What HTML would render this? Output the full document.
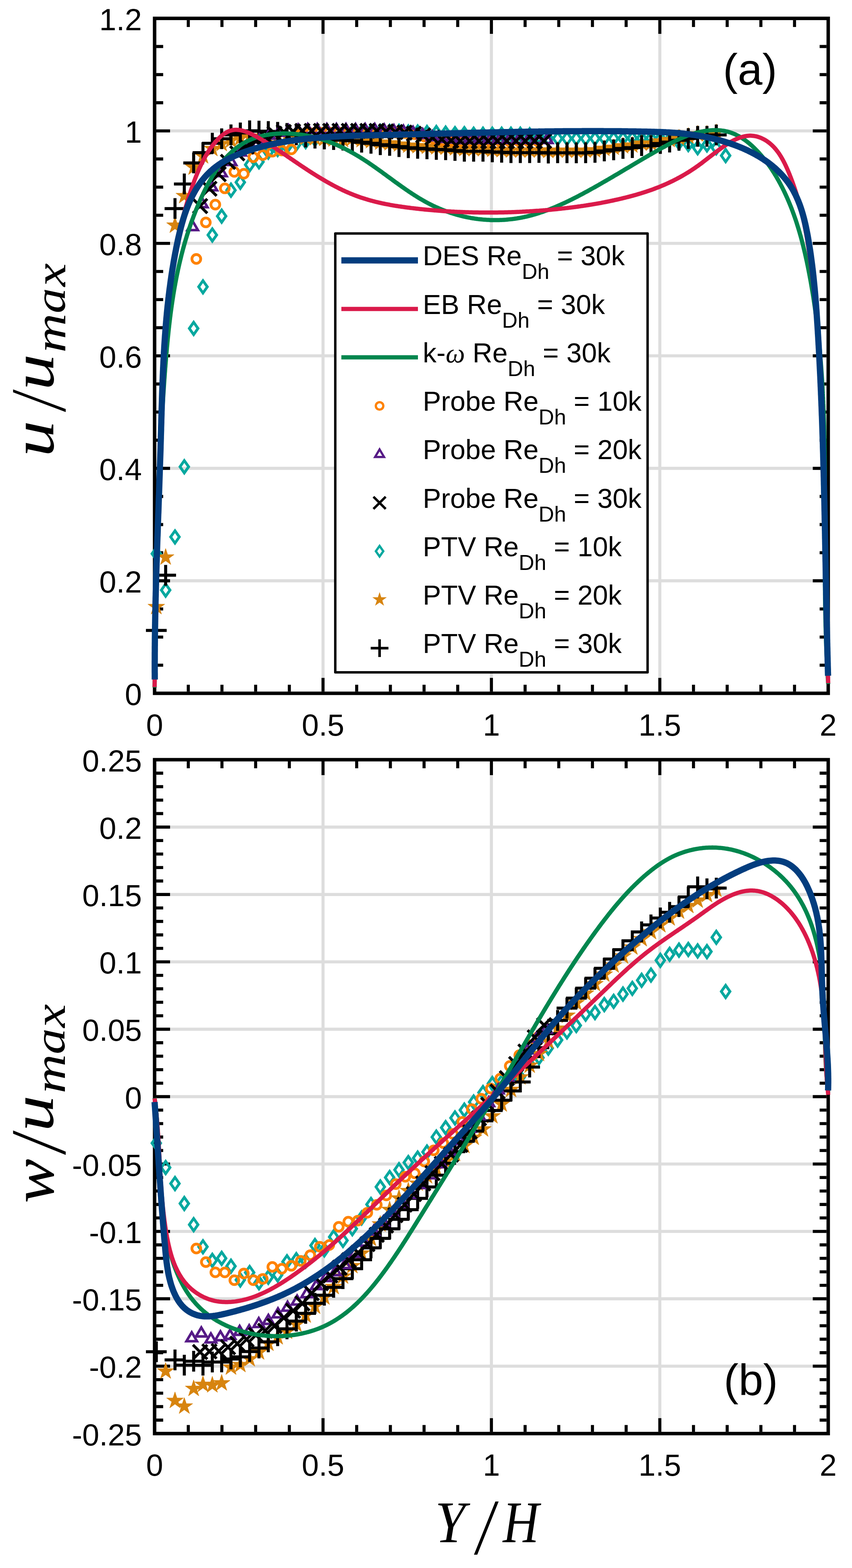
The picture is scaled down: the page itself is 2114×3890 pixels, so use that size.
<!DOCTYPE html>
<html><head><meta charset="utf-8"><title>Velocity profiles</title>
<style>html,body{margin:0;padding:0;background:#fff;}svg{display:block;}</style>
</head><body>
<svg xmlns="http://www.w3.org/2000/svg" width="2114" height="3890" viewBox="0 0 2114 3890">
<defs><clipPath id="ca"><rect x="363.6" y="45.6" width="1711.4" height="1694.4"/></clipPath><clipPath id="cb"><rect x="363.6" y="1864.7" width="1711.4" height="1691.8"/></clipPath></defs>
<rect width="2114" height="3890" fill="#fff"/>
<path d="M801.5 45.6V1720M1219.3 45.6V1720M1637.2 45.6V1720M383.6 1440.9H2055M383.6 1161.9H2055M383.6 882.8H2055M383.6 603.7H2055M383.6 324.7H2055" stroke="#000" stroke-opacity="0.135" stroke-width="7.6" fill="none"/>
<path d="M467.2 49.9v17M467.2 1715.7v-17M550.7 49.9v17M550.7 1715.7v-17M634.3 49.9v17M634.3 1715.7v-17M717.9 49.9v17M717.9 1715.7v-17M801.5 49.9v34M801.5 1715.7v-34M885 49.9v17M885 1715.7v-17M968.6 49.9v17M968.6 1715.7v-17M1052.2 49.9v17M1052.2 1715.7v-17M1135.7 49.9v17M1135.7 1715.7v-17M1219.3 49.9v34M1219.3 1715.7v-34M1302.9 49.9v17M1302.9 1715.7v-17M1386.4 49.9v17M1386.4 1715.7v-17M1470 49.9v17M1470 1715.7v-17M1553.6 49.9v17M1553.6 1715.7v-17M1637.2 49.9v34M1637.2 1715.7v-34M1720.7 49.9v17M1720.7 1715.7v-17M1804.3 49.9v17M1804.3 1715.7v-17M1887.9 49.9v17M1887.9 1715.7v-17M1971.4 49.9v17M1971.4 1715.7v-17M387.9 1650.2h17M2050.7 1650.2h-17M387.9 1580.5h17M2050.7 1580.5h-17M387.9 1510.7h17M2050.7 1510.7h-17M387.9 1440.9h34M2050.7 1440.9h-34M387.9 1371.2h17M2050.7 1371.2h-17M387.9 1301.4h17M2050.7 1301.4h-17M387.9 1231.6h17M2050.7 1231.6h-17M387.9 1161.9h34M2050.7 1161.9h-34M387.9 1092.1h17M2050.7 1092.1h-17M387.9 1022.3h17M2050.7 1022.3h-17M387.9 952.6h17M2050.7 952.6h-17M387.9 882.8h34M2050.7 882.8h-34M387.9 813h17M2050.7 813h-17M387.9 743.3h17M2050.7 743.3h-17M387.9 673.5h17M2050.7 673.5h-17M387.9 603.7h34M2050.7 603.7h-34M387.9 534h17M2050.7 534h-17M387.9 464.2h17M2050.7 464.2h-17M387.9 394.4h17M2050.7 394.4h-17M387.9 324.7h34M2050.7 324.7h-34M387.9 254.9h17M2050.7 254.9h-17M387.9 185.1h17M2050.7 185.1h-17M387.9 115.4h17M2050.7 115.4h-17" stroke="#000" stroke-width="7.6" fill="none"/>
<rect x="383.6" y="45.6" width="1671.4" height="1674.4" fill="none" stroke="#000" stroke-width="8.6"/>
<text x="352" y="1749" text-anchor="end" style="font-family:'Liberation Sans',Arial,Helvetica,sans-serif;font-size:76px">0</text>
<text x="352" y="1469.9" text-anchor="end" style="font-family:'Liberation Sans',Arial,Helvetica,sans-serif;font-size:76px">0.2</text>
<text x="352" y="1190.9" text-anchor="end" style="font-family:'Liberation Sans',Arial,Helvetica,sans-serif;font-size:76px">0.4</text>
<text x="352" y="911.8" text-anchor="end" style="font-family:'Liberation Sans',Arial,Helvetica,sans-serif;font-size:76px">0.6</text>
<text x="352" y="632.7" text-anchor="end" style="font-family:'Liberation Sans',Arial,Helvetica,sans-serif;font-size:76px">0.8</text>
<text x="352" y="353.7" text-anchor="end" style="font-family:'Liberation Sans',Arial,Helvetica,sans-serif;font-size:76px">1</text>
<text x="352" y="74.6" text-anchor="end" style="font-family:'Liberation Sans',Arial,Helvetica,sans-serif;font-size:76px">1.2</text>
<text x="383.6" y="1824.5" text-anchor="middle" style="font-family:'Liberation Sans',Arial,Helvetica,sans-serif;font-size:76px">0</text>
<text x="801.5" y="1824.5" text-anchor="middle" style="font-family:'Liberation Sans',Arial,Helvetica,sans-serif;font-size:76px">0.5</text>
<text x="1219.3" y="1824.5" text-anchor="middle" style="font-family:'Liberation Sans',Arial,Helvetica,sans-serif;font-size:76px">1</text>
<text x="1637.2" y="1824.5" text-anchor="middle" style="font-family:'Liberation Sans',Arial,Helvetica,sans-serif;font-size:76px">1.5</text>
<text x="2055" y="1824.5" text-anchor="middle" style="font-family:'Liberation Sans',Arial,Helvetica,sans-serif;font-size:76px">2</text>
<g fill="none" stroke="#06a89f" stroke-width="6.8" stroke-linejoin="miter"><path d="M387.9 1358.4L398.6 1373.7L387.9 1389L377.1 1373.7Z"/><path d="M411 1448.6L421.8 1464L411 1479.3L400.3 1464Z"/><path d="M434.2 1316.8L444.9 1332.1L434.2 1347.4L423.4 1332.1Z"/><path d="M457.3 1142.6L468.1 1158L457.3 1173.3L446.6 1158Z"/><path d="M480.5 799.5L491.3 814.8L480.5 830.2L469.7 814.8Z"/><path d="M503.6 696.3L514.4 711.6L503.6 726.9L492.9 711.6Z"/><path d="M526.8 567.6L537.6 582.9L526.8 598.3L516 582.9Z"/><path d="M550 520.9L560.7 536.2L550 551.5L539.2 536.2Z"/><path d="M573.1 456.5L583.9 471.9L573.1 487.2L562.4 471.9Z"/><path d="M596.3 436.9L607 452.2L596.3 467.5L585.5 452.2Z"/><path d="M619.4 393.5L630.2 408.8L619.4 424.1L608.7 408.8Z"/><path d="M642.6 386.1L653.4 401.4L642.6 416.7L631.8 401.4Z"/><path d="M665.7 361.8L676.5 377.1L665.7 392.5L655 377.1Z"/><path d="M688.9 355.4L699.7 370.7L688.9 386L678.1 370.7Z"/><path d="M712.1 348.4L722.8 363.7L712.1 379.1L701.3 363.7Z"/><path d="M735.2 341.4L746 356.8L735.2 372.1L724.5 356.8Z"/><path d="M758.4 335.9L769.1 351.2L758.4 366.5L747.6 351.2Z"/><path d="M781.5 330.3L792.3 345.6L781.5 360.9L770.8 345.6Z"/><path d="M804.7 326.1L815.5 341.4L804.7 356.7L793.9 341.4Z"/><path d="M827.8 321.9L838.6 337.2L827.8 352.6L817.1 337.2Z"/><path d="M851 317.7L861.8 333L851 348.4L840.2 333Z"/><path d="M874.2 313.5L884.9 328.9L874.2 344.2L863.4 328.9Z"/><path d="M897.3 312.1L908.1 327.5L897.3 342.8L886.6 327.5Z"/><path d="M920.5 310.7L931.2 326.1L920.5 341.4L909.7 326.1Z"/><path d="M943.6 310.7L954.4 326.1L943.6 341.4L932.9 326.1Z"/><path d="M966.8 310.7L977.6 326.1L966.8 341.4L956 326.1Z"/><path d="M990 310.7L1000.7 326.1L990 341.4L979.2 326.1Z"/><path d="M1013.1 312.1L1023.9 327.5L1013.1 342.8L1002.3 327.5Z"/><path d="M1036.3 312.1L1047 327.5L1036.3 342.8L1025.5 327.5Z"/><path d="M1059.4 313.5L1070.2 328.9L1059.4 344.2L1048.7 328.9Z"/><path d="M1082.6 313.5L1093.3 328.9L1082.6 344.2L1071.8 328.9Z"/><path d="M1105.7 314.9L1116.5 330.2L1105.7 345.6L1095 330.2Z"/><path d="M1128.9 316.3L1139.7 331.6L1128.9 347L1118.1 331.6Z"/><path d="M1152.1 316.3L1162.8 331.6L1152.1 347L1141.3 331.6Z"/><path d="M1175.2 317.7L1186 333L1175.2 348.4L1164.4 333Z"/><path d="M1198.4 317.7L1209.1 333L1198.4 348.4L1187.6 333Z"/><path d="M1221.5 317.7L1232.3 333L1221.5 348.4L1210.8 333Z"/><path d="M1244.7 317.7L1255.4 333L1244.7 348.4L1233.9 333Z"/><path d="M1267.8 317.7L1278.6 333L1267.8 348.4L1257.1 333Z"/><path d="M1291 317.7L1301.8 333L1291 348.4L1280.2 333Z"/><path d="M1314.2 319.1L1324.9 334.4L1314.2 349.8L1303.4 334.4Z"/><path d="M1337.3 323.3L1348.1 338.6L1337.3 353.9L1326.5 338.6Z"/><path d="M1360.5 328.3L1371.2 343.6L1360.5 359L1349.7 343.6Z"/><path d="M1383.6 328.3L1394.4 343.6L1383.6 359L1372.9 343.6Z"/><path d="M1406.8 328.3L1417.5 343.6L1406.8 359L1396 343.6Z"/><path d="M1429.9 328.3L1440.7 343.6L1429.9 359L1419.2 343.6Z"/><path d="M1453.1 328.3L1463.9 343.6L1453.1 359L1442.3 343.6Z"/><path d="M1476.3 328.3L1487 343.6L1476.3 359L1465.5 343.6Z"/><path d="M1499.4 328.3L1510.2 343.6L1499.4 359L1488.6 343.6Z"/><path d="M1522.6 328.3L1533.3 343.6L1522.6 359L1511.8 343.6Z"/><path d="M1545.7 328.3L1556.5 343.6L1545.7 359L1535 343.6Z"/><path d="M1568.9 327.5L1579.6 342.8L1568.9 358.1L1558.1 342.8Z"/><path d="M1592 327.5L1602.8 342.8L1592 358.1L1581.3 342.8Z"/><path d="M1615.2 327.5L1626 342.8L1615.2 358.1L1604.4 342.8Z"/><path d="M1638.4 327.5L1649.1 342.8L1638.4 358.1L1627.6 342.8Z"/><path d="M1661.5 330.3L1672.3 345.6L1661.5 360.9L1650.7 345.6Z"/><path d="M1684.7 338.6L1695.4 354L1684.7 369.3L1673.9 354Z"/><path d="M1707.8 343.1L1718.6 358.4L1707.8 373.8L1697.1 358.4Z"/><path d="M1731 351.2L1741.7 366.5L1731 381.9L1720.2 366.5Z"/><path d="M1754.1 344.2L1764.9 359.5L1754.1 374.9L1743.4 359.5Z"/><path d="M1777.3 351.2L1788.1 366.5L1777.3 381.9L1766.5 366.5Z"/><path d="M1800.5 370.7L1811.2 386.1L1800.5 401.4L1789.7 386.1Z"/></g>
<g fill="#d7840f" stroke="#d7840f" stroke-width="1"><polygon points="387.9,1483.7 392.8,1498.9 408.8,1498.9 395.9,1508.3 400.8,1523.5 387.9,1514.1 374.9,1523.5 379.9,1508.3 366.9,1498.9 382.9,1498.9"/><polygon points="411,1360.8 416,1376 431.9,1376 419,1385.3 423.9,1400.5 411,1391.2 398.1,1400.5 403,1385.3 390.1,1376 406.1,1376"/><polygon points="434.2,537.4 439.1,552.6 455.1,552.6 442.2,562 447.1,577.2 434.2,567.8 421.2,577.2 426.2,562 413.3,552.6 429.2,552.6"/><polygon points="457.3,464.1 462.3,479.3 478.3,479.3 465.3,488.7 470.3,503.9 457.3,494.5 444.4,503.9 449.3,488.7 436.4,479.3 452.4,479.3"/><polygon points="480.5,393.4 485.4,408.6 501.4,408.6 488.5,418 493.4,433.2 480.5,423.8 467.6,433.2 472.5,418 459.6,408.6 475.6,408.6"/><polygon points="503.6,365.5 508.6,380.7 524.6,380.7 511.6,390.1 516.6,405.3 503.6,395.9 490.7,405.3 495.7,390.1 482.7,380.7 498.7,380.7"/><polygon points="526.8,347.3 531.7,362.5 547.7,362.5 534.8,371.9 539.7,387.1 526.8,377.7 513.9,387.1 518.8,371.9 505.9,362.5 521.9,362.5"/><polygon points="550,334.8 554.9,350 570.9,350 558,359.4 562.9,374.6 550,365.2 537,374.6 542,359.4 529,350 545,350"/><polygon points="573.1,326.4 578.1,341.6 594,341.6 581.1,351 586,366.2 573.1,356.8 560.2,366.2 565.1,351 552.2,341.6 568.2,341.6"/><polygon points="596.3,320.8 601.2,336 617.2,336 604.3,345.4 609.2,360.6 596.3,351.2 583.3,360.6 588.3,345.4 575.4,336 591.3,336"/><polygon points="619.4,318 624.4,333.2 640.4,333.2 627.4,342.6 632.4,357.8 619.4,348.4 606.5,357.8 611.4,342.6 598.5,333.2 614.5,333.2"/><polygon points="642.6,316.6 647.5,331.8 663.5,331.8 650.6,341.2 655.5,356.4 642.6,347 629.7,356.4 634.6,341.2 621.7,331.8 637.7,331.8"/><polygon points="665.7,316.6 670.7,331.8 686.7,331.8 673.7,341.2 678.7,356.4 665.7,347 652.8,356.4 657.8,341.2 644.8,331.8 660.8,331.8"/><polygon points="688.9,316.6 693.8,331.8 709.8,331.8 696.9,341.2 701.8,356.4 688.9,347 676,356.4 680.9,341.2 668,331.8 684,331.8"/><polygon points="712.1,316.6 717,331.8 733,331.8 720.1,341.2 725,356.4 712.1,347 699.1,356.4 704.1,341.2 691.1,331.8 707.1,331.8"/><polygon points="735.2,318 740.2,333.2 756.1,333.2 743.2,342.6 748.1,357.8 735.2,348.4 722.3,357.8 727.2,342.6 714.3,333.2 730.3,333.2"/><polygon points="758.4,319.4 763.3,334.6 779.3,334.6 766.4,344 771.3,359.2 758.4,349.8 745.4,359.2 750.4,344 737.5,334.6 753.4,334.6"/><polygon points="781.5,320.8 786.5,336 802.5,336 789.5,345.4 794.5,360.6 781.5,351.2 768.6,360.6 773.5,345.4 760.6,336 776.6,336"/><polygon points="804.7,322.2 809.6,337.4 825.6,337.4 812.7,346.8 817.6,362 804.7,352.6 791.8,362 796.7,346.8 783.8,337.4 799.8,337.4"/><polygon points="827.8,323.6 832.8,338.8 848.8,338.8 835.8,348.2 840.8,363.4 827.8,354 814.9,363.4 819.9,348.2 806.9,338.8 822.9,338.8"/><polygon points="851,325 855.9,340.2 871.9,340.2 859,349.6 863.9,364.8 851,355.4 838.1,364.8 843,349.6 830.1,340.2 846.1,340.2"/><polygon points="874.2,321.6 879.1,336.8 895.1,336.8 882.2,346.2 887.1,361.4 874.2,352 861.2,361.4 866.2,346.2 853.2,336.8 869.2,336.8"/><polygon points="897.3,325.3 902.3,340.5 918.2,340.5 905.3,349.9 910.3,365.1 897.3,355.7 884.4,365.1 889.3,349.9 876.4,340.5 892.4,340.5"/><polygon points="920.5,327.9 925.4,343.1 941.4,343.1 928.5,352.5 933.4,367.7 920.5,358.3 907.5,367.7 912.5,352.5 899.6,343.1 915.5,343.1"/><polygon points="943.6,331.4 948.6,346.6 964.6,346.6 951.6,356 956.6,371.2 943.6,361.8 930.7,371.2 935.6,356 922.7,346.6 938.7,346.6"/><polygon points="966.8,333.2 971.7,348.4 987.7,348.4 974.8,357.8 979.7,373 966.8,363.6 953.9,373 958.8,357.8 945.9,348.4 961.9,348.4"/><polygon points="990,336.2 994.9,351.4 1010.9,351.4 997.9,360.8 1002.9,375.9 990,366.6 977,375.9 982,360.8 969,351.4 985,351.4"/><polygon points="1013.1,338.9 1018,354.1 1034,354.1 1021.1,363.5 1026,378.7 1013.1,369.3 1000.2,378.7 1005.1,363.5 992.2,354.1 1008.2,354.1"/><polygon points="1036.3,340.3 1041.2,355.5 1057.2,355.5 1044.3,364.9 1049.2,380.1 1036.3,370.7 1023.3,380.1 1028.3,364.9 1015.3,355.5 1031.3,355.5"/><polygon points="1059.4,341.7 1064.4,356.9 1080.3,356.9 1067.4,366.3 1072.4,381.5 1059.4,372.1 1046.5,381.5 1051.4,366.3 1038.5,356.9 1054.5,356.9"/><polygon points="1082.6,343.1 1087.5,358.3 1103.5,358.3 1090.6,367.7 1095.5,382.9 1082.6,373.5 1069.7,382.9 1074.6,367.7 1061.7,358.3 1077.6,358.3"/><polygon points="1105.7,344 1110.7,359.2 1126.7,359.2 1113.7,368.6 1118.7,383.8 1105.7,374.4 1092.8,383.8 1097.7,368.6 1084.8,359.2 1100.8,359.2"/><polygon points="1128.9,345.8 1133.8,361 1149.8,361 1136.9,370.4 1141.8,385.6 1128.9,376.2 1116,385.6 1120.9,370.4 1108,361 1124,361"/><polygon points="1152.1,347.6 1157,362.8 1173,362.8 1160,372.2 1165,387.4 1152.1,378 1139.1,387.4 1144.1,372.2 1131.1,362.8 1147.1,362.8"/><polygon points="1175.2,347.6 1180.1,362.8 1196.1,362.8 1183.2,372.2 1188.1,387.4 1175.2,378 1162.3,387.4 1167.2,372.2 1154.3,362.8 1170.3,362.8"/><polygon points="1198.4,347.6 1203.3,362.8 1219.3,362.8 1206.4,372.2 1211.3,387.4 1198.4,378 1185.4,387.4 1190.4,372.2 1177.4,362.8 1193.4,362.8"/><polygon points="1221.5,349.3 1226.5,364.5 1242.4,364.5 1229.5,373.9 1234.5,389.1 1221.5,379.7 1208.6,389.1 1213.5,373.9 1200.6,364.5 1216.6,364.5"/><polygon points="1244.7,350.3 1249.6,365.4 1265.6,365.5 1252.7,374.8 1257.6,390 1244.7,380.7 1231.8,390 1236.7,374.8 1223.8,365.5 1239.7,365.4"/><polygon points="1267.8,351.1 1272.8,366.3 1288.8,366.3 1275.8,375.7 1280.8,390.9 1267.8,381.5 1254.9,390.9 1259.8,375.7 1246.9,366.3 1262.9,366.3"/><polygon points="1291,351.1 1295.9,366.3 1311.9,366.3 1299,375.7 1303.9,390.9 1291,381.5 1278.1,390.9 1283,375.7 1270.1,366.3 1286.1,366.3"/><polygon points="1314.2,351.1 1319.1,366.3 1335.1,366.3 1322.1,375.7 1327.1,390.9 1314.2,381.5 1301.2,390.9 1306.2,375.7 1293.2,366.3 1309.2,366.3"/><polygon points="1337.3,350.8 1342.2,366 1358.2,366 1345.3,375.4 1350.2,390.6 1337.3,381.2 1324.4,390.6 1329.3,375.4 1316.4,366 1332.4,366"/><polygon points="1360.5,352.1 1365.4,367.3 1381.4,367.3 1368.5,376.7 1373.4,391.9 1360.5,382.5 1347.5,391.9 1352.5,376.7 1339.5,367.3 1355.5,367.3"/><polygon points="1383.6,351.4 1388.6,366.6 1404.5,366.6 1391.6,376 1396.6,391.2 1383.6,381.8 1370.7,391.2 1375.6,376 1362.7,366.6 1378.7,366.6"/><polygon points="1406.8,351.4 1411.7,366.6 1427.7,366.6 1414.8,376 1419.7,391.2 1406.8,381.8 1393.9,391.2 1398.8,376 1385.9,366.6 1401.8,366.6"/><polygon points="1429.9,351.8 1434.9,367 1450.9,367 1437.9,376.4 1442.9,391.6 1429.9,382.2 1417,391.6 1421.9,376.4 1409,367 1425,367"/><polygon points="1453.1,351.4 1458,366.6 1474,366.6 1461.1,376 1466,391.2 1453.1,381.8 1440.2,391.2 1445.1,376 1432.2,366.6 1448.2,366.6"/><polygon points="1476.3,350.5 1481.2,365.7 1497.2,365.7 1484.2,375.1 1489.2,390.3 1476.3,380.9 1463.3,390.3 1468.3,375.1 1455.3,365.7 1471.3,365.7"/><polygon points="1499.4,346.9 1504.3,362.1 1520.3,362.1 1507.4,371.5 1512.3,386.7 1499.4,377.3 1486.5,386.7 1491.4,371.5 1478.5,362.1 1494.5,362.1"/><polygon points="1522.6,344.3 1527.5,359.4 1543.5,359.5 1530.6,368.8 1535.5,384 1522.6,374.7 1509.6,384 1514.6,368.8 1501.6,359.5 1517.6,359.4"/><polygon points="1545.7,340.6 1550.7,355.8 1566.6,355.8 1553.7,365.2 1558.7,380.4 1545.7,371 1532.8,380.4 1537.7,365.2 1524.8,355.8 1540.8,355.8"/><polygon points="1568.9,338.7 1573.8,353.9 1589.8,353.9 1576.9,363.3 1581.8,378.5 1568.9,369.1 1556,378.5 1560.9,363.3 1548,353.9 1563.9,353.9"/><polygon points="1592,333.8 1597,349 1613,349 1600,358.4 1605,373.6 1592,364.2 1579.1,373.6 1584,358.4 1571.1,349 1587.1,349"/><polygon points="1615.2,333.8 1620.1,349 1636.1,349 1623.2,358.4 1628.1,373.6 1615.2,364.2 1602.3,373.6 1607.2,358.4 1594.3,349 1610.3,349"/><polygon points="1638.4,328.5 1643.3,343.7 1659.3,343.7 1646.3,353.1 1651.3,368.3 1638.4,358.9 1625.4,368.3 1630.4,353.1 1617.4,343.7 1633.4,343.7"/><polygon points="1661.5,325 1666.4,340.2 1682.4,340.2 1669.5,349.6 1674.4,364.8 1661.5,355.4 1648.6,364.8 1653.5,349.6 1640.6,340.2 1656.6,340.2"/><polygon points="1684.7,320.5 1689.6,335.7 1705.6,335.7 1692.7,345.1 1697.6,360.3 1684.7,350.9 1671.7,360.3 1676.7,345.1 1663.7,335.7 1679.7,335.7"/><polygon points="1707.8,316.1 1712.8,331.3 1728.7,331.3 1715.8,340.7 1720.8,355.9 1707.8,346.5 1694.9,355.9 1699.8,340.7 1686.9,331.3 1702.9,331.3"/><polygon points="1731,310.8 1735.9,326 1751.9,326 1739,335.4 1743.9,350.6 1731,341.2 1718.1,350.6 1723,335.4 1710.1,326 1726,326"/><polygon points="1754.1,310.8 1759.1,326 1775.1,326 1762.1,335.4 1767.1,350.6 1754.1,341.2 1741.2,350.6 1746.1,335.4 1733.2,326 1749.2,326"/><polygon points="1777.3,307.1 1782.2,322.3 1798.2,322.3 1785.3,331.7 1790.2,346.9 1777.3,337.5 1764.4,346.9 1769.3,331.7 1756.4,322.3 1772.4,322.3"/></g>
<path d="M362.1 1564H413.6M387.9 1538.3V1589.7M385.3 1427.1H436.8M411 1401.4V1452.9M408.4 517.4H459.9M434.2 491.6V543.1M431.6 456.4H483.1M457.3 430.6V482.1M454.8 404.2H506.2M480.5 378.5V429.9M477.9 378.7H529.4M503.6 352.9V404.4M501.1 355.4H552.5M526.8 329.6V381.1M524.2 344.2H575.7M550 318.5V369.9M547.4 334.4H598.9M573.1 308.7V360.2M570.5 329.7H622M596.3 303.9V355.4M593.7 324.5H645.2M619.4 298.8V350.3M616.9 325.4H668.3M642.6 299.6V351.1M640 326.3H691.5M665.7 300.6V352.1M663.2 328.2H714.6M688.9 302.4V353.9M686.3 330.9H737.8M712.1 305.2V356.7M709.5 334.4H761M735.2 308.7V360.2M732.6 340H784.1M758.4 314.3V365.8M755.8 342.8H807.3M781.5 317.1V368.5M779 344.9H830.4M804.7 319.2V370.6M802.1 346.3H853.6M827.8 320.6V372M825.3 347.7H876.7M851 321.9V373.4M848.4 349.2H899.9M874.2 323.5V375M871.6 352.9H923.1M897.3 327.1V378.6M894.7 355.5H946.2M920.5 329.8V381.2M917.9 359H969.4M943.6 333.3V384.7M941.1 360.8H992.5M966.8 335.1V386.5M964.2 363.7H1015.7M990 338V389.5M987.4 366.5H1038.8M1013.1 340.8V392.3M1010.5 367.9H1062M1036.3 342.2V393.7M1033.7 369.3H1085.2M1059.4 343.6V395.1M1056.8 370.7H1108.3M1082.6 345V396.5M1080 371.5H1131.5M1105.7 345.8V397.3M1103.2 373.4H1154.6M1128.9 347.6V399.1M1126.3 375.2H1177.8M1152.1 349.4V400.9M1149.5 375.2H1200.9M1175.2 349.4V400.9M1172.6 375.2H1224.1M1198.4 349.4V400.9M1195.8 376.9H1247.3M1221.5 351.1V402.6M1218.9 377.8H1270.4M1244.7 352.1V403.6M1242.1 378.7H1293.6M1267.8 352.9V404.4M1265.3 378.7H1316.7M1291 352.9V404.4M1288.4 378.7H1339.9M1314.2 352.9V404.4M1311.6 378.4H1363M1337.3 352.6V404.1M1334.7 379.6H1386.2M1360.5 353.9V405.4M1357.9 378.9H1409.4M1383.6 353.2V404.7M1381 378.9H1432.5M1406.8 353.2V404.7M1404.2 379.4H1455.7M1429.9 353.6V405.1M1427.4 378.9H1478.8M1453.1 353.2V404.7M1450.5 378.1H1502M1476.3 352.4V403.8M1473.7 374.5H1525.1M1499.4 348.7V400.2M1496.8 371.8H1548.3M1522.6 346.1V397.6M1520 368.2H1571.5M1545.7 342.5V393.9M1543.1 366.2H1594.6M1568.9 340.5V392M1566.3 361.4H1617.8M1592 335.6V387.1M1589.5 361.4H1640.9M1615.2 335.6V387.1M1612.6 356.1H1664.1M1638.4 330.3V381.8M1635.8 352.6H1687.3M1661.5 326.8V378.3M1658.9 348.1H1710.4M1684.7 322.4V373.8M1682.1 343.6H1733.6M1707.8 317.9V369.4M1705.2 338.3H1756.7M1731 312.6V364.1M1728.4 338.3H1779.9M1754.1 312.6V364.1M1751.6 334.7H1803M1777.3 309V360.5" fill="none" stroke="#000" stroke-width="7.5"/>
<g fill="none" stroke="#ff8200" stroke-width="6.8"><circle cx="487.1" cy="642.4" r="10.9"/><circle cx="510.7" cy="551.8" r="10.9"/><circle cx="534.3" cy="507.6" r="10.9"/><circle cx="557.8" cy="467.3" r="10.9"/><circle cx="581.4" cy="426.5" r="10.9"/><circle cx="605" cy="431" r="10.9"/><circle cx="628.5" cy="390.1" r="10.9"/><circle cx="652.1" cy="384.7" r="10.9"/><circle cx="675.7" cy="376.3" r="10.9"/><circle cx="699.2" cy="373.5" r="10.9"/><circle cx="722.8" cy="370.7" r="10.9"/><circle cx="746.4" cy="333" r="10.9"/><circle cx="769.9" cy="330.2" r="10.9"/><circle cx="793.5" cy="328.9" r="10.9"/><circle cx="817.1" cy="328.9" r="10.9"/><circle cx="840.6" cy="328.9" r="10.9"/><circle cx="864.2" cy="328.9" r="10.9"/><circle cx="887.8" cy="328.9" r="10.9"/><circle cx="911.3" cy="328.9" r="10.9"/><circle cx="934.9" cy="328.9" r="10.9"/><circle cx="958.5" cy="328.9" r="10.9"/><circle cx="982" cy="328.9" r="10.9"/><circle cx="1005.6" cy="330.2" r="10.9"/><circle cx="1029.2" cy="333" r="10.9"/><circle cx="1052.7" cy="338.6" r="10.9"/><circle cx="1076.3" cy="344.2" r="10.9"/><circle cx="1099.9" cy="348.4" r="10.9"/><circle cx="1123.4" cy="349.8" r="10.9"/><circle cx="1147" cy="351.2" r="10.9"/><circle cx="1170.6" cy="351.2" r="10.9"/><circle cx="1194.1" cy="351.2" r="10.9"/><circle cx="1217.7" cy="351.2" r="10.9"/><circle cx="1241.3" cy="351.2" r="10.9"/><circle cx="1264.8" cy="351.2" r="10.9"/><circle cx="1288.4" cy="351.2" r="10.9"/><circle cx="1312" cy="351.2" r="10.9"/><circle cx="1335.5" cy="351.2" r="10.9"/></g>
<g fill="none" stroke="#561a86" stroke-width="6.3" stroke-linejoin="miter"><path d="M478 548.6L491.1 570.8L464.9 570.8Z"/><path d="M501.8 491.8L514.9 514L488.7 514Z"/><path d="M525.6 449.9L538.7 472.1L512.5 472.1Z"/><path d="M549.4 415L562.5 437.2L536.3 437.2Z"/><path d="M573.1 387.1L586.2 409.3L560 409.3Z"/><path d="M596.9 363.4L610 385.6L583.8 385.6Z"/><path d="M620.7 345.3L633.8 367.5L607.6 367.5Z"/><path d="M644.5 331.3L657.6 353.5L631.4 353.5Z"/><path d="M668.2 321.6L681.3 343.8L655.1 343.8Z"/><path d="M692 314.6L705.1 336.8L678.9 336.8Z"/><path d="M715.8 310.4L728.9 332.6L702.7 332.6Z"/><path d="M739.6 309L752.7 331.2L726.5 331.2Z"/><path d="M763.3 307.6L776.4 329.8L750.2 329.8Z"/><path d="M787.1 307.6L800.2 329.8L774 329.8Z"/><path d="M810.9 307.6L824 329.8L797.8 329.8Z"/><path d="M834.7 307.6L847.8 329.8L821.6 329.8Z"/><path d="M858.4 307.6L871.5 329.8L845.3 329.8Z"/><path d="M882.2 307.6L895.3 329.8L869.1 329.8Z"/><path d="M906 307.6L919.1 329.8L892.9 329.8Z"/><path d="M929.8 307.6L942.9 329.8L916.7 329.8Z"/><path d="M953.5 309L966.7 331.2L940.4 331.2Z"/><path d="M977.3 310.4L990.4 332.6L964.2 332.6Z"/><path d="M1001.1 311.8L1014.2 334L988 334Z"/><path d="M1024.9 314.6L1038 336.8L1011.8 336.8Z"/><path d="M1048.7 320.2L1061.8 342.4L1035.5 342.4Z"/><path d="M1072.4 325.7L1085.5 347.9L1059.3 347.9Z"/><path d="M1096.2 329.9L1109.3 352.1L1083.1 352.1Z"/><path d="M1120 331.3L1133.1 353.5L1106.9 353.5Z"/><path d="M1143.8 332.7L1156.9 354.9L1130.6 354.9Z"/><path d="M1167.5 332.7L1180.6 354.9L1154.4 354.9Z"/><path d="M1191.3 332.7L1204.4 354.9L1178.2 354.9Z"/><path d="M1215.1 332.7L1228.2 354.9L1202 354.9Z"/><path d="M1238.9 332.7L1252 354.9L1225.8 354.9Z"/><path d="M1262.6 332.7L1275.7 354.9L1249.5 354.9Z"/><path d="M1286.4 332.7L1299.5 354.9L1273.3 354.9Z"/><path d="M1310.2 332.7L1323.3 354.9L1297.1 354.9Z"/><path d="M1334 332.7L1347.1 354.9L1320.9 354.9Z"/><path d="M1357.7 332.7L1370.8 354.9L1344.6 354.9Z"/></g>
<path d="M478.7 493.4L514.3 529M478.7 529L514.3 493.4M501.8 450.5L537.4 486M501.8 486L537.4 450.5M524.8 414.3L560.4 449.9M524.8 449.9L560.4 414.3M547.9 383.6L583.5 419.2M547.9 419.2L583.5 383.6M571 362.7L606.5 398.3M571 398.3L606.5 362.7M594 346L629.6 381.5M594 381.5L629.6 346M617.1 332L652.7 367.6M617.1 367.6L652.7 332M640.2 320.8L675.7 356.4M640.2 356.4L675.7 320.8M663.2 313.9L698.8 349.4M663.2 349.4L698.8 313.9M686.3 309.7L721.9 345.2M686.3 345.2L721.9 309.7M709.4 308.3L744.9 343.8M709.4 343.8L744.9 308.3M732.4 306.9L768 342.5M732.4 342.5L768 306.9M755.5 306.9L791.1 342.5M755.5 342.5L791.1 306.9M778.6 306.9L814.1 342.5M778.6 342.5L814.1 306.9M801.6 306.9L837.2 342.5M801.6 342.5L837.2 306.9M824.7 306.9L860.3 342.5M824.7 342.5L860.3 306.9M847.8 306.9L883.3 342.5M847.8 342.5L883.3 306.9M870.8 306.9L906.4 342.5M870.8 342.5L906.4 306.9M893.9 306.9L929.5 342.5M893.9 342.5L929.5 306.9M917 306.9L952.5 342.5M917 342.5L952.5 306.9M940 308.3L975.6 343.8M940 343.8L975.6 308.3M963.1 309.7L998.7 345.2M963.1 345.2L998.7 309.7M986.2 311.1L1021.7 346.6M986.2 346.6L1021.7 311.1M1009.2 313.9L1044.8 349.4M1009.2 349.4L1044.8 313.9M1032.3 318L1067.9 353.6M1032.3 353.6L1067.9 318M1055.4 323.6L1090.9 359.2M1055.4 359.2L1090.9 323.6M1078.4 327.8L1114 363.4M1078.4 363.4L1114 327.8M1101.5 330.6L1137.1 366.2M1101.5 366.2L1137.1 330.6M1124.5 332L1160.1 367.6M1124.5 367.6L1160.1 332M1147.6 332L1183.2 367.6M1147.6 367.6L1183.2 332M1170.7 332L1206.2 367.6M1170.7 367.6L1206.2 332M1193.7 332L1229.3 367.6M1193.7 367.6L1229.3 332M1216.8 332L1252.4 367.6M1216.8 367.6L1252.4 332M1239.9 332L1275.4 367.6M1239.9 367.6L1275.4 332M1262.9 332L1298.5 367.6M1262.9 367.6L1298.5 332M1286 332L1321.6 367.6M1286 367.6L1321.6 332M1309.1 332L1344.6 367.6M1309.1 367.6L1344.6 332M1332.1 332L1367.7 367.6M1332.1 367.6L1367.7 332" fill="none" stroke="#000" stroke-width="7"/>
<path d="M383.6,1706.0 383.7,1703.1 383.7,1700.1 383.8,1697.2 383.8,1694.2 383.9,1691.3 383.9,1688.3 384.0,1685.4 384.1,1682.4 384.1,1679.5 384.2,1676.5 384.2,1673.6 384.3,1670.6 384.3,1667.6 384.4,1664.7 384.4,1661.7 384.5,1658.7 384.6,1655.8 384.6,1652.8 384.7,1649.9 384.7,1646.9 384.8,1643.9 384.8,1641.0 384.9,1638.0 384.9,1635.0 385.0,1632.0 385.0,1629.1 385.1,1626.1 385.1,1623.1 385.2,1620.2 385.2,1617.2 385.3,1614.2 385.3,1611.2 385.4,1608.3 385.4,1605.3 385.5,1602.3 385.5,1599.3 385.6,1596.3 385.6,1593.4 385.7,1590.4 385.7,1587.4 385.8,1584.4 385.8,1581.4 385.9,1578.5 385.9,1575.5 386.0,1572.5 386.0,1569.5 386.1,1566.5 386.1,1563.5 386.2,1560.5 386.2,1557.5 386.3,1554.6 386.3,1551.6 386.4,1548.6 386.4,1545.6 386.5,1542.6 386.5,1539.6 386.6,1536.6 386.6,1533.6 386.7,1530.6 386.7,1527.6 386.8,1524.6 386.8,1521.6 386.9,1518.6 386.9,1515.6 387.0,1512.6 387.1,1509.6 387.1,1506.6 387.2,1503.6 387.2,1500.6 387.3,1497.6 387.3,1494.6 387.4,1491.6 387.4,1488.6 387.5,1485.6 387.5,1482.6 387.6,1479.6 387.6,1476.6 387.7,1473.6 387.7,1470.6 387.8,1467.6 387.8,1464.6 387.9,1461.6 388.0,1458.6 388.0,1455.6 388.1,1452.6 388.1,1449.6 388.2,1446.6 388.2,1443.6 388.3,1440.5 388.3,1437.5 388.4,1434.5 388.5,1431.5 388.5,1428.5 388.6,1425.5 388.6,1422.5 388.7,1419.5 388.8,1416.5 388.8,1413.5 388.9,1410.4 388.9,1407.4 389.0,1404.4 389.1,1401.4 389.1,1398.4 389.2,1395.4 389.2,1392.4 389.3,1389.3 389.4,1386.3 389.4,1383.3 389.5,1380.3 389.6,1377.3 389.6,1374.3 389.7,1371.2 389.8,1368.2 389.8,1365.2 389.9,1362.2 390.0,1359.2 390.0,1356.2 390.1,1353.1 390.2,1350.1 390.2,1347.1 390.3,1344.1 390.4,1341.1 390.4,1338.0 390.5,1335.0 390.6,1332.0 390.7,1329.0 390.7,1326.0 390.8,1322.9 390.9,1319.9 391.0,1316.9 391.0,1313.9 391.1,1310.9 391.2,1307.8 391.3,1304.8 391.4,1301.8 391.4,1298.8 391.5,1295.8 391.6,1292.7 391.7,1289.7 391.8,1286.7 391.8,1283.7 391.9,1280.7 392.0,1277.6 392.1,1274.6 392.2,1271.6 392.3,1268.6 392.4,1265.5 392.5,1262.5 392.5,1259.5 392.6,1256.5 392.7,1253.5 392.8,1250.4 392.9,1247.4 393.0,1244.4 393.1,1241.4 393.2,1238.4 393.3,1235.3 393.4,1232.3 393.5,1229.3 393.6,1226.3 393.7,1223.2 393.8,1220.2 393.9,1217.2 394.0,1214.2 394.1,1211.2 394.2,1208.1 394.3,1205.1 394.4,1202.1 394.5,1199.1 394.6,1196.1 394.7,1193.0 394.8,1190.0 394.9,1187.0 395.0,1184.0 395.2,1181.0 395.3,1177.9 395.4,1174.9 395.5,1171.9 395.6,1168.9 395.7,1165.9 395.8,1162.8 396.0,1159.8 396.1,1156.8 396.2,1153.8 396.3,1150.8 396.5,1147.7 396.6,1144.7 396.7,1141.7 396.8,1138.7 397.0,1135.7 397.1,1132.7 397.2,1129.6 397.3,1126.6 397.5,1123.6 397.6,1120.6 397.7,1117.6 397.9,1114.6 398.0,1111.6 398.2,1108.5 398.3,1105.5 398.4,1102.5 398.6,1099.5 398.7,1096.5 398.9,1093.5 399.0,1090.5 399.2,1087.4 399.3,1084.4 399.4,1081.4 399.6,1078.4 399.7,1075.4 399.9,1072.4 400.1,1069.4 400.2,1066.4 400.4,1063.4 400.5,1060.4 400.7,1057.3 400.8,1054.3 401.0,1051.3 401.2,1048.3 401.3,1045.3 401.5,1042.3 401.7,1039.3 401.8,1036.3 402.0,1033.3 402.2,1030.3 402.3,1027.3 402.5,1024.3 402.7,1021.3 402.9,1018.3 403.0,1015.3 403.2,1012.3 403.4,1009.3 403.6,1006.3 403.8,1003.3 403.9,1000.3 404.1,997.3 404.3,994.3 404.5,991.3 404.7,988.3 404.9,985.3 405.1,982.3 405.3,979.3 405.5,976.3 405.7,973.3 405.9,970.3 406.1,967.3 406.3,964.3 406.5,961.3 406.7,958.3 406.9,955.4 407.1,952.4 407.3,949.4 407.5,946.4 407.7,943.4 407.9,940.4 408.2,937.4 408.4,934.4 408.6,931.5 408.8,928.5 409.0,925.5 409.3,922.5 409.5,919.5 409.7,916.5 409.9,913.6 410.2,910.6 410.4,907.6 410.6,904.6 410.9,901.6 411.1,898.7 411.4,895.7 411.6,892.7 411.8,889.7 412.1,886.8 412.3,883.8 412.6,880.8 412.8,877.8 413.1,874.9 413.4,871.9 413.6,868.9 413.9,866.0 414.1,863.0 414.4,860.0 414.7,857.1 415.0,854.1 415.2,851.1 415.5,848.2 415.8,845.2 416.1,842.2 416.4,839.3 416.7,836.3 417.0,833.4 417.3,830.4 417.6,827.5 417.9,824.5 418.2,821.5 418.5,818.6 418.8,815.6 419.2,812.7 419.5,809.7 419.8,806.8 420.2,803.8 420.5,800.9 420.9,797.9 421.2,795.0 421.6,792.0 421.9,789.1 422.3,786.1 422.7,783.2 423.0,780.3 423.4,777.3 423.8,774.4 424.2,771.4 424.6,768.5 425.0,765.6 425.4,762.6 425.8,759.7 426.2,756.8 426.7,753.8 427.1,750.9 427.5,748.0 428.0,745.0 428.4,742.1 428.9,739.2 429.3,736.3 429.8,733.3 430.2,730.4 430.7,727.5 431.2,724.6 431.7,721.7 432.2,718.7 432.7,715.8 433.2,712.9 433.7,710.0 434.3,707.1 434.8,704.2 435.3,701.2 435.9,698.3 436.4,695.4 437.0,692.5 437.5,689.6 438.1,686.7 438.7,683.8 439.3,680.9 439.9,678.0 440.5,675.1 441.1,672.2 441.7,669.3 442.3,666.4 443.0,663.5 443.6,660.6 444.3,657.7 444.9,654.8 445.6,651.9 446.3,649.0 447.0,646.1 447.7,643.3 448.4,640.4 449.1,637.5 449.8,634.6 450.5,631.7 451.3,628.8 452.0,626.0 452.8,623.1 453.5,620.2 454.3,617.3 455.1,614.5 455.9,611.6 456.7,608.7 457.5,605.8 458.3,603.0 459.1,600.1 460.0,597.2 460.8,594.4 461.7,591.5 462.6,588.7 463.4,585.8 464.3,582.9 465.2,580.1 466.1,577.2 467.1,574.4 468.0,571.5 468.9,568.7 469.9,565.8 470.9,563.0 471.8,560.1 472.8,557.3 473.8,554.4 474.8,551.6 475.8,548.8 476.9,545.9 477.9,543.1 479.0,540.3 480.0,537.4 481.1,534.6 482.2,531.8 483.3,528.9 484.4,526.1 485.5,523.3 486.6,520.4 487.8,517.6 488.9,514.8 490.1,512.0 491.3,509.2 492.5,506.4 493.7,503.5 494.9,500.7 496.1,497.9 497.4,495.1 498.6,492.3 499.9,489.5 501.2,486.7 502.5,483.9 503.8,481.1 505.1,478.3 506.5,475.5 507.8,472.7 509.2,470.0 510.6,467.2 512.0,464.5 513.4,461.7 514.8,459.0 516.2,456.3 517.7,453.6 519.2,450.9 520.7,448.2 522.2,445.5 523.7,442.9 525.2,440.2 526.8,437.6 528.4,435.0 530.0,432.4 531.6,429.8 533.2,427.3 534.9,424.7 536.6,422.2 538.3,419.7 540.0,417.3 541.7,414.8 543.5,412.4 545.3,410.0 547.1,407.6 548.9,405.2 550.7,402.9 552.6,400.6 554.5,398.3 556.4,396.1 558.3,393.9 560.3,391.7 562.2,389.5 564.2,387.4 566.2,385.3 568.3,383.2 570.4,381.2 572.5,379.2 574.6,377.2 576.7,375.3 578.9,373.4 581.1,371.5 583.3,369.7 585.6,367.9 587.8,366.2 590.1,364.5 592.5,362.8 594.8,361.2 597.2,359.6 599.6,358.0 602.0,356.5 604.5,355.0 607.0,353.6 609.5,352.3 612.0,350.9 614.6,349.6 617.2,348.4 619.9,347.2 622.5,346.1 625.2,345.0 627.9,343.9 630.7,342.9 633.5,341.9 636.2,341.0 639.1,340.1 641.9,339.3 644.7,338.5 647.6,337.8 650.5,337.1 653.4,336.4 656.4,335.8 659.3,335.2 662.3,334.7 665.3,334.2 668.3,333.7 671.3,333.3 674.3,332.9 677.3,332.5 680.4,332.2 683.4,332.0 686.5,331.7 689.5,331.5 692.6,331.4 695.7,331.3 698.8,331.2 701.9,331.1 705.0,331.1 708.1,331.1 711.2,331.2 714.3,331.3 717.4,331.4 720.5,331.5 723.6,331.7 726.7,331.9 729.8,332.2 732.9,332.5 736.0,332.8 739.0,333.1 742.1,333.5 745.2,333.9 748.2,334.3 751.3,334.8 754.3,335.2 757.4,335.8 760.4,336.3 763.4,336.9 766.4,337.5 769.4,338.1 772.3,338.7 775.3,339.4 778.2,340.1 781.1,340.8 784.0,341.6 786.9,342.4 789.8,343.2 792.7,344.0 795.5,344.8 798.4,345.7 801.2,346.6 804.1,347.5 806.9,348.5 809.7,349.4 812.4,350.4 815.2,351.4 818.0,352.5 820.7,353.5 823.5,354.6 826.2,355.7 828.9,356.8 831.7,357.9 834.4,359.1 837.1,360.3 839.7,361.5 842.4,362.7 845.1,363.9 847.7,365.2 850.4,366.5 853.0,367.8 855.7,369.1 858.3,370.4 860.9,371.8 863.5,373.2 866.1,374.5 868.7,375.9 871.3,377.4 873.9,378.8 876.5,380.3 879.0,381.7 881.6,383.2 884.2,384.7 886.7,386.2 889.3,387.8 891.8,389.3 894.3,390.9 896.9,392.5 899.4,394.1 901.9,395.7 904.4,397.3 907.0,398.9 909.5,400.6 912.0,402.2 914.5,403.9 917.0,405.6 919.5,407.3 922.0,409.0 924.4,410.7 926.9,412.4 929.4,414.2 931.9,415.9 934.4,417.7 936.9,419.5 939.3,421.2 941.8,423.0 944.3,424.8 946.8,426.6 949.2,428.4 951.7,430.2 954.2,432.0 956.7,433.8 959.1,435.6 961.6,437.4 964.1,439.2 966.5,441.0 969.0,442.8 971.5,444.6 974.0,446.4 976.4,448.2 978.9,450.1 981.4,451.9 983.9,453.7 986.4,455.4 988.9,457.2 991.3,459.0 993.8,460.8 996.3,462.6 998.8,464.3 1001.3,466.1 1003.8,467.8 1006.3,469.6 1008.9,471.3 1011.4,473.0 1013.9,474.8 1016.4,476.5 1019.0,478.1 1021.5,479.8 1024.0,481.5 1026.6,483.1 1029.1,484.8 1031.7,486.4 1034.3,488.0 1036.8,489.6 1039.4,491.2 1042.0,492.7 1044.6,494.3 1047.2,495.8 1049.8,497.3 1052.4,498.8 1055.0,500.2 1057.6,501.7 1060.3,503.1 1062.9,504.5 1065.6,505.9 1068.2,507.2 1070.9,508.6 1073.6,509.9 1076.2,511.2 1078.9,512.4 1081.6,513.7 1084.3,514.9 1087.1,516.1 1089.8,517.3 1092.5,518.4 1095.2,519.6 1098.0,520.7 1100.7,521.7 1103.5,522.8 1106.3,523.8 1109.0,524.9 1111.8,525.8 1114.6,526.8 1117.4,527.8 1120.2,528.7 1123.0,529.6 1125.8,530.5 1128.6,531.3 1131.4,532.1 1134.2,532.9 1137.0,533.7 1139.9,534.5 1142.7,535.2 1145.6,535.9 1148.4,536.6 1151.3,537.3 1154.1,537.9 1157.0,538.5 1159.8,539.1 1162.7,539.7 1165.6,540.2 1168.5,540.8 1171.3,541.3 1174.2,541.7 1177.1,542.2 1180.0,542.6 1182.9,543.0 1185.8,543.4 1188.7,543.7 1191.6,544.0 1194.5,544.3 1197.4,544.6 1200.3,544.9 1203.3,545.1 1206.2,545.3 1209.1,545.5 1212.0,545.6 1214.9,545.8 1217.9,545.9 1220.8,546.0 1223.7,546.0 1226.7,546.0 1229.6,546.0 1232.5,546.0 1235.5,546.0 1238.4,545.9 1241.3,545.8 1244.3,545.7 1247.2,545.6 1250.2,545.4 1253.1,545.2 1256.0,545.0 1259.0,544.7 1261.9,544.4 1264.9,544.1 1267.8,543.8 1270.8,543.5 1273.7,543.1 1276.6,542.7 1279.6,542.3 1282.5,541.8 1285.5,541.3 1288.4,540.8 1291.3,540.3 1294.3,539.8 1297.2,539.2 1300.1,538.6 1303.1,537.9 1306.0,537.3 1308.9,536.6 1311.8,535.9 1314.8,535.1 1317.7,534.4 1320.6,533.6 1323.5,532.8 1326.4,531.9 1329.4,531.1 1332.3,530.2 1335.2,529.3 1338.1,528.4 1341.0,527.4 1343.9,526.4 1346.8,525.5 1349.7,524.4 1352.5,523.4 1355.4,522.4 1358.3,521.3 1361.2,520.2 1364.1,519.1 1366.9,518.0 1369.8,516.8 1372.7,515.7 1375.5,514.5 1378.4,513.3 1381.2,512.1 1384.0,510.9 1386.9,509.6 1389.7,508.4 1392.5,507.1 1395.4,505.8 1398.2,504.5 1401.0,503.2 1403.8,501.9 1406.6,500.6 1409.4,499.3 1412.2,497.9 1414.9,496.5 1417.7,495.2 1420.5,493.8 1423.2,492.4 1426.0,491.0 1428.7,489.6 1431.5,488.2 1434.2,486.8 1436.9,485.4 1439.6,483.9 1442.4,482.5 1445.1,481.1 1447.8,479.6 1450.4,478.2 1453.1,476.7 1455.8,475.3 1458.5,473.8 1461.1,472.4 1463.8,470.9 1466.4,469.4 1469.0,468.0 1471.7,466.5 1474.3,465.1 1476.9,463.6 1479.5,462.1 1482.1,460.7 1484.7,459.2 1487.2,457.7 1489.8,456.3 1492.4,454.8 1494.9,453.3 1497.5,451.8 1500.0,450.4 1502.6,448.9 1505.1,447.4 1507.6,446.0 1510.2,444.5 1512.7,443.0 1515.2,441.5 1517.7,440.1 1520.3,438.6 1522.8,437.1 1525.3,435.6 1527.8,434.1 1530.3,432.7 1532.8,431.2 1535.3,429.7 1537.8,428.2 1540.3,426.7 1542.8,425.3 1545.3,423.8 1547.8,422.3 1550.2,420.8 1552.7,419.3 1555.2,417.8 1557.7,416.4 1560.2,414.9 1562.7,413.4 1565.2,411.9 1567.7,410.4 1570.2,408.9 1572.7,407.5 1575.2,406.0 1577.7,404.5 1580.3,403.0 1582.8,401.5 1585.3,400.0 1587.8,398.5 1590.3,397.0 1592.9,395.6 1595.4,394.1 1597.9,392.6 1600.5,391.1 1603.0,389.6 1605.6,388.1 1608.2,386.6 1610.7,385.1 1613.3,383.6 1615.9,382.1 1618.5,380.7 1621.1,379.2 1623.7,377.7 1626.3,376.2 1628.9,374.7 1631.5,373.2 1634.2,371.7 1636.8,370.2 1639.5,368.7 1642.1,367.2 1644.8,365.8 1647.5,364.3 1650.2,362.8 1652.9,361.3 1655.6,359.9 1658.3,358.4 1661.0,357.0 1663.7,355.6 1666.5,354.2 1669.2,352.8 1672.0,351.4 1674.8,350.0 1677.6,348.7 1680.3,347.4 1683.1,346.1 1686.0,344.8 1688.8,343.5 1691.6,342.3 1694.5,341.1 1697.3,339.9 1700.2,338.8 1703.0,337.6 1705.9,336.6 1708.8,335.5 1711.7,334.5 1714.6,333.5 1717.6,332.5 1720.5,331.6 1723.4,330.8 1726.4,329.9 1729.4,329.1 1732.3,328.4 1735.3,327.7 1738.3,327.0 1741.3,326.4 1744.4,325.8 1747.4,325.3 1750.4,324.8 1753.4,324.4 1756.4,324.0 1759.5,323.7 1762.5,323.4 1765.5,323.2 1768.5,323.1 1771.5,323.0 1774.5,323.0 1777.5,323.0 1780.4,323.1 1783.4,323.3 1786.3,323.5 1789.2,323.8 1792.1,324.1 1795.0,324.5 1797.9,325.0 1800.7,325.6 1803.5,326.2 1806.3,326.9 1809.1,327.7 1811.8,328.6 1814.5,329.5 1817.2,330.5 1819.9,331.5 1822.5,332.6 1825.1,333.8 1827.7,335.1 1830.3,336.4 1832.8,337.7 1835.3,339.1 1837.8,340.6 1840.2,342.1 1842.7,343.7 1845.1,345.3 1847.5,346.9 1849.8,348.6 1852.2,350.4 1854.5,352.2 1856.8,354.0 1859.1,355.9 1861.3,357.8 1863.5,359.7 1865.7,361.7 1867.9,363.7 1870.1,365.8 1872.2,367.9 1874.3,370.0 1876.4,372.1 1878.5,374.2 1880.5,376.4 1882.6,378.6 1884.6,380.8 1886.6,383.1 1888.5,385.3 1890.5,387.6 1892.4,389.9 1894.3,392.2 1896.2,394.6 1898.0,396.9 1899.9,399.3 1901.7,401.7 1903.5,404.1 1905.3,406.5 1907.0,408.9 1908.8,411.4 1910.5,413.9 1912.2,416.4 1913.9,418.9 1915.6,421.4 1917.2,423.9 1918.8,426.4 1920.5,429.0 1922.0,431.6 1923.6,434.1 1925.2,436.7 1926.7,439.3 1928.2,441.9 1929.7,444.6 1931.2,447.2 1932.7,449.8 1934.1,452.5 1935.6,455.1 1937.0,457.8 1938.4,460.5 1939.8,463.2 1941.2,465.8 1942.5,468.5 1943.8,471.2 1945.2,473.9 1946.5,476.7 1947.8,479.4 1949.0,482.1 1950.3,484.8 1951.5,487.6 1952.8,490.3 1954.0,493.1 1955.2,495.8 1956.4,498.6 1957.5,501.3 1958.7,504.1 1959.8,506.9 1961.0,509.7 1962.1,512.5 1963.2,515.2 1964.3,518.0 1965.3,520.8 1966.4,523.6 1967.4,526.4 1968.5,529.3 1969.5,532.1 1970.5,534.9 1971.5,537.7 1972.5,540.6 1973.5,543.4 1974.4,546.2 1975.4,549.1 1976.3,551.9 1977.2,554.8 1978.1,557.6 1979.0,560.5 1979.9,563.3 1980.8,566.2 1981.7,569.1 1982.5,572.0 1983.4,574.8 1984.2,577.7 1985.0,580.6 1985.9,583.5 1986.7,586.4 1987.5,589.3 1988.3,592.2 1989.0,595.0 1989.8,597.9 1990.6,600.8 1991.3,603.8 1992.0,606.7 1992.8,609.6 1993.5,612.5 1994.2,615.4 1994.9,618.3 1995.6,621.2 1996.3,624.2 1997.0,627.1 1997.7,630.0 1998.3,632.9 1999.0,635.9 1999.6,638.8 2000.3,641.7 2000.9,644.6 2001.6,647.6 2002.2,650.5 2002.8,653.5 2003.4,656.4 2004.0,659.3 2004.6,662.3 2005.2,665.2 2005.8,668.2 2006.4,671.1 2006.9,674.0 2007.5,677.0 2008.1,679.9 2008.6,682.9 2009.2,685.8 2009.7,688.8 2010.3,691.7 2010.8,694.7 2011.4,697.6 2011.9,700.6 2012.4,703.5 2012.9,706.5 2013.4,709.4 2013.9,712.4 2014.4,715.3 2014.9,718.3 2015.4,721.2 2015.9,724.2 2016.4,727.1 2016.9,730.1 2017.3,733.0 2017.8,736.0 2018.3,738.9 2018.7,741.9 2019.2,744.9 2019.6,747.8 2020.1,750.8 2020.5,753.7 2020.9,756.7 2021.4,759.7 2021.8,762.6 2022.2,765.6 2022.6,768.5 2023.0,771.5 2023.4,774.5 2023.8,777.4 2024.2,780.4 2024.6,783.4 2025.0,786.3 2025.4,789.3 2025.8,792.3 2026.1,795.2 2026.5,798.2 2026.9,801.2 2027.2,804.1 2027.6,807.1 2027.9,810.1 2028.3,813.0 2028.6,816.0 2029.0,819.0 2029.3,822.0 2029.6,824.9 2030.0,827.9 2030.3,830.9 2030.6,833.8 2030.9,836.8 2031.2,839.8 2031.5,842.8 2031.8,845.7 2032.1,848.7 2032.4,851.7 2032.7,854.7 2033.0,857.6 2033.3,860.6 2033.6,863.6 2033.9,866.6 2034.1,869.6 2034.4,872.5 2034.7,875.5 2034.9,878.5 2035.2,881.5 2035.4,884.5 2035.7,887.4 2035.9,890.4 2036.2,893.4 2036.4,896.4 2036.6,899.4 2036.9,902.3 2037.1,905.3 2037.3,908.3 2037.6,911.3 2037.8,914.3 2038.0,917.3 2038.2,920.3 2038.4,923.2 2038.6,926.2 2038.8,929.2 2039.0,932.2 2039.2,935.2 2039.4,938.2 2039.6,941.2 2039.8,944.2 2040.0,947.1 2040.1,950.1 2040.3,953.1 2040.5,956.1 2040.7,959.1 2040.8,962.1 2041.0,965.1 2041.1,968.1 2041.3,971.1 2041.5,974.1 2041.6,977.0 2041.8,980.0 2041.9,983.0 2042.1,986.0 2042.2,989.0 2042.3,992.0 2042.5,995.0 2042.6,998.0 2042.7,1001.0 2042.9,1004.0 2043.0,1007.0 2043.1,1010.0 2043.2,1013.0 2043.4,1016.0 2043.5,1019.0 2043.6,1022.0 2043.7,1025.0 2043.8,1028.0 2043.9,1031.0 2044.0,1033.9 2044.1,1036.9 2044.2,1039.9 2044.3,1042.9 2044.4,1045.9 2044.5,1048.9 2044.6,1051.9 2044.7,1054.9 2044.8,1057.9 2044.8,1060.9 2044.9,1063.9 2045.0,1066.9 2045.1,1069.9 2045.2,1072.9 2045.2,1075.9 2045.3,1078.9 2045.4,1081.9 2045.4,1084.9 2045.5,1087.9 2045.6,1090.9 2045.6,1093.9 2045.7,1096.9 2045.7,1100.0 2045.8,1103.0 2045.9,1106.0 2045.9,1109.0 2046.0,1112.0 2046.0,1115.0 2046.1,1118.0 2046.1,1121.0 2046.1,1124.0 2046.2,1127.0 2046.2,1130.0 2046.3,1133.0 2046.3,1136.0 2046.3,1139.0 2046.4,1142.0 2046.4,1145.0 2046.4,1148.0 2046.5,1151.0 2046.5,1154.0 2046.5,1157.0 2046.6,1160.0 2046.6,1163.0 2046.6,1166.0 2046.6,1169.0 2046.6,1172.1 2046.7,1175.1 2046.7,1178.1 2046.7,1181.1 2046.7,1184.1 2046.7,1187.1 2046.8,1190.1 2046.8,1193.1 2046.8,1196.1 2046.8,1199.1 2046.8,1202.1 2046.8,1205.1 2046.8,1208.1 2046.8,1211.1 2046.8,1214.1 2046.8,1217.2 2046.9,1220.2 2046.9,1223.2 2046.9,1226.2 2046.9,1229.2 2046.9,1232.2 2046.9,1235.2 2046.9,1238.2 2046.9,1241.2 2046.9,1244.2 2046.9,1247.2 2046.9,1250.2 2046.9,1253.2 2046.9,1256.3 2046.9,1259.3 2046.9,1262.3 2046.9,1265.3 2046.9,1268.3 2046.9,1271.3 2046.9,1274.3 2046.9,1277.3 2046.8,1280.3 2046.8,1283.3 2046.8,1286.3 2046.8,1289.3 2046.8,1292.3 2046.8,1295.4 2046.8,1298.4 2046.8,1301.4 2046.8,1304.4 2046.8,1307.4 2046.8,1310.4 2046.8,1313.4 2046.8,1316.4 2046.8,1319.4 2046.8,1322.4 2046.8,1325.4 2046.8,1328.4 2046.7,1331.4 2046.7,1334.5 2046.7,1337.5 2046.7,1340.5 2046.7,1343.5 2046.7,1346.5 2046.7,1349.5 2046.7,1352.5 2046.7,1355.5 2046.7,1358.5 2046.7,1361.5 2046.7,1364.5 2046.7,1367.5 2046.7,1370.5 2046.7,1373.5 2046.7,1376.5 2046.7,1379.6 2046.7,1382.6 2046.7,1385.6 2046.7,1388.6 2046.7,1391.6 2046.7,1394.6 2046.7,1397.6 2046.7,1400.6 2046.7,1403.6 2046.7,1406.6 2046.7,1409.6 2046.7,1412.6 2046.8,1415.6 2046.8,1418.6 2046.8,1421.6 2046.8,1424.6 2046.8,1427.6 2046.8,1430.6 2046.8,1433.6 2046.8,1436.6 2046.9,1439.7 2046.9,1442.7 2046.9,1445.7 2046.9,1448.7 2046.9,1451.7 2047.0,1454.7 2047.0,1457.7 2047.0,1460.7 2047.0,1463.7 2047.1,1466.7 2047.1,1469.7 2047.1,1472.7 2047.1,1475.7 2047.2,1478.7 2047.2,1481.7 2047.2,1484.7 2047.3,1487.7 2047.3,1490.7 2047.4,1493.7 2047.4,1496.7 2047.4,1499.7 2047.5,1502.7 2047.5,1505.7 2047.6,1508.7 2047.6,1511.7 2047.7,1514.7 2047.7,1517.7 2047.8,1520.7 2047.8,1523.7 2047.9,1526.7 2048.0,1529.7 2048.0,1532.7 2048.1,1535.7 2048.2,1538.7 2048.2,1541.6 2048.3,1544.6 2048.4,1547.6 2048.4,1550.6 2048.5,1553.6 2048.6,1556.6 2048.7,1559.6 2048.8,1562.6 2048.8,1565.6 2048.9,1568.6 2049.0,1571.6 2049.1,1574.6 2049.2,1577.6 2049.3,1580.6 2049.4,1583.6 2049.5,1586.5 2049.6,1589.5 2049.7,1592.5 2049.8,1595.5 2049.9,1598.5 2050.0,1601.5 2050.1,1604.5 2050.2,1607.5 2050.4,1610.5 2050.5,1613.5 2050.6,1616.4 2050.7,1619.4 2050.9,1622.4 2051.0,1625.4 2051.1,1628.4 2051.3,1631.4 2051.4,1634.4 2051.5,1637.4 2051.7,1640.3 2051.8,1643.3 2052.0,1646.3 2052.1,1649.3 2052.3,1652.3 2052.5,1655.3 2052.6,1658.2 2052.8,1661.2 2053.0,1664.2 2053.1,1667.2 2053.3,1670.2 2053.5,1673.1 2053.7,1676.1 2053.8,1679.1 2054.0,1682.1 2054.2,1685.1 2054.4,1688.0 2054.6,1691.0 2054.8,1694.0 2055.0,1697.0" fill="none" stroke="#00864e" stroke-width="10.5" stroke-linejoin="round"/>
<path d="M383.6,1704.4 383.6,1701.4 383.7,1698.4 383.7,1695.4 383.8,1692.4 383.8,1689.4 383.8,1686.5 383.9,1683.5 383.9,1680.5 384.0,1677.5 384.0,1674.5 384.1,1671.5 384.1,1668.5 384.1,1665.5 384.2,1662.5 384.2,1659.6 384.3,1656.6 384.3,1653.6 384.3,1650.6 384.4,1647.6 384.4,1644.6 384.5,1641.6 384.5,1638.6 384.6,1635.6 384.6,1632.6 384.6,1629.7 384.7,1626.7 384.7,1623.7 384.8,1620.7 384.8,1617.7 384.8,1614.7 384.9,1611.7 384.9,1608.7 385.0,1605.7 385.0,1602.7 385.1,1599.7 385.1,1596.7 385.2,1593.7 385.2,1590.7 385.2,1587.7 385.3,1584.8 385.3,1581.8 385.4,1578.8 385.4,1575.8 385.5,1572.8 385.5,1569.8 385.6,1566.8 385.6,1563.8 385.6,1560.8 385.7,1557.8 385.7,1554.8 385.8,1551.8 385.8,1548.8 385.9,1545.8 385.9,1542.8 386.0,1539.8 386.0,1536.8 386.1,1533.8 386.1,1530.8 386.2,1527.8 386.2,1524.8 386.2,1521.8 386.3,1518.8 386.3,1515.8 386.4,1512.8 386.4,1509.8 386.5,1506.8 386.5,1503.8 386.6,1500.8 386.6,1497.8 386.7,1494.8 386.7,1491.8 386.8,1488.8 386.8,1485.8 386.9,1482.8 386.9,1479.8 387.0,1476.8 387.1,1473.8 387.1,1470.8 387.2,1467.8 387.2,1464.8 387.3,1461.8 387.3,1458.8 387.4,1455.8 387.4,1452.8 387.5,1449.8 387.5,1446.8 387.6,1443.8 387.6,1440.8 387.7,1437.8 387.8,1434.8 387.8,1431.8 387.9,1428.8 387.9,1425.8 388.0,1422.8 388.0,1419.8 388.1,1416.8 388.2,1413.8 388.2,1410.8 388.3,1407.8 388.3,1404.8 388.4,1401.8 388.5,1398.8 388.5,1395.8 388.6,1392.8 388.6,1389.8 388.7,1386.8 388.8,1383.8 388.8,1380.8 388.9,1377.8 389.0,1374.8 389.0,1371.8 389.1,1368.8 389.2,1365.8 389.2,1362.8 389.3,1359.8 389.4,1356.8 389.4,1353.8 389.5,1350.8 389.6,1347.8 389.6,1344.7 389.7,1341.7 389.8,1338.7 389.8,1335.7 389.9,1332.7 390.0,1329.7 390.0,1326.7 390.1,1323.7 390.2,1320.7 390.3,1317.7 390.3,1314.7 390.4,1311.7 390.5,1308.7 390.6,1305.7 390.6,1302.7 390.7,1299.7 390.8,1296.7 390.9,1293.7 390.9,1290.7 391.0,1287.7 391.1,1284.7 391.2,1281.7 391.2,1278.7 391.3,1275.7 391.4,1272.7 391.5,1269.7 391.6,1266.7 391.7,1263.7 391.7,1260.7 391.8,1257.6 391.9,1254.6 392.0,1251.6 392.1,1248.6 392.2,1245.6 392.2,1242.6 392.3,1239.6 392.4,1236.6 392.5,1233.6 392.6,1230.6 392.7,1227.6 392.8,1224.6 392.9,1221.6 392.9,1218.6 393.0,1215.6 393.1,1212.6 393.2,1209.6 393.3,1206.6 393.4,1203.6 393.5,1200.6 393.6,1197.6 393.7,1194.6 393.8,1191.6 393.9,1188.6 394.0,1185.6 394.1,1182.6 394.2,1179.6 394.3,1176.6 394.4,1173.6 394.5,1170.6 394.6,1167.6 394.7,1164.6 394.8,1161.6 394.9,1158.6 395.0,1155.6 395.1,1152.6 395.2,1149.6 395.3,1146.6 395.4,1143.6 395.5,1140.6 395.6,1137.6 395.8,1134.6 395.9,1131.6 396.0,1128.6 396.1,1125.6 396.2,1122.6 396.3,1119.6 396.4,1116.6 396.5,1113.6 396.7,1110.6 396.8,1107.6 396.9,1104.6 397.0,1101.6 397.1,1098.6 397.2,1095.6 397.4,1092.6 397.5,1089.6 397.6,1086.6 397.7,1083.6 397.9,1080.6 398.0,1077.6 398.1,1074.6 398.2,1071.6 398.4,1068.6 398.5,1065.6 398.6,1062.6 398.7,1059.6 398.9,1056.6 399.0,1053.6 399.1,1050.6 399.3,1047.6 399.4,1044.6 399.5,1041.6 399.7,1038.6 399.8,1035.6 399.9,1032.6 400.1,1029.6 400.2,1026.6 400.3,1023.6 400.5,1020.6 400.6,1017.6 400.8,1014.6 400.9,1011.6 401.1,1008.7 401.2,1005.7 401.3,1002.7 401.5,999.7 401.6,996.7 401.8,993.7 401.9,990.7 402.1,987.7 402.2,984.7 402.4,981.7 402.5,978.7 402.7,975.7 402.8,972.7 403.0,969.7 403.1,966.8 403.3,963.8 403.5,960.8 403.6,957.8 403.8,954.8 403.9,951.8 404.1,948.8 404.3,945.8 404.4,942.8 404.6,939.8 404.8,936.8 404.9,933.9 405.1,930.9 405.3,927.9 405.4,924.9 405.6,921.9 405.8,918.9 405.9,915.9 406.1,912.9 406.3,910.0 406.5,907.0 406.6,904.0 406.8,901.0 407.0,898.0 407.2,895.0 407.4,892.0 407.5,889.1 407.7,886.1 407.9,883.1 408.1,880.1 408.3,877.1 408.5,874.1 408.7,871.1 408.8,868.2 409.0,865.2 409.2,862.2 409.4,859.2 409.6,856.2 409.8,853.2 410.0,850.3 410.2,847.3 410.4,844.3 410.6,841.3 410.8,838.3 411.0,835.4 411.2,832.4 411.5,829.4 411.7,826.4 411.9,823.4 412.1,820.5 412.3,817.5 412.5,814.5 412.8,811.5 413.0,808.6 413.2,805.6 413.5,802.6 413.7,799.6 413.9,796.7 414.2,793.7 414.4,790.7 414.7,787.7 414.9,784.8 415.2,781.8 415.5,778.8 415.7,775.8 416.0,772.9 416.3,769.9 416.5,766.9 416.8,763.9 417.1,761.0 417.4,758.0 417.7,755.0 418.0,752.1 418.2,749.1 418.5,746.1 418.9,743.2 419.2,740.2 419.5,737.2 419.8,734.3 420.1,731.3 420.4,728.3 420.8,725.4 421.1,722.4 421.4,719.4 421.8,716.5 422.1,713.5 422.5,710.5 422.9,707.6 423.2,704.6 423.6,701.7 424.0,698.7 424.3,695.7 424.7,692.8 425.1,689.8 425.5,686.9 425.9,683.9 426.3,680.9 426.7,678.0 427.2,675.0 427.6,672.1 428.0,669.1 428.5,666.2 428.9,663.2 429.3,660.3 429.8,657.3 430.3,654.4 430.7,651.4 431.2,648.4 431.7,645.5 432.2,642.5 432.7,639.6 433.2,636.6 433.7,633.7 434.2,630.7 434.7,627.8 435.2,624.9 435.7,621.9 436.3,619.0 436.8,616.0 437.4,613.1 438.0,610.1 438.5,607.2 439.1,604.2 439.7,601.3 440.3,598.4 440.9,595.4 441.5,592.5 442.1,589.5 442.7,586.6 443.3,583.7 444.0,580.7 444.6,577.8 445.3,574.9 445.9,571.9 446.6,569.0 447.3,566.0 448.0,563.1 448.7,560.2 449.4,557.2 450.1,554.3 450.8,551.4 451.5,548.5 452.3,545.5 453.0,542.6 453.8,539.7 454.5,536.7 455.3,533.8 456.1,530.9 456.9,528.0 457.7,525.0 458.5,522.1 459.3,519.2 460.1,516.3 461.0,513.4 461.8,510.4 462.7,507.5 463.5,504.6 464.4,501.7 465.3,498.8 466.2,495.8 467.1,492.9 468.0,490.0 468.9,487.1 469.9,484.2 470.8,481.3 471.8,478.4 472.7,475.4 473.7,472.5 474.7,469.6 475.7,466.7 476.7,463.8 477.7,460.9 478.8,458.0 479.8,455.1 480.9,452.2 481.9,449.3 483.0,446.4 484.1,443.5 485.2,440.6 486.3,437.8 487.5,434.9 488.6,432.1 489.8,429.2 491.0,426.4 492.2,423.6 493.4,420.7 494.6,417.9 495.9,415.2 497.2,412.4 498.5,409.6 499.8,406.9 501.1,404.2 502.4,401.5 503.8,398.8 505.2,396.1 506.6,393.5 508.1,390.8 509.5,388.2 511.0,385.6 512.5,383.1 514.1,380.5 515.6,378.0 517.2,375.5 518.8,373.1 520.5,370.7 522.1,368.2 523.8,365.9 525.5,363.5 527.3,361.2 529.1,358.9 530.9,356.7 532.7,354.4 534.6,352.2 536.5,350.1 538.4,348.0 540.4,345.9 542.3,343.8 544.4,341.8 546.4,339.9 548.5,338.0 550.6,336.2 552.8,334.5 555.0,332.9 557.2,331.3 559.5,329.9 561.8,328.5 564.1,327.3 566.5,326.2 568.9,325.2 571.3,324.3 573.8,323.6 576.3,323.0 578.9,322.5 581.5,322.2 584.1,322.1 586.8,322.1 589.5,322.2 592.3,322.5 595.0,322.9 597.8,323.4 600.6,324.0 603.4,324.8 606.3,325.6 609.1,326.6 612.0,327.6 614.9,328.7 617.8,329.9 620.7,331.1 623.6,332.4 626.5,333.8 629.4,335.3 632.2,336.7 635.1,338.3 638.0,339.8 640.8,341.4 643.7,343.1 646.5,344.7 649.3,346.4 652.1,348.0 654.8,349.7 657.6,351.4 660.3,353.0 662.9,354.7 665.6,356.4 668.2,358.0 670.8,359.7 673.4,361.4 676.0,363.0 678.5,364.7 681.1,366.3 683.6,368.0 686.1,369.6 688.6,371.3 691.1,373.0 693.6,374.6 696.0,376.3 698.5,377.9 700.9,379.6 703.4,381.2 705.8,382.9 708.2,384.6 710.7,386.2 713.1,387.9 715.5,389.6 717.9,391.2 720.4,392.9 722.8,394.6 725.3,396.2 727.7,397.9 730.2,399.6 732.6,401.3 735.1,402.9 737.6,404.6 740.0,406.3 742.5,408.0 745.0,409.7 747.5,411.3 750.0,413.0 752.5,414.7 755.1,416.4 757.6,418.0 760.1,419.7 762.6,421.4 765.2,423.0 767.7,424.7 770.3,426.3 772.9,428.0 775.4,429.6 778.0,431.2 780.6,432.9 783.2,434.5 785.8,436.1 788.4,437.7 791.0,439.3 793.6,440.9 796.2,442.4 798.8,444.0 801.5,445.6 804.1,447.1 806.7,448.6 809.4,450.2 812.0,451.7 814.7,453.2 817.3,454.7 820.0,456.1 822.7,457.6 825.4,459.1 828.0,460.5 830.7,461.9 833.4,463.3 836.1,464.7 838.8,466.1 841.5,467.4 844.3,468.8 847.0,470.1 849.7,471.4 852.4,472.7 855.2,473.9 857.9,475.2 860.6,476.4 863.4,477.6 866.1,478.8 868.9,480.0 871.7,481.1 874.4,482.2 877.2,483.3 880.0,484.4 882.8,485.5 885.5,486.5 888.3,487.5 891.1,488.5 893.9,489.5 896.7,490.4 899.5,491.3 902.3,492.2 905.2,493.1 908.0,494.0 910.8,494.8 913.6,495.7 916.5,496.5 919.3,497.3 922.1,498.0 925.0,498.8 927.8,499.5 930.7,500.3 933.5,501.0 936.4,501.7 939.3,502.3 942.1,503.0 945.0,503.6 947.9,504.3 950.7,504.9 953.6,505.5 956.5,506.1 959.4,506.6 962.3,507.2 965.2,507.7 968.1,508.3 971.0,508.8 973.9,509.3 976.8,509.8 979.7,510.3 982.6,510.8 985.5,511.2 988.4,511.7 991.4,512.1 994.3,512.5 997.2,513.0 1000.2,513.4 1003.1,513.8 1006.0,514.2 1009.0,514.6 1011.9,515.0 1014.8,515.3 1017.8,515.7 1020.7,516.1 1023.7,516.4 1026.6,516.8 1029.6,517.1 1032.6,517.5 1035.5,517.8 1038.5,518.1 1041.5,518.5 1044.4,518.8 1047.4,519.1 1050.4,519.4 1053.3,519.7 1056.3,520.0 1059.3,520.3 1062.3,520.5 1065.3,520.8 1068.3,521.1 1071.2,521.3 1074.2,521.6 1077.2,521.9 1080.2,522.1 1083.2,522.3 1086.2,522.6 1089.2,522.8 1092.2,523.0 1095.2,523.2 1098.2,523.5 1101.2,523.7 1104.2,523.9 1107.2,524.1 1110.2,524.2 1113.2,524.4 1116.3,524.6 1119.3,524.8 1122.3,524.9 1125.3,525.1 1128.3,525.3 1131.3,525.4 1134.4,525.6 1137.4,525.7 1140.4,525.8 1143.4,526.0 1146.4,526.1 1149.5,526.2 1152.5,526.3 1155.5,526.4 1158.6,526.5 1161.6,526.6 1164.6,526.7 1167.6,526.8 1170.7,526.8 1173.7,526.9 1176.7,527.0 1179.8,527.0 1182.8,527.1 1185.8,527.1 1188.9,527.2 1191.9,527.2 1194.9,527.3 1198.0,527.3 1201.0,527.3 1204.0,527.3 1207.1,527.3 1210.1,527.3 1213.2,527.3 1216.2,527.3 1219.2,527.3 1222.3,527.3 1225.3,527.3 1228.3,527.2 1231.4,527.2 1234.4,527.2 1237.5,527.1 1240.5,527.1 1243.5,527.0 1246.6,527.0 1249.6,526.9 1252.6,526.8 1255.7,526.8 1258.7,526.7 1261.8,526.6 1264.8,526.5 1267.8,526.4 1270.9,526.3 1273.9,526.2 1276.9,526.1 1280.0,525.9 1283.0,525.8 1286.0,525.7 1289.1,525.6 1292.1,525.4 1295.1,525.3 1298.1,525.1 1301.2,525.0 1304.2,524.8 1307.2,524.6 1310.3,524.4 1313.3,524.3 1316.3,524.1 1319.3,523.9 1322.3,523.7 1325.4,523.5 1328.4,523.3 1331.4,523.1 1334.4,522.9 1337.4,522.7 1340.4,522.4 1343.5,522.2 1346.5,522.0 1349.5,521.7 1352.5,521.5 1355.5,521.2 1358.5,521.0 1361.5,520.7 1364.5,520.4 1367.5,520.2 1370.5,519.9 1373.5,519.6 1376.5,519.3 1379.5,519.0 1382.5,518.7 1385.5,518.4 1388.5,518.1 1391.5,517.8 1394.4,517.4 1397.4,517.1 1400.4,516.8 1403.4,516.4 1406.4,516.1 1409.3,515.7 1412.3,515.4 1415.3,515.0 1418.2,514.6 1421.2,514.3 1424.2,513.9 1427.1,513.5 1430.1,513.1 1433.0,512.7 1436.0,512.3 1438.9,511.9 1441.9,511.4 1444.8,511.0 1447.8,510.6 1450.7,510.1 1453.7,509.7 1456.6,509.2 1459.5,508.8 1462.5,508.3 1465.4,507.8 1468.3,507.4 1471.2,506.9 1474.1,506.4 1477.1,505.9 1480.0,505.4 1482.9,504.8 1485.8,504.3 1488.7,503.8 1491.6,503.3 1494.5,502.7 1497.4,502.2 1500.3,501.6 1503.1,501.0 1506.0,500.5 1508.9,499.9 1511.8,499.3 1514.7,498.7 1517.5,498.1 1520.4,497.5 1523.3,496.9 1526.1,496.2 1529.0,495.6 1531.8,495.0 1534.7,494.3 1537.5,493.7 1540.4,493.0 1543.2,492.3 1546.0,491.6 1548.9,490.9 1551.7,490.3 1554.5,489.5 1557.3,488.8 1560.1,488.1 1562.9,487.4 1565.7,486.6 1568.6,485.9 1571.4,485.1 1574.1,484.3 1576.9,483.6 1579.7,482.8 1582.5,481.9 1585.3,481.1 1588.1,480.3 1590.8,479.5 1593.6,478.6 1596.4,477.7 1599.1,476.8 1601.9,475.9 1604.7,475.0 1607.4,474.1 1610.2,473.2 1612.9,472.2 1615.7,471.3 1618.4,470.3 1621.1,469.3 1623.9,468.3 1626.6,467.2 1629.3,466.2 1632.1,465.1 1634.8,464.1 1637.5,463.0 1640.2,461.8 1642.9,460.7 1645.6,459.6 1648.4,458.4 1651.1,457.2 1653.8,456.0 1656.5,454.8 1659.2,453.6 1661.9,452.3 1664.5,451.0 1667.2,449.7 1669.9,448.4 1672.6,447.1 1675.3,445.7 1678.0,444.3 1680.6,442.9 1683.3,441.5 1686.0,440.1 1688.6,438.6 1691.3,437.1 1694.0,435.6 1696.6,434.0 1699.3,432.5 1701.9,430.9 1704.6,429.3 1707.2,427.7 1709.9,426.0 1712.5,424.3 1715.2,422.6 1717.8,420.9 1720.4,419.2 1723.1,417.4 1725.7,415.6 1728.3,413.7 1731.0,411.9 1733.6,410.0 1736.2,408.1 1738.8,406.2 1741.5,404.2 1744.1,402.2 1746.7,400.2 1749.3,398.2 1751.9,396.2 1754.5,394.2 1757.1,392.2 1759.7,390.2 1762.3,388.2 1764.9,386.1 1767.5,384.1 1770.1,382.1 1772.7,380.1 1775.3,378.1 1777.9,376.2 1780.5,374.2 1783.1,372.3 1785.7,370.4 1788.3,368.5 1790.9,366.6 1793.5,364.8 1796.0,363.0 1798.6,361.3 1801.2,359.6 1803.8,357.9 1806.4,356.2 1808.9,354.7 1811.5,353.1 1814.1,351.6 1816.6,350.2 1819.2,348.8 1821.8,347.5 1824.3,346.3 1826.9,345.1 1829.5,344.0 1832.0,342.9 1834.6,341.9 1837.2,341.0 1839.7,340.2 1842.3,339.4 1844.8,338.8 1847.4,338.2 1849.9,337.7 1852.5,337.3 1855.0,337.0 1857.6,336.7 1860.1,336.6 1862.7,336.6 1865.2,336.7 1867.8,336.9 1870.3,337.2 1872.9,337.6 1875.4,338.1 1878.0,338.7 1880.5,339.4 1883.0,340.2 1885.5,341.1 1888.0,342.1 1890.4,343.2 1892.9,344.4 1895.3,345.6 1897.7,347.0 1900.1,348.4 1902.4,349.9 1904.7,351.5 1907.0,353.2 1909.3,355.0 1911.5,356.8 1913.6,358.7 1915.7,360.6 1917.8,362.6 1919.9,364.7 1921.8,366.9 1923.8,369.1 1925.7,371.4 1927.5,373.7 1929.3,376.0 1931.1,378.5 1932.8,380.9 1934.5,383.4 1936.1,386.0 1937.7,388.6 1939.3,391.2 1940.8,393.9 1942.3,396.6 1943.8,399.3 1945.2,402.1 1946.7,404.9 1948.0,407.7 1949.4,410.5 1950.7,413.4 1952.0,416.2 1953.3,419.1 1954.5,422.0 1955.8,424.9 1957.0,427.8 1958.2,430.7 1959.4,433.6 1960.5,436.5 1961.7,439.5 1962.8,442.4 1963.9,445.3 1965.0,448.2 1966.1,451.1 1967.1,454.0 1968.2,457.0 1969.2,459.9 1970.2,462.8 1971.2,465.7 1972.2,468.6 1973.2,471.6 1974.1,474.5 1975.1,477.4 1976.0,480.3 1976.9,483.2 1977.8,486.2 1978.7,489.1 1979.6,492.0 1980.4,494.9 1981.3,497.9 1982.1,500.8 1982.9,503.7 1983.7,506.6 1984.5,509.6 1985.3,512.5 1986.0,515.4 1986.8,518.4 1987.5,521.3 1988.3,524.2 1989.0,527.1 1989.7,530.1 1990.4,533.0 1991.1,535.9 1991.8,538.9 1992.4,541.8 1993.1,544.7 1993.7,547.7 1994.4,550.6 1995.0,553.5 1995.6,556.5 1996.2,559.4 1996.8,562.3 1997.4,565.3 1998.0,568.2 1998.5,571.2 1999.1,574.1 1999.6,577.0 2000.2,580.0 2000.7,582.9 2001.2,585.8 2001.8,588.8 2002.3,591.7 2002.8,594.7 2003.3,597.6 2003.7,600.6 2004.2,603.5 2004.7,606.4 2005.2,609.4 2005.6,612.3 2006.1,615.3 2006.5,618.2 2007.0,621.2 2007.4,624.1 2007.8,627.1 2008.3,630.0 2008.7,633.0 2009.1,635.9 2009.5,638.9 2009.9,641.8 2010.3,644.8 2010.7,647.7 2011.1,650.7 2011.5,653.6 2011.8,656.6 2012.2,659.5 2012.6,662.5 2013.0,665.4 2013.3,668.4 2013.7,671.3 2014.1,674.3 2014.4,677.3 2014.8,680.2 2015.1,683.2 2015.5,686.1 2015.8,689.1 2016.2,692.0 2016.5,695.0 2016.9,698.0 2017.2,700.9 2017.5,703.9 2017.9,706.8 2018.2,709.8 2018.5,712.8 2018.9,715.7 2019.2,718.7 2019.5,721.7 2019.8,724.6 2020.1,727.6 2020.4,730.6 2020.8,733.5 2021.1,736.5 2021.4,739.5 2021.7,742.4 2022.0,745.4 2022.3,748.4 2022.6,751.3 2022.8,754.3 2023.1,757.3 2023.4,760.2 2023.7,763.2 2024.0,766.2 2024.3,769.1 2024.6,772.1 2024.8,775.1 2025.1,778.1 2025.4,781.0 2025.6,784.0 2025.9,787.0 2026.2,790.0 2026.4,792.9 2026.7,795.9 2026.9,798.9 2027.2,801.9 2027.5,804.8 2027.7,807.8 2028.0,810.8 2028.2,813.8 2028.4,816.8 2028.7,819.7 2028.9,822.7 2029.2,825.7 2029.4,828.7 2029.6,831.7 2029.9,834.6 2030.1,837.6 2030.3,840.6 2030.5,843.6 2030.8,846.6 2031.0,849.5 2031.2,852.5 2031.4,855.5 2031.6,858.5 2031.8,861.5 2032.1,864.5 2032.3,867.4 2032.5,870.4 2032.7,873.4 2032.9,876.4 2033.1,879.4 2033.3,882.4 2033.5,885.4 2033.7,888.3 2033.9,891.3 2034.0,894.3 2034.2,897.3 2034.4,900.3 2034.6,903.3 2034.8,906.3 2035.0,909.3 2035.2,912.3 2035.3,915.2 2035.5,918.2 2035.7,921.2 2035.9,924.2 2036.0,927.2 2036.2,930.2 2036.4,933.2 2036.5,936.2 2036.7,939.2 2036.9,942.2 2037.0,945.2 2037.2,948.2 2037.3,951.2 2037.5,954.1 2037.6,957.1 2037.8,960.1 2037.9,963.1 2038.1,966.1 2038.2,969.1 2038.4,972.1 2038.5,975.1 2038.7,978.1 2038.8,981.1 2039.0,984.1 2039.1,987.1 2039.2,990.1 2039.4,993.1 2039.5,996.1 2039.6,999.1 2039.8,1002.1 2039.9,1005.1 2040.0,1008.1 2040.1,1011.1 2040.3,1014.1 2040.4,1017.1 2040.5,1020.1 2040.6,1023.1 2040.8,1026.1 2040.9,1029.1 2041.0,1032.1 2041.1,1035.1 2041.2,1038.1 2041.3,1041.1 2041.4,1044.1 2041.6,1047.1 2041.7,1050.1 2041.8,1053.1 2041.9,1056.1 2042.0,1059.1 2042.1,1062.1 2042.2,1065.1 2042.3,1068.1 2042.4,1071.1 2042.5,1074.1 2042.6,1077.1 2042.7,1080.1 2042.8,1083.1 2042.9,1086.1 2043.0,1089.1 2043.1,1092.1 2043.2,1095.1 2043.2,1098.1 2043.3,1101.1 2043.4,1104.1 2043.5,1107.1 2043.6,1110.1 2043.7,1113.1 2043.8,1116.1 2043.8,1119.2 2043.9,1122.2 2044.0,1125.2 2044.1,1128.2 2044.2,1131.2 2044.2,1134.2 2044.3,1137.2 2044.4,1140.2 2044.5,1143.2 2044.5,1146.2 2044.6,1149.2 2044.7,1152.2 2044.8,1155.2 2044.8,1158.2 2044.9,1161.2 2045.0,1164.2 2045.0,1167.2 2045.1,1170.2 2045.2,1173.3 2045.2,1176.3 2045.3,1179.3 2045.4,1182.3 2045.4,1185.3 2045.5,1188.3 2045.6,1191.3 2045.6,1194.3 2045.7,1197.3 2045.7,1200.3 2045.8,1203.3 2045.9,1206.3 2045.9,1209.3 2046.0,1212.3 2046.0,1215.3 2046.1,1218.4 2046.1,1221.4 2046.2,1224.4 2046.2,1227.4 2046.3,1230.4 2046.3,1233.4 2046.4,1236.4 2046.5,1239.4 2046.5,1242.4 2046.6,1245.4 2046.6,1248.4 2046.7,1251.4 2046.7,1254.4 2046.8,1257.4 2046.8,1260.5 2046.9,1263.5 2046.9,1266.5 2046.9,1269.5 2047.0,1272.5 2047.0,1275.5 2047.1,1278.5 2047.1,1281.5 2047.2,1284.5 2047.2,1287.5 2047.3,1290.5 2047.3,1293.5 2047.4,1296.5 2047.4,1299.5 2047.4,1302.6 2047.5,1305.6 2047.5,1308.6 2047.6,1311.6 2047.6,1314.6 2047.6,1317.6 2047.7,1320.6 2047.7,1323.6 2047.8,1326.6 2047.8,1329.6 2047.9,1332.6 2047.9,1335.6 2047.9,1338.6 2048.0,1341.6 2048.0,1344.6 2048.1,1347.6 2048.1,1350.6 2048.1,1353.7 2048.2,1356.7 2048.2,1359.7 2048.3,1362.7 2048.3,1365.7 2048.3,1368.7 2048.4,1371.7 2048.4,1374.7 2048.5,1377.7 2048.5,1380.7 2048.5,1383.7 2048.6,1386.7 2048.6,1389.7 2048.7,1392.7 2048.7,1395.7 2048.7,1398.7 2048.8,1401.7 2048.8,1404.7 2048.9,1407.7 2048.9,1410.7 2048.9,1413.7 2049.0,1416.7 2049.0,1419.7 2049.1,1422.7 2049.1,1425.7 2049.1,1428.7 2049.2,1431.7 2049.2,1434.7 2049.3,1437.7 2049.3,1440.7 2049.3,1443.8 2049.4,1446.8 2049.4,1449.8 2049.5,1452.8 2049.5,1455.8 2049.6,1458.8 2049.6,1461.8 2049.6,1464.8 2049.7,1467.8 2049.7,1470.8 2049.8,1473.7 2049.8,1476.7 2049.9,1479.7 2049.9,1482.7 2050.0,1485.7 2050.0,1488.7 2050.1,1491.7 2050.1,1494.7 2050.2,1497.7 2050.2,1500.7 2050.3,1503.7 2050.3,1506.7 2050.4,1509.7 2050.4,1512.7 2050.5,1515.7 2050.5,1518.7 2050.6,1521.7 2050.6,1524.7 2050.7,1527.7 2050.7,1530.7 2050.8,1533.7 2050.8,1536.7 2050.9,1539.7 2051.0,1542.7 2051.0,1545.7 2051.1,1548.6 2051.1,1551.6 2051.2,1554.6 2051.3,1557.6 2051.3,1560.6 2051.4,1563.6 2051.4,1566.6 2051.5,1569.6 2051.6,1572.6 2051.6,1575.6 2051.7,1578.6 2051.8,1581.5 2051.8,1584.5 2051.9,1587.5 2052.0,1590.5 2052.0,1593.5 2052.1,1596.5 2052.2,1599.5 2052.3,1602.5 2052.3,1605.4 2052.4,1608.4 2052.5,1611.4 2052.6,1614.4 2052.6,1617.4 2052.7,1620.4 2052.8,1623.4 2052.9,1626.3 2053.0,1629.3 2053.0,1632.3 2053.1,1635.3 2053.2,1638.3 2053.3,1641.3 2053.4,1644.2 2053.5,1647.2 2053.5,1650.2 2053.6,1653.2 2053.7,1656.2 2053.8,1659.2 2053.9,1662.1 2054.0,1665.1 2054.1,1668.1 2054.2,1671.1 2054.3,1674.0 2054.4,1677.0 2054.5,1680.0 2054.6,1683.0 2054.7,1686.0 2054.8,1688.9 2054.9,1691.9 2055.0,1694.9" fill="none" stroke="#da1a4a" stroke-width="10.5" stroke-linejoin="round"/>
<path d="M384.0,1685.7 384.0,1682.7 384.0,1679.7 384.0,1676.6 384.0,1673.6 384.0,1670.6 383.9,1667.6 383.9,1664.6 383.9,1661.6 383.9,1658.6 383.9,1655.6 383.9,1652.6 383.9,1649.5 383.9,1646.5 383.9,1643.5 383.9,1640.5 384.0,1637.5 384.0,1634.5 384.0,1631.5 384.0,1628.5 384.0,1625.5 384.0,1622.5 384.0,1619.5 384.1,1616.5 384.1,1613.5 384.1,1610.5 384.1,1607.5 384.1,1604.5 384.2,1601.5 384.2,1598.4 384.2,1595.4 384.3,1592.4 384.3,1589.4 384.3,1586.4 384.3,1583.4 384.4,1580.4 384.4,1577.4 384.5,1574.4 384.5,1571.4 384.5,1568.4 384.6,1565.4 384.6,1562.4 384.7,1559.4 384.7,1556.4 384.8,1553.4 384.8,1550.4 384.9,1547.4 384.9,1544.4 385.0,1541.4 385.0,1538.4 385.1,1535.4 385.1,1532.4 385.2,1529.5 385.2,1526.5 385.3,1523.5 385.4,1520.5 385.4,1517.5 385.5,1514.5 385.5,1511.5 385.6,1508.5 385.7,1505.5 385.7,1502.5 385.8,1499.5 385.9,1496.5 385.9,1493.5 386.0,1490.5 386.1,1487.5 386.1,1484.5 386.2,1481.5 386.3,1478.5 386.4,1475.5 386.4,1472.5 386.5,1469.6 386.6,1466.6 386.7,1463.6 386.8,1460.6 386.8,1457.6 386.9,1454.6 387.0,1451.6 387.1,1448.6 387.2,1445.6 387.2,1442.6 387.3,1439.6 387.4,1436.6 387.5,1433.6 387.6,1430.7 387.7,1427.7 387.8,1424.7 387.8,1421.7 387.9,1418.7 388.0,1415.7 388.1,1412.7 388.2,1409.7 388.3,1406.7 388.4,1403.7 388.5,1400.7 388.6,1397.8 388.7,1394.8 388.8,1391.8 388.9,1388.8 389.0,1385.8 389.0,1382.8 389.1,1379.8 389.2,1376.8 389.3,1373.8 389.4,1370.8 389.5,1367.9 389.6,1364.9 389.7,1361.9 389.8,1358.9 389.9,1355.9 390.0,1352.9 390.1,1349.9 390.2,1346.9 390.3,1343.9 390.4,1341.0 390.5,1338.0 390.6,1335.0 390.7,1332.0 390.9,1329.0 391.0,1326.0 391.1,1323.0 391.2,1320.0 391.3,1317.0 391.4,1314.1 391.5,1311.1 391.6,1308.1 391.7,1305.1 391.8,1302.1 391.9,1299.1 392.0,1296.1 392.1,1293.1 392.2,1290.1 392.3,1287.2 392.4,1284.2 392.5,1281.2 392.6,1278.2 392.7,1275.2 392.9,1272.2 393.0,1269.2 393.1,1266.2 393.2,1263.2 393.3,1260.2 393.4,1257.3 393.5,1254.3 393.6,1251.3 393.7,1248.3 393.8,1245.3 393.9,1242.3 394.0,1239.3 394.1,1236.3 394.2,1233.3 394.3,1230.3 394.5,1227.4 394.6,1224.4 394.7,1221.4 394.8,1218.4 394.9,1215.4 395.0,1212.4 395.1,1209.4 395.2,1206.4 395.3,1203.4 395.4,1200.4 395.5,1197.4 395.6,1194.5 395.7,1191.5 395.8,1188.5 395.9,1185.5 396.0,1182.5 396.1,1179.5 396.2,1176.5 396.3,1173.5 396.4,1170.5 396.5,1167.5 396.6,1164.5 396.7,1161.5 396.8,1158.5 396.9,1155.6 397.0,1152.6 397.1,1149.6 397.2,1146.6 397.3,1143.6 397.4,1140.6 397.5,1137.6 397.6,1134.6 397.7,1131.6 397.8,1128.6 397.9,1125.6 398.0,1122.6 398.1,1119.6 398.2,1116.6 398.3,1113.6 398.4,1110.6 398.4,1107.6 398.5,1104.6 398.6,1101.6 398.7,1098.6 398.8,1095.6 398.9,1092.6 399.0,1089.6 399.1,1086.6 399.1,1083.6 399.2,1080.6 399.3,1077.6 399.4,1074.6 399.5,1071.6 399.6,1068.6 399.7,1065.6 399.7,1062.6 399.8,1059.6 399.9,1056.6 400.0,1053.6 400.1,1050.6 400.2,1047.6 400.2,1044.6 400.3,1041.6 400.4,1038.6 400.5,1035.6 400.6,1032.6 400.7,1029.6 400.8,1026.6 400.8,1023.6 400.9,1020.6 401.0,1017.6 401.1,1014.6 401.2,1011.6 401.3,1008.6 401.4,1005.6 401.5,1002.6 401.6,999.6 401.7,996.6 401.8,993.6 401.8,990.6 401.9,987.6 402.0,984.6 402.1,981.6 402.2,978.6 402.3,975.6 402.4,972.6 402.5,969.6 402.7,966.6 402.8,963.6 402.9,960.6 403.0,957.6 403.1,954.6 403.2,951.6 403.3,948.6 403.4,945.6 403.5,942.6 403.7,939.6 403.8,936.6 403.9,933.6 404.0,930.6 404.2,927.6 404.3,924.6 404.4,921.6 404.6,918.6 404.7,915.5 404.8,912.5 405.0,909.5 405.1,906.5 405.3,903.5 405.4,900.5 405.5,897.5 405.7,894.5 405.9,891.5 406.0,888.5 406.2,885.5 406.3,882.5 406.5,879.5 406.7,876.5 406.8,873.5 407.0,870.5 407.2,867.5 407.4,864.5 407.5,861.5 407.7,858.5 407.9,855.5 408.1,852.5 408.3,849.5 408.5,846.5 408.7,843.5 408.9,840.5 409.1,837.5 409.3,834.5 409.5,831.5 409.8,828.5 410.0,825.5 410.2,822.5 410.4,819.6 410.7,816.6 410.9,813.6 411.1,810.6 411.4,807.6 411.6,804.6 411.9,801.6 412.1,798.6 412.4,795.6 412.7,792.6 412.9,789.6 413.2,786.6 413.5,783.6 413.8,780.6 414.0,777.6 414.3,774.6 414.6,771.6 414.9,768.6 415.2,765.7 415.5,762.7 415.8,759.7 416.1,756.7 416.5,753.7 416.8,750.7 417.1,747.7 417.5,744.7 417.8,741.7 418.1,738.7 418.5,735.8 418.8,732.8 419.2,729.8 419.6,726.8 419.9,723.8 420.3,720.8 420.7,717.8 421.1,714.9 421.5,711.9 421.9,708.9 422.3,705.9 422.7,702.9 423.1,699.9 423.5,696.9 423.9,694.0 424.4,691.0 424.8,688.0 425.2,685.0 425.7,682.0 426.1,679.1 426.6,676.1 427.1,673.1 427.5,670.1 428.0,667.1 428.5,664.2 429.0,661.2 429.5,658.2 430.0,655.2 430.5,652.3 431.0,649.3 431.5,646.3 432.0,643.3 432.6,640.4 433.1,637.4 433.6,634.4 434.2,631.5 434.7,628.5 435.3,625.5 435.9,622.5 436.5,619.6 437.0,616.6 437.6,613.6 438.2,610.7 438.8,607.7 439.5,604.7 440.1,601.8 440.7,598.8 441.3,595.8 442.0,592.9 442.6,589.9 443.3,587.0 444.0,584.0 444.7,581.1 445.4,578.1 446.1,575.2 446.8,572.3 447.5,569.4 448.3,566.4 449.0,563.5 449.8,560.6 450.6,557.7 451.4,554.8 452.2,551.9 453.0,549.1 453.9,546.2 454.7,543.3 455.6,540.5 456.5,537.7 457.4,534.8 458.3,532.0 459.3,529.2 460.3,526.4 461.2,523.6 462.2,520.9 463.3,518.1 464.3,515.4 465.4,512.6 466.5,509.9 467.6,507.2 468.7,504.5 469.8,501.8 471.0,499.2 472.2,496.5 473.4,493.9 474.7,491.3 475.9,488.7 477.2,486.1 478.5,483.6 479.9,481.0 481.3,478.5 482.7,476.0 484.1,473.5 485.5,471.0 487.0,468.6 488.5,466.2 490.0,463.7 491.6,461.4 493.2,459.0 494.8,456.7 496.5,454.3 498.1,452.0 499.8,449.8 501.6,447.5 503.4,445.3 505.2,443.1 507.0,440.9 508.9,438.8 510.8,436.6 512.7,434.5 514.7,432.5 516.7,430.4 518.7,428.4 520.8,426.4 522.9,424.4 525.1,422.5 527.3,420.6 529.5,418.7 531.8,416.8 534.1,415.0 536.4,413.2 538.8,411.5 541.2,409.7 543.6,408.0 546.1,406.3 548.7,404.7 551.2,403.1 553.8,401.5 556.4,400.0 559.1,398.4 561.8,396.9 564.5,395.5 567.3,394.0 570.0,392.6 572.8,391.2 575.6,389.9 578.5,388.5 581.4,387.2 584.2,386.0 587.1,384.7 590.1,383.5 593.0,382.3 595.9,381.1 598.9,379.9 601.9,378.8 604.9,377.7 607.9,376.6 610.9,375.6 613.9,374.5 616.9,373.5 619.9,372.5 623.0,371.5 626.0,370.6 629.0,369.7 632.0,368.7 635.1,367.9 638.1,367.0 641.1,366.1 644.1,365.3 647.2,364.5 650.2,363.7 653.2,362.9 656.1,362.2 659.1,361.4 662.1,360.7 665.0,360.0 668.0,359.3 670.9,358.6 673.8,358.0 676.8,357.3 679.7,356.7 682.6,356.1 685.5,355.5 688.4,354.9 691.3,354.4 694.1,353.8 697.0,353.3 699.9,352.7 702.8,352.2 705.7,351.7 708.5,351.2 711.4,350.8 714.3,350.3 717.2,349.8 720.1,349.4 723.0,349.0 725.8,348.5 728.7,348.1 731.6,347.7 734.5,347.3 737.4,346.9 740.4,346.6 743.3,346.2 746.2,345.8 749.1,345.5 752.0,345.2 755.0,344.8 757.9,344.5 760.8,344.2 763.8,343.9 766.7,343.6 769.7,343.3 772.6,343.0 775.6,342.7 778.5,342.4 781.5,342.2 784.5,341.9 787.4,341.7 790.4,341.4 793.4,341.2 796.4,341.0 799.3,340.7 802.3,340.5 805.3,340.3 808.3,340.1 811.3,339.9 814.3,339.7 817.3,339.5 820.3,339.4 823.3,339.2 826.3,339.0 829.3,338.8 832.3,338.7 835.3,338.5 838.3,338.4 841.3,338.2 844.3,338.1 847.3,338.0 850.3,337.8 853.4,337.7 856.4,337.6 859.4,337.4 862.4,337.3 865.4,337.2 868.5,337.1 871.5,337.0 874.5,336.9 877.5,336.8 880.6,336.7 883.6,336.6 886.6,336.5 889.6,336.4 892.7,336.3 895.7,336.2 898.7,336.2 901.8,336.1 904.8,336.0 907.8,335.9 910.9,335.9 913.9,335.8 916.9,335.7 919.9,335.6 923.0,335.6 926.0,335.5 929.0,335.4 932.1,335.4 935.1,335.3 938.1,335.2 941.1,335.1 944.2,335.1 947.2,335.0 950.2,334.9 953.2,334.9 956.3,334.8 959.3,334.7 962.3,334.7 965.3,334.6 968.3,334.5 971.4,334.5 974.4,334.4 977.4,334.3 980.4,334.3 983.4,334.2 986.4,334.1 989.5,334.0 992.5,334.0 995.5,333.9 998.5,333.8 1001.5,333.8 1004.5,333.7 1007.5,333.6 1010.5,333.5 1013.5,333.5 1016.5,333.4 1019.5,333.3 1022.5,333.3 1025.5,333.2 1028.5,333.1 1031.5,333.0 1034.5,333.0 1037.5,332.9 1040.5,332.8 1043.5,332.7 1046.5,332.7 1049.5,332.6 1052.5,332.5 1055.5,332.4 1058.5,332.4 1061.5,332.3 1064.5,332.2 1067.5,332.1 1070.5,332.1 1073.4,332.0 1076.4,331.9 1079.4,331.8 1082.4,331.8 1085.4,331.7 1088.4,331.6 1091.4,331.6 1094.4,331.5 1097.3,331.4 1100.3,331.3 1103.3,331.3 1106.3,331.2 1109.3,331.1 1112.3,331.0 1115.2,331.0 1118.2,330.9 1121.2,330.8 1124.2,330.7 1127.2,330.7 1130.1,330.6 1133.1,330.5 1136.1,330.5 1139.1,330.4 1142.1,330.3 1145.0,330.2 1148.0,330.2 1151.0,330.1 1154.0,330.0 1156.9,329.9 1159.9,329.9 1162.9,329.8 1165.9,329.7 1168.8,329.7 1171.8,329.6 1174.8,329.5 1177.8,329.5 1180.7,329.4 1183.7,329.3 1186.7,329.3 1189.7,329.2 1192.6,329.1 1195.6,329.0 1198.6,329.0 1201.5,328.9 1204.5,328.8 1207.5,328.8 1210.5,328.7 1213.4,328.6 1216.4,328.6 1219.4,328.5 1222.3,328.5 1225.3,328.4 1228.3,328.3 1231.2,328.3 1234.2,328.2 1237.2,328.1 1240.2,328.1 1243.1,328.0 1246.1,328.0 1249.1,327.9 1252.0,327.8 1255.0,327.8 1258.0,327.7 1260.9,327.7 1263.9,327.6 1266.9,327.5 1269.8,327.5 1272.8,327.4 1275.8,327.4 1278.8,327.3 1281.7,327.3 1284.7,327.2 1287.7,327.2 1290.6,327.1 1293.6,327.0 1296.6,327.0 1299.5,326.9 1302.5,326.9 1305.5,326.8 1308.4,326.8 1311.4,326.7 1314.4,326.7 1317.4,326.6 1320.3,326.6 1323.3,326.6 1326.3,326.5 1329.2,326.5 1332.2,326.4 1335.2,326.4 1338.1,326.3 1341.1,326.3 1344.1,326.2 1347.1,326.2 1350.0,326.2 1353.0,326.1 1356.0,326.1 1359.0,326.1 1361.9,326.0 1364.9,326.0 1367.9,325.9 1370.8,325.9 1373.8,325.9 1376.8,325.8 1379.8,325.8 1382.7,325.8 1385.7,325.7 1388.7,325.7 1391.7,325.7 1394.7,325.7 1397.6,325.6 1400.6,325.6 1403.6,325.6 1406.6,325.6 1409.5,325.5 1412.5,325.5 1415.5,325.5 1418.5,325.5 1421.5,325.5 1424.4,325.4 1427.4,325.4 1430.4,325.4 1433.4,325.4 1436.4,325.4 1439.4,325.4 1442.4,325.4 1445.3,325.3 1448.3,325.3 1451.3,325.3 1454.3,325.3 1457.3,325.3 1460.3,325.3 1463.3,325.3 1466.3,325.3 1469.2,325.3 1472.2,325.3 1475.2,325.3 1478.2,325.3 1481.2,325.3 1484.2,325.3 1487.2,325.3 1490.2,325.3 1493.2,325.3 1496.2,325.3 1499.2,325.4 1502.2,325.4 1505.2,325.4 1508.2,325.4 1511.2,325.4 1514.2,325.4 1517.2,325.4 1520.2,325.5 1523.2,325.5 1526.2,325.5 1529.2,325.5 1532.2,325.6 1535.2,325.6 1538.2,325.6 1541.2,325.6 1544.2,325.7 1547.2,325.7 1550.3,325.7 1553.3,325.8 1556.3,325.8 1559.3,325.9 1562.3,325.9 1565.3,325.9 1568.3,326.0 1571.4,326.0 1574.4,326.1 1577.4,326.1 1580.4,326.2 1583.4,326.2 1586.5,326.3 1589.5,326.3 1592.5,326.4 1595.5,326.4 1598.6,326.5 1601.6,326.6 1604.6,326.6 1607.7,326.7 1610.7,326.8 1613.7,326.8 1616.8,326.9 1619.8,327.0 1622.8,327.1 1625.9,327.2 1628.9,327.3 1631.9,327.4 1635.0,327.5 1638.0,327.6 1641.1,327.7 1644.1,327.8 1647.2,328.0 1650.2,328.1 1653.2,328.3 1656.3,328.4 1659.3,328.6 1662.4,328.8 1665.5,329.0 1668.5,329.2 1671.6,329.4 1674.6,329.6 1677.7,329.9 1680.7,330.1 1683.8,330.4 1686.9,330.6 1689.9,330.9 1693.0,331.2 1696.1,331.5 1699.1,331.9 1702.2,332.2 1705.3,332.6 1708.3,333.0 1711.4,333.4 1714.5,333.8 1717.5,334.2 1720.6,334.6 1723.7,335.1 1726.7,335.6 1729.8,336.1 1732.9,336.6 1735.9,337.1 1739.0,337.6 1742.1,338.2 1745.1,338.7 1748.2,339.3 1751.2,339.9 1754.3,340.6 1757.3,341.2 1760.3,341.8 1763.4,342.5 1766.4,343.2 1769.4,343.9 1772.4,344.6 1775.4,345.4 1778.4,346.1 1781.4,346.9 1784.4,347.7 1787.4,348.5 1790.3,349.3 1793.3,350.2 1796.2,351.1 1799.2,351.9 1802.1,352.8 1805.0,353.8 1807.9,354.7 1810.8,355.7 1813.7,356.6 1816.6,357.6 1819.5,358.6 1822.3,359.7 1825.2,360.7 1828.0,361.8 1830.8,362.9 1833.7,364.0 1836.5,365.1 1839.2,366.3 1842.0,367.4 1844.8,368.6 1847.5,369.8 1850.2,371.1 1852.9,372.3 1855.6,373.6 1858.3,374.9 1861.0,376.2 1863.6,377.5 1866.2,378.9 1868.9,380.2 1871.5,381.6 1874.0,383.0 1876.6,384.5 1879.1,385.9 1881.7,387.4 1884.2,388.9 1886.6,390.4 1889.1,391.9 1891.6,393.5 1894.0,395.1 1896.4,396.7 1898.8,398.3 1901.1,399.9 1903.5,401.6 1905.8,403.3 1908.1,405.0 1910.4,406.7 1912.6,408.5 1914.8,410.3 1917.0,412.1 1919.2,413.9 1921.4,415.7 1923.5,417.6 1925.6,419.5 1927.7,421.4 1929.7,423.4 1931.8,425.3 1933.8,427.3 1935.8,429.3 1937.7,431.3 1939.6,433.4 1941.5,435.5 1943.4,437.6 1945.2,439.7 1947.0,441.8 1948.8,444.0 1950.6,446.2 1952.3,448.4 1954.0,450.7 1955.7,452.9 1957.3,455.2 1958.9,457.5 1960.5,459.9 1962.0,462.2 1963.5,464.6 1965.0,467.0 1966.5,469.5 1967.9,471.9 1969.3,474.4 1970.6,476.9 1971.9,479.5 1973.2,482.0 1974.5,484.6 1975.7,487.2 1976.9,489.8 1978.1,492.5 1979.2,495.2 1980.4,497.8 1981.4,500.5 1982.5,503.3 1983.6,506.0 1984.6,508.8 1985.6,511.5 1986.5,514.3 1987.5,517.1 1988.4,519.9 1989.3,522.8 1990.2,525.6 1991.0,528.5 1991.9,531.4 1992.7,534.3 1993.5,537.2 1994.3,540.1 1995.0,543.0 1995.8,545.9 1996.5,548.9 1997.2,551.8 1997.9,554.8 1998.6,557.8 1999.2,560.7 1999.9,563.7 2000.5,566.7 2001.1,569.7 2001.7,572.7 2002.3,575.7 2002.9,578.7 2003.5,581.7 2004.0,584.7 2004.6,587.8 2005.1,590.8 2005.6,593.8 2006.1,596.8 2006.6,599.9 2007.2,602.9 2007.6,605.9 2008.1,608.9 2008.6,612.0 2009.1,615.0 2009.6,618.0 2010.0,621.0 2010.5,624.1 2010.9,627.1 2011.3,630.1 2011.8,633.1 2012.2,636.2 2012.6,639.2 2013.0,642.2 2013.4,645.2 2013.8,648.3 2014.2,651.3 2014.6,654.3 2015.0,657.3 2015.4,660.4 2015.7,663.4 2016.1,666.4 2016.5,669.4 2016.8,672.4 2017.2,675.5 2017.5,678.5 2017.8,681.5 2018.2,684.5 2018.5,687.5 2018.8,690.6 2019.1,693.6 2019.4,696.6 2019.7,699.6 2020.0,702.6 2020.3,705.7 2020.6,708.7 2020.9,711.7 2021.2,714.7 2021.5,717.7 2021.8,720.8 2022.0,723.8 2022.3,726.8 2022.6,729.8 2022.8,732.8 2023.1,735.8 2023.3,738.9 2023.6,741.9 2023.8,744.9 2024.1,747.9 2024.3,750.9 2024.5,753.9 2024.8,757.0 2025.0,760.0 2025.2,763.0 2025.4,766.0 2025.7,769.0 2025.9,772.0 2026.1,775.0 2026.3,778.0 2026.5,781.1 2026.7,784.1 2026.9,787.1 2027.1,790.1 2027.3,793.1 2027.5,796.1 2027.7,799.1 2027.9,802.1 2028.1,805.1 2028.3,808.1 2028.5,811.1 2028.7,814.2 2028.9,817.2 2029.1,820.2 2029.3,823.2 2029.4,826.2 2029.6,829.2 2029.8,832.2 2030.0,835.2 2030.2,838.2 2030.3,841.2 2030.5,844.2 2030.7,847.2 2030.9,850.2 2031.0,853.2 2031.2,856.2 2031.4,859.2 2031.5,862.2 2031.7,865.2 2031.9,868.2 2032.0,871.2 2032.2,874.2 2032.4,877.2 2032.5,880.2 2032.7,883.2 2032.9,886.2 2033.0,889.2 2033.2,892.2 2033.3,895.2 2033.5,898.2 2033.6,901.2 2033.8,904.2 2033.9,907.2 2034.1,910.2 2034.2,913.2 2034.4,916.2 2034.5,919.2 2034.7,922.2 2034.8,925.2 2035.0,928.2 2035.1,931.2 2035.3,934.1 2035.4,937.1 2035.5,940.1 2035.7,943.1 2035.8,946.1 2035.9,949.1 2036.1,952.1 2036.2,955.1 2036.3,958.1 2036.5,961.1 2036.6,964.1 2036.7,967.1 2036.9,970.1 2037.0,973.0 2037.1,976.0 2037.2,979.0 2037.4,982.0 2037.5,985.0 2037.6,988.0 2037.7,991.0 2037.9,994.0 2038.0,997.0 2038.1,999.9 2038.2,1002.9 2038.3,1005.9 2038.5,1008.9 2038.6,1011.9 2038.7,1014.9 2038.8,1017.9 2038.9,1020.9 2039.0,1023.8 2039.1,1026.8 2039.2,1029.8 2039.4,1032.8 2039.5,1035.8 2039.6,1038.8 2039.7,1041.8 2039.8,1044.8 2039.9,1047.7 2040.0,1050.7 2040.1,1053.7 2040.2,1056.7 2040.3,1059.7 2040.4,1062.7 2040.5,1065.6 2040.6,1068.6 2040.7,1071.6 2040.8,1074.6 2040.9,1077.6 2041.0,1080.6 2041.1,1083.6 2041.2,1086.5 2041.3,1089.5 2041.4,1092.5 2041.5,1095.5 2041.6,1098.5 2041.7,1101.5 2041.8,1104.4 2041.8,1107.4 2041.9,1110.4 2042.0,1113.4 2042.1,1116.4 2042.2,1119.4 2042.3,1122.3 2042.4,1125.3 2042.5,1128.3 2042.5,1131.3 2042.6,1134.3 2042.7,1137.3 2042.8,1140.2 2042.9,1143.2 2043.0,1146.2 2043.0,1149.2 2043.1,1152.2 2043.2,1155.2 2043.3,1158.1 2043.4,1161.1 2043.4,1164.1 2043.5,1167.1 2043.6,1170.1 2043.7,1173.0 2043.8,1176.0 2043.8,1179.0 2043.9,1182.0 2044.0,1185.0 2044.1,1188.0 2044.1,1190.9 2044.2,1193.9 2044.3,1196.9 2044.3,1199.9 2044.4,1202.9 2044.5,1205.9 2044.6,1208.8 2044.6,1211.8 2044.7,1214.8 2044.8,1217.8 2044.8,1220.8 2044.9,1223.7 2045.0,1226.7 2045.1,1229.7 2045.1,1232.7 2045.2,1235.7 2045.3,1238.7 2045.3,1241.6 2045.4,1244.6 2045.5,1247.6 2045.5,1250.6 2045.6,1253.6 2045.7,1256.6 2045.7,1259.5 2045.8,1262.5 2045.8,1265.5 2045.9,1268.5 2046.0,1271.5 2046.0,1274.5 2046.1,1277.5 2046.2,1280.4 2046.2,1283.4 2046.3,1286.4 2046.3,1289.4 2046.4,1292.4 2046.5,1295.4 2046.5,1298.3 2046.6,1301.3 2046.7,1304.3 2046.7,1307.3 2046.8,1310.3 2046.8,1313.3 2046.9,1316.3 2047.0,1319.2 2047.0,1322.2 2047.1,1325.2 2047.1,1328.2 2047.2,1331.2 2047.2,1334.2 2047.3,1337.2 2047.4,1340.1 2047.4,1343.1 2047.5,1346.1 2047.5,1349.1 2047.6,1352.1 2047.7,1355.1 2047.7,1358.1 2047.8,1361.1 2047.8,1364.1 2047.9,1367.0 2047.9,1370.0 2048.0,1373.0 2048.1,1376.0 2048.1,1379.0 2048.2,1382.0 2048.2,1385.0 2048.3,1388.0 2048.3,1391.0 2048.4,1394.0 2048.5,1396.9 2048.5,1399.9 2048.6,1402.9 2048.6,1405.9 2048.7,1408.9 2048.7,1411.9 2048.8,1414.9 2048.9,1417.9 2048.9,1420.9 2049.0,1423.9 2049.0,1426.9 2049.1,1429.9 2049.1,1432.9 2049.2,1435.8 2049.2,1438.8 2049.3,1441.8 2049.4,1444.8 2049.4,1447.8 2049.5,1450.8 2049.5,1453.8 2049.6,1456.8 2049.7,1459.8 2049.7,1462.8 2049.8,1465.8 2049.8,1468.8 2049.9,1471.8 2049.9,1474.8 2050.0,1477.8 2050.1,1480.8 2050.1,1483.8 2050.2,1486.8 2050.2,1489.8 2050.3,1492.8 2050.4,1495.8 2050.4,1498.8 2050.5,1501.8 2050.5,1504.8 2050.6,1507.8 2050.7,1510.8 2050.7,1513.8 2050.8,1516.8 2050.8,1519.8 2050.9,1522.8 2051.0,1525.8 2051.0,1528.8 2051.1,1531.8 2051.2,1534.8 2051.2,1537.9 2051.3,1540.9 2051.4,1543.9 2051.4,1546.9 2051.5,1549.9 2051.5,1552.9 2051.6,1555.9 2051.7,1558.9 2051.7,1561.9 2051.8,1564.9 2051.9,1567.9 2051.9,1570.9 2052.0,1574.0 2052.1,1577.0 2052.1,1580.0 2052.2,1583.0 2052.3,1586.0 2052.4,1589.0 2052.4,1592.0 2052.5,1595.0 2052.6,1598.1 2052.6,1601.1 2052.7,1604.1 2052.8,1607.1 2052.9,1610.1 2052.9,1613.1 2053.0,1616.2 2053.1,1619.2 2053.1,1622.2 2053.2,1625.2 2053.3,1628.2 2053.4,1631.2 2053.5,1634.3 2053.5,1637.3 2053.6,1640.3 2053.7,1643.3 2053.8,1646.4 2053.8,1649.4 2053.9,1652.4 2054.0,1655.4 2054.1,1658.4 2054.2,1661.5 2054.2,1664.5 2054.3,1667.5 2054.4,1670.6 2054.5,1673.6 2054.6,1676.6" fill="none" stroke="#033d7e" stroke-width="15.5" stroke-linejoin="round"/>
<path d="M801.5 1884.7V3556.5M1219.3 1884.7V3556.5M1637.2 1884.7V3556.5M383.6 3389.3H2055M383.6 3222.1H2055M383.6 3055H2055M383.6 2887.8H2055M383.6 2720.6H2055M383.6 2553.4H2055M383.6 2386.2H2055M383.6 2219.1H2055M383.6 2051.9H2055" stroke="#000" stroke-opacity="0.135" stroke-width="7.6" fill="none"/>
<path d="M467.2 1889v17M467.2 3552.2v-17M550.7 1889v17M550.7 3552.2v-17M634.3 1889v17M634.3 3552.2v-17M717.9 1889v17M717.9 3552.2v-17M801.5 1889v34M801.5 3552.2v-34M885 1889v17M885 3552.2v-17M968.6 1889v17M968.6 3552.2v-17M1052.2 1889v17M1052.2 3552.2v-17M1135.7 1889v17M1135.7 3552.2v-17M1219.3 1889v34M1219.3 3552.2v-34M1302.9 1889v17M1302.9 3552.2v-17M1386.4 1889v17M1386.4 3552.2v-17M1470 1889v17M1470 3552.2v-17M1553.6 1889v17M1553.6 3552.2v-17M1637.2 1889v34M1637.2 3552.2v-34M1720.7 1889v17M1720.7 3552.2v-17M1804.3 1889v17M1804.3 3552.2v-17M1887.9 1889v17M1887.9 3552.2v-17M1971.4 1889v17M1971.4 3552.2v-17M387.9 3523.1h17M2050.7 3523.1h-17M387.9 3489.6h17M2050.7 3489.6h-17M387.9 3456.2h17M2050.7 3456.2h-17M387.9 3422.8h17M2050.7 3422.8h-17M387.9 3389.3h34M2050.7 3389.3h-34M387.9 3355.9h17M2050.7 3355.9h-17M387.9 3322.4h17M2050.7 3322.4h-17M387.9 3289h17M2050.7 3289h-17M387.9 3255.6h17M2050.7 3255.6h-17M387.9 3222.1h34M2050.7 3222.1h-34M387.9 3188.7h17M2050.7 3188.7h-17M387.9 3155.3h17M2050.7 3155.3h-17M387.9 3121.8h17M2050.7 3121.8h-17M387.9 3088.4h17M2050.7 3088.4h-17M387.9 3055h34M2050.7 3055h-34M387.9 3021.5h17M2050.7 3021.5h-17M387.9 2988.1h17M2050.7 2988.1h-17M387.9 2954.7h17M2050.7 2954.7h-17M387.9 2921.2h17M2050.7 2921.2h-17M387.9 2887.8h34M2050.7 2887.8h-34M387.9 2854.3h17M2050.7 2854.3h-17M387.9 2820.9h17M2050.7 2820.9h-17M387.9 2787.5h17M2050.7 2787.5h-17M387.9 2754h17M2050.7 2754h-17M387.9 2720.6h34M2050.7 2720.6h-34M387.9 2687.2h17M2050.7 2687.2h-17M387.9 2653.7h17M2050.7 2653.7h-17M387.9 2620.3h17M2050.7 2620.3h-17M387.9 2586.9h17M2050.7 2586.9h-17M387.9 2553.4h34M2050.7 2553.4h-34M387.9 2520h17M2050.7 2520h-17M387.9 2486.5h17M2050.7 2486.5h-17M387.9 2453.1h17M2050.7 2453.1h-17M387.9 2419.7h17M2050.7 2419.7h-17M387.9 2386.2h34M2050.7 2386.2h-34M387.9 2352.8h17M2050.7 2352.8h-17M387.9 2319.4h17M2050.7 2319.4h-17M387.9 2285.9h17M2050.7 2285.9h-17M387.9 2252.5h17M2050.7 2252.5h-17M387.9 2219.1h34M2050.7 2219.1h-34M387.9 2185.6h17M2050.7 2185.6h-17M387.9 2152.2h17M2050.7 2152.2h-17M387.9 2118.8h17M2050.7 2118.8h-17M387.9 2085.3h17M2050.7 2085.3h-17M387.9 2051.9h34M2050.7 2051.9h-34M387.9 2018.4h17M2050.7 2018.4h-17M387.9 1985h17M2050.7 1985h-17M387.9 1951.6h17M2050.7 1951.6h-17M387.9 1918.1h17M2050.7 1918.1h-17" stroke="#000" stroke-width="7.6" fill="none"/>
<rect x="383.6" y="1884.7" width="1671.4" height="1671.8" fill="none" stroke="#000" stroke-width="8.6"/>
<text x="352" y="3585.5" text-anchor="end" style="font-family:'Liberation Sans',Arial,Helvetica,sans-serif;font-size:76px">-0.25</text>
<text x="352" y="3418.3" text-anchor="end" style="font-family:'Liberation Sans',Arial,Helvetica,sans-serif;font-size:76px">-0.2</text>
<text x="352" y="3251.1" text-anchor="end" style="font-family:'Liberation Sans',Arial,Helvetica,sans-serif;font-size:76px">-0.15</text>
<text x="352" y="3084" text-anchor="end" style="font-family:'Liberation Sans',Arial,Helvetica,sans-serif;font-size:76px">-0.1</text>
<text x="352" y="2916.8" text-anchor="end" style="font-family:'Liberation Sans',Arial,Helvetica,sans-serif;font-size:76px">-0.05</text>
<text x="352" y="2749.6" text-anchor="end" style="font-family:'Liberation Sans',Arial,Helvetica,sans-serif;font-size:76px">0</text>
<text x="352" y="2582.4" text-anchor="end" style="font-family:'Liberation Sans',Arial,Helvetica,sans-serif;font-size:76px">0.05</text>
<text x="352" y="2415.2" text-anchor="end" style="font-family:'Liberation Sans',Arial,Helvetica,sans-serif;font-size:76px">0.1</text>
<text x="352" y="2248.1" text-anchor="end" style="font-family:'Liberation Sans',Arial,Helvetica,sans-serif;font-size:76px">0.15</text>
<text x="352" y="2080.9" text-anchor="end" style="font-family:'Liberation Sans',Arial,Helvetica,sans-serif;font-size:76px">0.2</text>
<text x="352" y="1913.7" text-anchor="end" style="font-family:'Liberation Sans',Arial,Helvetica,sans-serif;font-size:76px">0.25</text>
<text x="383.6" y="3661" text-anchor="middle" style="font-family:'Liberation Sans',Arial,Helvetica,sans-serif;font-size:76px">0</text>
<text x="801.5" y="3661" text-anchor="middle" style="font-family:'Liberation Sans',Arial,Helvetica,sans-serif;font-size:76px">0.5</text>
<text x="1219.3" y="3661" text-anchor="middle" style="font-family:'Liberation Sans',Arial,Helvetica,sans-serif;font-size:76px">1</text>
<text x="1637.2" y="3661" text-anchor="middle" style="font-family:'Liberation Sans',Arial,Helvetica,sans-serif;font-size:76px">1.5</text>
<text x="2055" y="3661" text-anchor="middle" style="font-family:'Liberation Sans',Arial,Helvetica,sans-serif;font-size:76px">2</text>
<g fill="none" stroke="#06a89f" stroke-width="6.8" stroke-linejoin="miter"><path d="M387.9 2820.6L398.6 2836L387.9 2851.3L377.1 2836Z"/><path d="M411 2881.1L421.8 2896.5L411 2911.8L400.3 2896.5Z"/><path d="M434.2 2920.9L444.9 2936.3L434.2 2951.6L423.4 2936.3Z"/><path d="M457.3 2970.4L468.1 2985.7L457.3 3001.1L446.6 2985.7Z"/><path d="M480.5 3022.9L491.3 3038.2L480.5 3053.6L469.7 3038.2Z"/><path d="M503.6 3077.8L514.4 3093.1L503.6 3108.4L492.9 3093.1Z"/><path d="M526.8 3111.5L537.6 3126.8L526.8 3142.2L516 3126.8Z"/><path d="M550 3106.5L560.7 3121.8L550 3137.2L539.2 3121.8Z"/><path d="M573.1 3125.9L583.9 3141.2L573.1 3156.6L562.4 3141.2Z"/><path d="M596.3 3160L607 3175.3L596.3 3190.7L585.5 3175.3Z"/><path d="M619.4 3141.6L630.2 3156.9L619.4 3172.3L608.7 3156.9Z"/><path d="M642.6 3167L653.4 3182.4L642.6 3197.7L631.8 3182.4Z"/><path d="M665.7 3153.3L676.5 3168.6L665.7 3184L655 3168.6Z"/><path d="M688.9 3147.6L699.7 3163L688.9 3178.3L678.1 3163Z"/><path d="M712.1 3114.9L722.8 3130.2L712.1 3145.5L701.3 3130.2Z"/><path d="M735.2 3109.8L746 3125.2L735.2 3140.5L724.5 3125.2Z"/><path d="M758.4 3113.2L769.1 3128.5L758.4 3143.8L747.6 3128.5Z"/><path d="M781.5 3074.7L792.3 3090.1L781.5 3105.4L770.8 3090.1Z"/><path d="M804.7 3085.4L815.5 3100.8L804.7 3116.1L793.9 3100.8Z"/><path d="M827.8 3053.3L838.6 3068.7L827.8 3084L817.1 3068.7Z"/><path d="M851 3062L861.8 3077.4L851 3092.7L840.2 3077.4Z"/><path d="M874.2 3032.9L884.9 3048.3L874.2 3063.6L863.4 3048.3Z"/><path d="M897.3 3006.2L908.1 3021.5L897.3 3036.9L886.6 3021.5Z"/><path d="M920.5 2972.8L931.2 2988.1L920.5 3003.4L909.7 2988.1Z"/><path d="M943.6 2929.3L954.4 2944.6L943.6 2959.9L932.9 2944.6Z"/><path d="M966.8 2905.9L977.6 2921.2L966.8 2936.5L956 2921.2Z"/><path d="M990 2886.8L1000.7 2902.2L990 2917.5L979.2 2902.2Z"/><path d="M1013.1 2868.8L1023.9 2884.1L1013.1 2899.4L1002.3 2884.1Z"/><path d="M1036.3 2857.7L1047 2873.1L1036.3 2888.4L1025.5 2873.1Z"/><path d="M1059.4 2842.7L1070.2 2858L1059.4 2873.3L1048.7 2858Z"/><path d="M1082.6 2805.6L1093.3 2820.9L1082.6 2836.2L1071.8 2820.9Z"/><path d="M1105.7 2782.2L1116.5 2797.5L1105.7 2812.8L1095 2797.5Z"/><path d="M1128.9 2758.1L1139.7 2773.4L1128.9 2788.8L1118.1 2773.4Z"/><path d="M1152.1 2738.7L1162.8 2754L1152.1 2769.4L1141.3 2754Z"/><path d="M1175.2 2718.6L1186 2734L1175.2 2749.3L1164.4 2734Z"/><path d="M1198.4 2695.2L1209.1 2710.6L1198.4 2725.9L1187.6 2710.6Z"/><path d="M1221.5 2672.8L1232.3 2688.2L1221.5 2703.5L1210.8 2688.2Z"/><path d="M1244.7 2668.5L1255.4 2683.8L1244.7 2699.1L1233.9 2683.8Z"/><path d="M1267.8 2661.8L1278.6 2677.1L1267.8 2692.5L1257.1 2677.1Z"/><path d="M1291 2656.8L1301.8 2672.1L1291 2687.4L1280.2 2672.1Z"/><path d="M1314.2 2624.7L1324.9 2640L1314.2 2655.3L1303.4 2640Z"/><path d="M1337.3 2608.6L1348.1 2624L1337.3 2639.3L1326.5 2624Z"/><path d="M1360.5 2584.9L1371.2 2600.2L1360.5 2615.6L1349.7 2600.2Z"/><path d="M1383.6 2564.8L1394.4 2580.2L1383.6 2595.5L1372.9 2580.2Z"/><path d="M1406.8 2544.8L1417.5 2560.1L1406.8 2575.4L1396 2560.1Z"/><path d="M1429.9 2528.7L1440.7 2544.1L1429.9 2559.4L1419.2 2544.1Z"/><path d="M1453.1 2500.6L1463.9 2516L1453.1 2531.3L1442.3 2516Z"/><path d="M1476.3 2496.6L1487 2512L1476.3 2527.3L1465.5 2512Z"/><path d="M1499.4 2476.9L1510.2 2492.2L1499.4 2507.6L1488.6 2492.2Z"/><path d="M1522.6 2468.9L1533.3 2484.2L1522.6 2499.5L1511.8 2484.2Z"/><path d="M1545.7 2450.8L1556.5 2466.2L1545.7 2481.5L1535 2466.2Z"/><path d="M1568.9 2436.8L1579.6 2452.1L1568.9 2467.4L1558.1 2452.1Z"/><path d="M1592 2416.7L1602.8 2432L1592 2447.4L1581.3 2432Z"/><path d="M1615.2 2403.7L1626 2419L1615.2 2434.3L1604.4 2419Z"/><path d="M1638.4 2367.2L1649.1 2382.6L1638.4 2397.9L1627.6 2382.6Z"/><path d="M1661.5 2352.2L1672.3 2367.5L1661.5 2382.8L1650.7 2367.5Z"/><path d="M1684.7 2341.8L1695.4 2357.2L1684.7 2372.5L1673.9 2357.2Z"/><path d="M1707.8 2340.2L1718.6 2355.5L1707.8 2370.8L1697.1 2355.5Z"/><path d="M1731 2343.8L1741.7 2359.2L1731 2374.5L1720.2 2359.2Z"/><path d="M1754.1 2345.5L1764.9 2360.8L1754.1 2376.2L1743.4 2360.8Z"/><path d="M1777.3 2310.1L1788.1 2325.4L1777.3 2340.7L1766.5 2325.4Z"/><path d="M1800.5 2444.5L1811.2 2459.8L1800.5 2475.1L1789.7 2459.8Z"/></g>
<g fill="#d7840f" stroke="#d7840f" stroke-width="1"><polygon points="411,3380 416,3395.2 431.9,3395.2 419,3404.6 423.9,3419.8 411,3410.4 398.1,3419.8 403,3404.6 390.1,3395.2 406.1,3395.2"/><polygon points="434.2,3453 439.1,3468.2 455.1,3468.2 442.2,3477.6 447.1,3492.8 434.2,3483.4 421.2,3492.8 426.2,3477.6 413.3,3468.2 429.2,3468.2"/><polygon points="457.3,3467 462.3,3482.2 478.3,3482.2 465.3,3491.6 470.3,3506.8 457.3,3497.4 444.4,3506.8 449.3,3491.6 436.4,3482.2 452.4,3482.2"/><polygon points="480.5,3423.3 485.4,3438.4 501.4,3438.5 488.5,3447.8 493.4,3463 480.5,3453.6 467.6,3463 472.5,3447.8 459.6,3438.5 475.6,3438.4"/><polygon points="503.6,3413.1 508.6,3428.3 524.6,3428.3 511.6,3437.7 516.6,3452.9 503.6,3443.5 490.7,3452.9 495.7,3437.7 482.7,3428.3 498.7,3428.3"/><polygon points="526.8,3414.4 531.7,3429.6 547.7,3429.6 534.8,3439 539.7,3454.2 526.8,3444.8 513.9,3454.2 518.8,3439 505.9,3429.6 521.9,3429.6"/><polygon points="550,3409.5 554.9,3424.7 570.9,3424.7 558,3434.1 562.9,3449.3 550,3439.9 537,3449.3 542,3434.1 529,3424.7 545,3424.7"/><polygon points="573.1,3370.3 578.1,3385.5 594,3385.5 581.1,3394.9 586,3410.1 573.1,3400.7 560.2,3410.1 565.1,3394.9 552.2,3385.5 568.2,3385.5"/><polygon points="596.3,3364 601.2,3379.2 617.2,3379.2 604.3,3388.6 609.2,3403.8 596.3,3394.4 583.3,3403.8 588.3,3388.6 575.4,3379.2 591.3,3379.2"/><polygon points="619.4,3349.7 624.4,3364.9 640.4,3364.9 627.4,3374.3 632.4,3389.5 619.4,3380.1 606.5,3389.5 611.4,3374.3 598.5,3364.9 614.5,3364.9"/><polygon points="642.6,3332.8 647.5,3348 663.5,3348 650.6,3357.4 655.5,3372.6 642.6,3363.2 629.7,3372.6 634.6,3357.4 621.7,3348 637.7,3348"/><polygon points="665.7,3311.2 670.7,3326.4 686.7,3326.4 673.7,3335.8 678.7,3351 665.7,3341.6 652.8,3351 657.8,3335.8 644.8,3326.4 660.8,3326.4"/><polygon points="688.9,3295.3 693.8,3310.5 709.8,3310.5 696.9,3319.9 701.8,3335.1 688.9,3325.7 676,3335.1 680.9,3319.9 668,3310.5 684,3310.5"/><polygon points="712.1,3281.5 717,3296.7 733,3296.7 720.1,3306.1 725,3321.3 712.1,3311.9 699.1,3321.3 704.1,3306.1 691.1,3296.7 707.1,3296.7"/><polygon points="735.2,3263.6 740.2,3278.8 756.1,3278.8 743.2,3288.2 748.1,3303.4 735.2,3294 722.3,3303.4 727.2,3288.2 714.3,3278.8 730.3,3278.8"/><polygon points="758.4,3241.4 763.3,3256.6 779.3,3256.6 766.4,3266 771.3,3281.2 758.4,3271.8 745.4,3281.2 750.4,3266 737.5,3256.6 753.4,3256.6"/><polygon points="781.5,3219.2 786.5,3234.4 802.5,3234.4 789.5,3243.8 794.5,3259 781.5,3249.6 768.6,3259 773.5,3243.8 760.6,3234.4 776.6,3234.4"/><polygon points="804.7,3196.5 809.6,3211.7 825.6,3211.7 812.7,3221.1 817.6,3236.3 804.7,3226.9 791.8,3236.3 796.7,3221.1 783.8,3211.7 799.8,3211.7"/><polygon points="827.8,3170.6 832.8,3185.8 848.8,3185.8 835.8,3195.2 840.8,3210.4 827.8,3201 814.9,3210.4 819.9,3195.2 806.9,3185.8 822.9,3185.8"/><polygon points="851,3144.6 855.9,3159.8 871.9,3159.8 859,3169.2 863.9,3184.4 851,3175 838.1,3184.4 843,3169.2 830.1,3159.8 846.1,3159.8"/><polygon points="874.2,3118.7 879.1,3133.9 895.1,3133.9 882.2,3143.3 887.1,3158.5 874.2,3149.1 861.2,3158.5 866.2,3143.3 853.2,3133.9 869.2,3133.9"/><polygon points="897.3,3087.4 902.3,3102.6 918.2,3102.6 905.3,3112 910.3,3127.2 897.3,3117.8 884.4,3127.2 889.3,3112 876.4,3102.6 892.4,3102.6"/><polygon points="920.5,3051.3 925.4,3066.5 941.4,3066.5 928.5,3075.9 933.4,3091.1 920.5,3081.7 907.5,3091.1 912.5,3075.9 899.6,3066.5 915.5,3066.5"/><polygon points="943.6,3015.3 948.6,3030.5 964.6,3030.5 951.6,3039.9 956.6,3055.1 943.6,3045.7 930.7,3055.1 935.6,3039.9 922.7,3030.5 938.7,3030.5"/><polygon points="966.8,2979.2 971.7,2994.4 987.7,2994.4 974.8,3003.8 979.7,3019 966.8,3009.6 953.9,3019 958.8,3003.8 945.9,2994.4 961.9,2994.4"/><polygon points="990,2950.8 994.9,2966 1010.9,2966 997.9,2975.4 1002.9,2990.6 990,2981.2 977,2990.6 982,2975.4 969,2966 985,2966"/><polygon points="1013.1,2932.5 1018,2947.7 1034,2947.7 1021.1,2957.1 1026,2972.3 1013.1,2962.9 1000.2,2972.3 1005.1,2957.1 992.2,2947.7 1008.2,2947.7"/><polygon points="1036.3,2914.2 1041.2,2929.4 1057.2,2929.4 1044.3,2938.8 1049.2,2954 1036.3,2944.6 1023.3,2954 1028.3,2938.8 1015.3,2929.4 1031.3,2929.4"/><polygon points="1059.4,2895.9 1064.4,2911.1 1080.3,2911.1 1067.4,2920.5 1072.4,2935.7 1059.4,2926.3 1046.5,2935.7 1051.4,2920.5 1038.5,2911.1 1054.5,2911.1"/><polygon points="1082.6,2877.6 1087.5,2892.8 1103.5,2892.8 1090.6,2902.2 1095.5,2917.4 1082.6,2908 1069.7,2917.4 1074.6,2902.2 1061.7,2892.8 1077.6,2892.8"/><polygon points="1105.7,2859.3 1110.7,2874.5 1126.7,2874.5 1113.7,2883.9 1118.7,2899.1 1105.7,2889.7 1092.8,2899.1 1097.7,2883.9 1084.8,2874.5 1100.8,2874.5"/><polygon points="1128.9,2840.5 1133.8,2855.7 1149.8,2855.7 1136.9,2865.1 1141.8,2880.3 1128.9,2870.9 1116,2880.3 1120.9,2865.1 1108,2855.7 1124,2855.7"/><polygon points="1152.1,2820.8 1157,2836 1173,2836 1160,2845.4 1165,2860.6 1152.1,2851.2 1139.1,2860.6 1144.1,2845.4 1131.1,2836 1147.1,2836"/><polygon points="1175.2,2800.3 1180.1,2815.5 1196.1,2815.5 1183.2,2824.9 1188.1,2840.1 1175.2,2830.7 1162.3,2840.1 1167.2,2824.9 1154.3,2815.5 1170.3,2815.5"/><polygon points="1198.4,2779.6 1203.3,2794.8 1219.3,2794.8 1206.4,2804.1 1211.3,2819.3 1198.4,2810 1185.4,2819.3 1190.4,2804.1 1177.4,2794.8 1193.4,2794.8"/><polygon points="1221.5,2747 1226.5,2762.2 1242.4,2762.2 1229.5,2771.6 1234.5,2786.8 1221.5,2777.4 1208.6,2786.8 1213.5,2771.6 1200.6,2762.2 1216.6,2762.2"/><polygon points="1244.7,2717.6 1249.6,2732.8 1265.6,2732.8 1252.7,2742.2 1257.6,2757.4 1244.7,2748 1231.8,2757.4 1236.7,2742.2 1223.8,2732.8 1239.7,2732.8"/><polygon points="1267.8,2681.6 1272.8,2696.8 1288.8,2696.8 1275.8,2706.2 1280.8,2721.4 1267.8,2712 1254.9,2721.4 1259.8,2706.2 1246.9,2696.8 1262.9,2696.8"/><polygon points="1291,2650.6 1295.9,2665.8 1311.9,2665.8 1299,2675.2 1303.9,2690.4 1291,2681 1278.1,2690.4 1283,2675.2 1270.1,2665.8 1286.1,2665.8"/><polygon points="1314.2,2621.5 1319.1,2636.7 1335.1,2636.7 1322.1,2646.1 1327.1,2661.3 1314.2,2651.9 1301.2,2661.3 1306.2,2646.1 1293.2,2636.7 1309.2,2636.7"/><polygon points="1337.3,2592.5 1342.2,2607.7 1358.2,2607.7 1345.3,2617.1 1350.2,2632.3 1337.3,2622.9 1324.4,2632.3 1329.3,2617.1 1316.4,2607.7 1332.4,2607.7"/><polygon points="1360.5,2561.6 1365.4,2576.8 1381.4,2576.8 1368.5,2586.2 1373.4,2601.4 1360.5,2592 1347.5,2601.4 1352.5,2586.2 1339.5,2576.8 1355.5,2576.8"/><polygon points="1383.6,2529.6 1388.6,2544.8 1404.5,2544.8 1391.6,2554.1 1396.6,2569.3 1383.6,2560 1370.7,2569.3 1375.6,2554.1 1362.7,2544.8 1378.7,2544.8"/><polygon points="1406.8,2497.5 1411.7,2512.7 1427.7,2512.7 1414.8,2522.1 1419.7,2537.3 1406.8,2527.9 1393.9,2537.3 1398.8,2522.1 1385.9,2512.7 1401.8,2512.7"/><polygon points="1429.9,2466.2 1434.9,2481.4 1450.9,2481.4 1437.9,2490.7 1442.9,2505.9 1429.9,2496.6 1417,2505.9 1421.9,2490.7 1409,2481.4 1425,2481.4"/><polygon points="1453.1,2442.7 1458,2457.9 1474,2457.9 1461.1,2467.3 1466,2482.5 1453.1,2473.1 1440.2,2482.5 1445.1,2467.3 1432.2,2457.9 1448.2,2457.9"/><polygon points="1476.3,2419.2 1481.2,2434.4 1497.2,2434.4 1484.2,2443.8 1489.2,2459 1476.3,2449.6 1463.3,2459 1468.3,2443.8 1455.3,2434.4 1471.3,2434.4"/><polygon points="1499.4,2395.7 1504.3,2410.9 1520.3,2410.9 1507.4,2420.3 1512.3,2435.5 1499.4,2426.1 1486.5,2435.5 1491.4,2420.3 1478.5,2410.9 1494.5,2410.9"/><polygon points="1522.6,2373 1527.5,2388.2 1543.5,2388.2 1530.6,2397.6 1535.5,2412.8 1522.6,2403.4 1509.6,2412.8 1514.6,2397.6 1501.6,2388.2 1517.6,2388.2"/><polygon points="1545.7,2350.5 1550.7,2365.7 1566.6,2365.7 1553.7,2375.1 1558.7,2390.3 1545.7,2380.9 1532.8,2390.3 1537.7,2375.1 1524.8,2365.7 1540.8,2365.7"/><polygon points="1568.9,2328.3 1573.8,2343.5 1589.8,2343.5 1576.9,2352.9 1581.8,2368.1 1568.9,2358.7 1556,2368.1 1560.9,2352.9 1548,2343.5 1563.9,2343.5"/><polygon points="1592,2307.6 1597,2322.8 1613,2322.8 1600,2332.2 1605,2347.4 1592,2338 1579.1,2347.4 1584,2332.2 1571.1,2322.8 1587.1,2322.8"/><polygon points="1615.2,2290 1620.1,2305.2 1636.1,2305.2 1623.2,2314.6 1628.1,2329.8 1615.2,2320.4 1602.3,2329.8 1607.2,2314.6 1594.3,2305.2 1610.3,2305.2"/><polygon points="1638.4,2273 1643.3,2288.2 1659.3,2288.2 1646.3,2297.6 1651.3,2312.8 1638.4,2303.4 1625.4,2312.8 1630.4,2297.6 1617.4,2288.2 1633.4,2288.2"/><polygon points="1661.5,2256.1 1666.4,2271.3 1682.4,2271.3 1669.5,2280.7 1674.4,2295.9 1661.5,2286.5 1648.6,2295.9 1653.5,2280.7 1640.6,2271.3 1656.6,2271.3"/><polygon points="1684.7,2239.1 1689.6,2254.3 1705.6,2254.3 1692.7,2263.7 1697.6,2278.9 1684.7,2269.5 1671.7,2278.9 1676.7,2263.7 1663.7,2254.3 1679.7,2254.3"/><polygon points="1707.8,2225.2 1712.8,2240.4 1728.7,2240.4 1715.8,2249.8 1720.8,2265 1707.8,2255.6 1694.9,2265 1699.8,2249.8 1686.9,2240.4 1702.9,2240.4"/><polygon points="1731,2211.8 1735.9,2227 1751.9,2227 1739,2236.4 1743.9,2251.6 1731,2242.2 1718.1,2251.6 1723,2236.4 1710.1,2227 1726,2227"/><polygon points="1754.1,2198.3 1759.1,2213.5 1775.1,2213.5 1762.1,2222.9 1767.1,2238.1 1754.1,2228.7 1741.2,2238.1 1746.1,2222.9 1733.2,2213.5 1749.2,2213.5"/><polygon points="1777.3,2184.8 1782.2,2200 1798.2,2200 1785.3,2209.4 1790.2,2224.6 1777.3,2215.2 1764.4,2224.6 1769.3,2209.4 1756.4,2200 1772.4,2200"/></g>
<path d="M362.1 3353.5H413.6M387.9 3327.8V3379.3M408.4 3373.7H459.9M434.2 3348V3399.5M431.6 3386.7H483.1M457.3 3360.9V3412.4M454.8 3377H506.2M480.5 3351.3V3402.8M477.9 3386.9H529.4M503.6 3361.2V3412.6M501.1 3379H552.5M526.8 3353.2V3404.7M524.2 3378.9H575.7M550 3353.2V3404.6M547.4 3371.6H598.9M573.1 3345.8V3397.3M570.5 3366.3H622M596.3 3340.5V3392M593.7 3352.9H645.2M619.4 3327.2V3378.7M616.9 3344.3H668.3M642.6 3318.6V3370M640 3329H691.5M665.7 3303.3V3354.8M663.2 3313.8H714.6M688.9 3288.1V3339.5M686.3 3296.7H737.8M712.1 3270.9V3322.4M709.5 3277.5H761M735.2 3251.7V3303.2M732.6 3258.3H784.1M758.4 3232.5V3284M755.8 3233.2H807.3M781.5 3207.5V3258.9M779 3213.2H830.4M804.7 3187.4V3238.9M802.1 3193.8H853.6M827.8 3168.1V3219.6M825.3 3172.2H876.7M851 3146.5V3198M848.4 3147.4H899.9M874.2 3121.7V3173.2M871.6 3125.3H923.1M897.3 3099.6V3151M894.7 3095.8H946.2M920.5 3070.1V3121.6M917.9 3072.2H969.4M943.6 3046.5V3097.9M941.1 3048.6H992.5M966.8 3022.8V3074.3M964.2 3024.9H1015.7M990 2999.2V3050.7M987.4 3001.1H1038.8M1013.1 2975.3V3026.8M1010.5 2973H1062M1036.3 2947.3V2998.7M1033.7 2944.8H1085.2M1059.4 2919.1V2970.6M1056.8 2915.5H1108.3M1082.6 2889.7V2941.2M1080 2886.1H1131.5M1105.7 2860.4V2911.8M1103.2 2857.2H1154.6M1128.9 2831.5V2882.9M1126.3 2831.6H1177.8M1152.1 2805.9V2857.4M1149.5 2806.1H1200.9M1175.2 2780.3V2831.8M1172.6 2780.5H1224.1M1198.4 2754.7V2806.2M1195.8 2754.9H1247.3M1221.5 2729.2V2780.7M1218.9 2729.4H1270.4M1244.7 2703.7V2755.1M1242.1 2706.6H1293.6M1267.8 2680.8V2732.3M1265.3 2684.2H1316.7M1291 2658.5V2709.9M1288.4 2647.2H1339.9M1314.2 2621.4V2672.9M1311.6 2599.3H1363M1337.3 2573.6V2625.1M1334.7 2564.5H1386.2M1360.5 2538.8V2590.2M1357.9 2531.6H1409.4M1383.6 2505.8V2557.3M1381 2501H1432.5M1406.8 2475.3V2526.7M1404.2 2476.2H1455.7M1429.9 2450.4V2501.9M1427.4 2451.4H1478.8M1453.1 2425.6V2477.1M1450.5 2426.8H1502M1476.3 2401V2452.5M1473.7 2402.2H1525.1M1499.4 2376.5V2428M1496.8 2379.2H1548.3M1522.6 2353.4V2404.9M1520 2356.1H1571.5M1545.7 2330.4V2381.9M1543.1 2334H1594.6M1568.9 2308.3V2359.7M1566.3 2311.9H1617.8M1592 2286.1V2337.6M1589.5 2294.5H1640.9M1615.2 2268.8V2320.3M1612.6 2277.4H1664.1M1638.4 2251.6V2303.1M1635.8 2263.2H1687.3M1661.5 2237.5V2288.9M1658.9 2249.3H1710.4M1684.7 2223.6V2275.1M1682.1 2225.2H1733.6M1707.8 2199.4V2250.9M1705.2 2200.1H1756.7M1731 2174.4V2225.8M1728.4 2205H1779.9M1754.1 2179.3V2230.8M1751.6 2203.2H1803M1777.3 2177.5V2229" fill="none" stroke="#000" stroke-width="7.5"/>
<g fill="none" stroke="#ff8200" stroke-width="6.8"><circle cx="487.1" cy="3097.4" r="10.9"/><circle cx="510.7" cy="3131.1" r="10.9"/><circle cx="534.3" cy="3156.5" r="10.9"/><circle cx="557.8" cy="3156.7" r="10.9"/><circle cx="581.4" cy="3176" r="10.9"/><circle cx="605" cy="3159.4" r="10.9"/><circle cx="628.5" cy="3175.9" r="10.9"/><circle cx="652.1" cy="3172.8" r="10.9"/><circle cx="675.7" cy="3143" r="10.9"/><circle cx="699.2" cy="3147.6" r="10.9"/><circle cx="722.8" cy="3140.3" r="10.9"/><circle cx="746.4" cy="3128.1" r="10.9"/><circle cx="769.9" cy="3113.9" r="10.9"/><circle cx="793.5" cy="3093" r="10.9"/><circle cx="817.1" cy="3088.6" r="10.9"/><circle cx="840.6" cy="3043.5" r="10.9"/><circle cx="864.2" cy="3030.8" r="10.9"/><circle cx="887.8" cy="3028.2" r="10.9"/><circle cx="911.3" cy="3008.7" r="10.9"/><circle cx="934.9" cy="2989" r="10.9"/><circle cx="958.5" cy="2965.7" r="10.9"/><circle cx="982" cy="2937.6" r="10.9"/><circle cx="1005.6" cy="2919.4" r="10.9"/><circle cx="1029.2" cy="2910.8" r="10.9"/><circle cx="1052.7" cy="2881.4" r="10.9"/><circle cx="1076.3" cy="2853.9" r="10.9"/><circle cx="1099.9" cy="2835.8" r="10.9"/><circle cx="1123.4" cy="2813" r="10.9"/><circle cx="1147" cy="2783.2" r="10.9"/><circle cx="1170.6" cy="2751.5" r="10.9"/><circle cx="1194.1" cy="2725.9" r="10.9"/><circle cx="1217.7" cy="2700.5" r="10.9"/><circle cx="1241.3" cy="2675.7" r="10.9"/><circle cx="1264.8" cy="2644.6" r="10.9"/><circle cx="1288.4" cy="2617.9" r="10.9"/><circle cx="1312" cy="2592.9" r="10.9"/><circle cx="1335.5" cy="2572.4" r="10.9"/></g>
<g fill="none" stroke="#561a86" stroke-width="6.3" stroke-linejoin="miter"><path d="M475.7 3305.2L488.8 3327.4L462.6 3327.4Z"/><path d="M499.5 3293.3L512.6 3315.5L486.4 3315.5Z"/><path d="M523.2 3308.1L536.3 3330.3L510.1 3330.3Z"/><path d="M547 3302.9L560.1 3325L533.9 3325Z"/><path d="M570.8 3299.3L583.9 3321.5L557.7 3321.5Z"/><path d="M594.6 3289.4L607.7 3311.6L581.5 3311.6Z"/><path d="M618.3 3287.8L631.5 3310L605.2 3310Z"/><path d="M642.1 3270L655.2 3292.2L629 3292.2Z"/><path d="M665.9 3262.1L679 3284.3L652.8 3284.3Z"/><path d="M689.7 3245.9L702.8 3268.1L676.6 3268.1Z"/><path d="M713.5 3229.5L726.6 3251.7L700.3 3251.7Z"/><path d="M737.2 3214.2L750.3 3236.4L724.1 3236.4Z"/><path d="M761 3196L774.1 3218.2L747.9 3218.2Z"/><path d="M784.8 3175.8L797.9 3198L771.7 3198Z"/><path d="M808.6 3156L821.7 3178.2L795.4 3178.2Z"/><path d="M832.3 3141.3L845.4 3163.5L819.2 3163.5Z"/><path d="M856.1 3123.7L869.2 3145.9L843 3145.9Z"/><path d="M879.9 3095.8L893 3118L866.8 3118Z"/><path d="M903.7 3067.9L916.8 3090.1L890.6 3090.1Z"/><path d="M927.4 3040.7L940.5 3062.9L914.3 3062.9Z"/><path d="M951.2 3017.6L964.3 3039.8L938.1 3039.8Z"/><path d="M975 2994.6L988.1 3016.8L961.9 3016.8Z"/><path d="M998.8 2972.2L1011.9 2994.4L985.7 2994.4Z"/><path d="M1022.5 2949.6L1035.6 2971.8L1009.4 2971.8Z"/><path d="M1046.3 2925.2L1059.4 2947.4L1033.2 2947.4Z"/><path d="M1070.1 2900.9L1083.2 2923.1L1057 2923.1Z"/><path d="M1093.9 2873.6L1107 2895.8L1080.8 2895.8Z"/><path d="M1117.6 2845.1L1130.7 2867.3L1104.5 2867.3Z"/><path d="M1141.4 2816.1L1154.5 2838.3L1128.3 2838.3Z"/><path d="M1165.2 2785.6L1178.3 2807.8L1152.1 2807.8Z"/><path d="M1189 2754.3L1202.1 2776.5L1175.9 2776.5Z"/><path d="M1212.7 2721.9L1225.8 2744.1L1199.6 2744.1Z"/><path d="M1236.5 2690.1L1249.6 2712.3L1223.4 2712.3Z"/><path d="M1260.3 2658.3L1273.4 2680.5L1247.2 2680.5Z"/><path d="M1284.1 2625.2L1297.2 2647.4L1271 2647.4Z"/><path d="M1307.8 2591.1L1320.9 2613.3L1294.7 2613.3Z"/><path d="M1331.6 2561.9L1344.7 2584.1L1318.5 2584.1Z"/><path d="M1355.4 2539.3L1368.5 2561.5L1342.3 2561.5Z"/></g>
<path d="M478.7 3336.4L514.3 3372M478.7 3372L514.3 3336.4M501.8 3334.9L537.4 3370.4M501.8 3370.4L537.4 3334.9M524.8 3334L560.4 3369.6M524.8 3369.6L560.4 3334M547.9 3324.4L583.5 3360M547.9 3360L583.5 3324.4M571 3315.8L606.5 3351.4M571 3351.4L606.5 3315.8M594 3305L629.6 3340.6M594 3340.6L629.6 3305M617.1 3294.2L652.7 3329.8M617.1 3329.8L652.7 3294.2M640.2 3283.6L675.7 3319.1M640.2 3319.1L675.7 3283.6M663.2 3271.7L698.8 3307.3M663.2 3307.3L698.8 3271.7M686.3 3251.4L721.9 3286.9M686.3 3286.9L721.9 3251.4M709.4 3234.1L744.9 3269.6M709.4 3269.6L744.9 3234.1M732.4 3215.9L768 3251.5M732.4 3251.5L768 3215.9M755.5 3190.5L791.1 3226M755.5 3226L791.1 3190.5M778.6 3165.6L814.1 3201.2M778.6 3201.2L814.1 3165.6M801.6 3146.4L837.2 3181.9M801.6 3181.9L837.2 3146.4M824.7 3127.3L860.3 3162.8M824.7 3162.8L860.3 3127.3M847.8 3108.8L883.3 3144.4M847.8 3144.4L883.3 3108.8M870.8 3089.9L906.4 3125.4M870.8 3125.4L906.4 3089.9M893.9 3068.6L929.5 3104.2M893.9 3104.2L929.5 3068.6M917 3045.6L952.5 3081.2M917 3081.2L952.5 3045.6M940 3022.6L975.6 3058.2M940 3058.2L975.6 3022.6M963.1 2996.9L998.7 3032.5M963.1 3032.5L998.7 2996.9M986.2 2970.9L1021.7 3006.4M986.2 3006.4L1021.7 2970.9M1009.2 2944.6L1044.8 2980.2M1009.2 2980.2L1044.8 2944.6M1032.3 2918.2L1067.9 2953.8M1032.3 2953.8L1067.9 2918.2M1055.4 2892.5L1090.9 2928.1M1055.4 2928.1L1090.9 2892.5M1078.4 2869.6L1114 2905.2M1078.4 2905.2L1114 2869.6M1101.5 2846.8L1137.1 2882.3M1101.5 2882.3L1137.1 2846.8M1124.5 2822.7L1160.1 2858.3M1124.5 2858.3L1160.1 2822.7M1147.6 2789.6L1183.2 2825.1M1147.6 2825.1L1183.2 2789.6M1170.7 2756.4L1206.2 2792M1170.7 2792L1206.2 2756.4M1193.7 2723.3L1229.3 2758.9M1193.7 2758.9L1229.3 2723.3M1216.8 2690.2L1252.4 2725.7M1216.8 2725.7L1252.4 2690.2M1239.9 2657L1275.4 2692.6M1239.9 2692.6L1275.4 2657M1262.9 2621.9L1298.5 2657.5M1262.9 2657.5L1298.5 2621.9M1286 2591.1L1321.6 2626.6M1286 2626.6L1321.6 2591.1M1309.1 2555.8L1344.6 2591.4M1309.1 2591.4L1344.6 2555.8M1332.1 2525.5L1367.7 2561.1M1332.1 2561.1L1367.7 2525.5" fill="none" stroke="#000" stroke-width="7"/>
<path d="M383.6,2723.9 384.0,2726.9 384.4,2729.9 384.8,2732.9 385.2,2735.8 385.6,2738.8 385.9,2741.8 386.3,2744.8 386.6,2747.7 386.9,2750.7 387.2,2753.7 387.5,2756.7 387.8,2759.7 388.1,2762.6 388.4,2765.6 388.7,2768.6 388.9,2771.6 389.2,2774.6 389.5,2777.5 389.7,2780.5 389.9,2783.5 390.1,2786.5 390.4,2789.5 390.6,2792.5 390.8,2795.4 391.0,2798.4 391.2,2801.4 391.4,2804.4 391.5,2807.4 391.7,2810.4 391.9,2813.4 392.1,2816.4 392.2,2819.3 392.4,2822.3 392.5,2825.3 392.7,2828.3 392.8,2831.3 393.0,2834.3 393.1,2837.3 393.3,2840.3 393.4,2843.3 393.5,2846.2 393.7,2849.2 393.8,2852.2 393.9,2855.2 394.0,2858.2 394.1,2861.2 394.3,2864.2 394.4,2867.2 394.5,2870.2 394.6,2873.2 394.7,2876.2 394.9,2879.2 395.0,2882.1 395.1,2885.1 395.2,2888.1 395.3,2891.1 395.5,2894.1 395.6,2897.1 395.7,2900.1 395.8,2903.1 396.0,2906.1 396.1,2909.1 396.2,2912.1 396.4,2915.1 396.5,2918.1 396.7,2921.1 396.8,2924.0 397.0,2927.0 397.1,2930.0 397.3,2933.0 397.4,2936.0 397.6,2939.0 397.8,2942.0 398.0,2945.0 398.1,2948.0 398.3,2951.0 398.5,2954.0 398.7,2957.0 398.9,2960.0 399.1,2962.9 399.4,2965.9 399.6,2968.9 399.8,2971.9 400.1,2974.9 400.3,2977.9 400.6,2980.9 400.8,2983.9 401.1,2986.9 401.4,2989.9 401.7,2992.8 402.0,2995.8 402.3,2998.8 402.6,3001.8 402.9,3004.8 403.3,3007.8 403.6,3010.8 404.0,3013.8 404.3,3016.7 404.7,3019.7 405.1,3022.7 405.5,3025.7 405.9,3028.7 406.4,3031.7 406.8,3034.7 407.2,3037.6 407.7,3040.6 408.2,3043.6 408.7,3046.6 409.2,3049.6 409.7,3052.5 410.2,3055.5 410.7,3058.5 411.3,3061.5 411.9,3064.5 412.5,3067.4 413.1,3070.4 413.7,3073.4 414.3,3076.4 414.9,3079.4 415.6,3082.3 416.3,3085.3 417.0,3088.3 417.7,3091.2 418.4,3094.2 419.2,3097.2 419.9,3100.1 420.7,3103.1 421.5,3106.0 422.3,3108.9 423.1,3111.9 424.0,3114.8 424.8,3117.7 425.7,3120.6 426.6,3123.5 427.6,3126.4 428.5,3129.3 429.5,3132.2 430.4,3135.1 431.4,3137.9 432.5,3140.8 433.5,3143.6 434.6,3146.5 435.7,3149.3 436.8,3152.1 437.9,3154.9 439.0,3157.6 440.2,3160.4 441.4,3163.2 442.6,3165.9 443.9,3168.6 445.1,3171.3 446.4,3174.0 447.7,3176.7 449.1,3179.3 450.4,3182.0 451.8,3184.6 453.2,3187.2 454.6,3189.8 456.1,3192.4 457.5,3194.9 459.0,3197.5 460.6,3200.0 462.1,3202.5 463.7,3204.9 465.3,3207.4 466.9,3209.8 468.6,3212.2 470.3,3214.6 472.0,3217.0 473.7,3219.3 475.5,3221.6 477.3,3223.9 479.1,3226.2 481.0,3228.4 482.9,3230.6 484.8,3232.8 486.7,3235.0 488.7,3237.1 490.7,3239.2 492.7,3241.3 494.7,3243.3 496.8,3245.4 498.9,3247.4 501.1,3249.3 503.2,3251.3 505.4,3253.2 507.7,3255.0 509.9,3256.9 512.2,3258.7 514.5,3260.5 516.8,3262.3 519.2,3264.0 521.6,3265.7 524.0,3267.4 526.4,3269.0 528.9,3270.7 531.4,3272.3 533.9,3273.8 536.4,3275.4 538.9,3276.9 541.5,3278.3 544.1,3279.8 546.7,3281.2 549.3,3282.6 552.0,3284.0 554.6,3285.3 557.3,3286.6 560.0,3287.9 562.7,3289.1 565.5,3290.3 568.2,3291.5 571.0,3292.7 573.8,3293.8 576.6,3294.9 579.4,3296.0 582.3,3297.0 585.1,3298.0 588.0,3299.0 590.8,3300.0 593.7,3300.9 596.6,3301.8 599.5,3302.6 602.5,3303.5 605.4,3304.3 608.4,3305.1 611.3,3305.8 614.3,3306.5 617.3,3307.2 620.2,3307.9 623.2,3308.5 626.2,3309.1 629.3,3309.7 632.3,3310.2 635.3,3310.7 638.3,3311.2 641.4,3311.6 644.4,3312.1 647.5,3312.5 650.5,3312.8 653.6,3313.1 656.6,3313.4 659.7,3313.7 662.8,3314.0 665.8,3314.2 668.9,3314.4 672.0,3314.5 675.0,3314.6 678.1,3314.7 681.2,3314.8 684.3,3314.8 687.3,3314.8 690.4,3314.8 693.5,3314.7 696.5,3314.6 699.6,3314.5 702.7,3314.4 705.7,3314.2 708.8,3314.0 711.8,3313.7 714.9,3313.5 717.9,3313.2 721.0,3312.8 724.0,3312.5 727.0,3312.1 730.0,3311.7 733.0,3311.2 736.0,3310.7 739.0,3310.2 742.0,3309.7 745.0,3309.1 748.0,3308.5 750.9,3307.9 753.9,3307.2 756.8,3306.5 759.7,3305.8 762.6,3305.0 765.5,3304.3 768.4,3303.4 771.3,3302.6 774.1,3301.7 777.0,3300.8 779.8,3299.9 782.6,3298.9 785.4,3297.9 788.2,3296.9 791.0,3295.8 793.7,3294.7 796.5,3293.6 799.2,3292.4 801.9,3291.2 804.6,3290.0 807.2,3288.8 809.9,3287.5 812.5,3286.2 815.1,3284.8 817.7,3283.5 820.3,3282.1 822.8,3280.7 825.4,3279.2 827.9,3277.7 830.4,3276.2 832.9,3274.7 835.4,3273.1 837.8,3271.5 840.3,3269.9 842.7,3268.3 845.1,3266.6 847.5,3265.0 849.9,3263.2 852.3,3261.5 854.6,3259.8 856.9,3258.0 859.3,3256.2 861.6,3254.4 863.9,3252.5 866.1,3250.7 868.4,3248.8 870.6,3246.9 872.9,3244.9 875.1,3243.0 877.3,3241.0 879.5,3239.0 881.7,3237.0 883.8,3235.0 886.0,3233.0 888.1,3230.9 890.2,3228.8 892.4,3226.7 894.5,3224.6 896.6,3222.5 898.6,3220.4 900.7,3218.2 902.7,3216.0 904.8,3213.8 906.8,3211.6 908.8,3209.4 910.8,3207.2 912.8,3204.9 914.8,3202.7 916.8,3200.4 918.8,3198.1 920.7,3195.9 922.7,3193.5 924.6,3191.2 926.5,3188.9 928.4,3186.6 930.3,3184.2 932.2,3181.9 934.1,3179.5 936.0,3177.1 937.8,3174.8 939.7,3172.4 941.5,3170.0 943.4,3167.6 945.2,3165.2 947.0,3162.7 948.8,3160.3 950.6,3157.9 952.4,3155.5 954.2,3153.0 956.0,3150.6 957.8,3148.1 959.5,3145.7 961.3,3143.2 963.0,3140.8 964.8,3138.3 966.5,3135.8 968.2,3133.4 970.0,3130.9 971.7,3128.4 973.4,3125.9 975.1,3123.4 976.8,3121.0 978.5,3118.5 980.2,3116.0 981.8,3113.5 983.5,3111.0 985.2,3108.5 986.9,3106.0 988.5,3103.5 990.2,3101.0 991.8,3098.5 993.5,3096.0 995.1,3093.5 996.8,3091.0 998.4,3088.4 1000.0,3085.9 1001.6,3083.4 1003.3,3080.9 1004.9,3078.4 1006.5,3075.8 1008.1,3073.3 1009.7,3070.8 1011.3,3068.3 1012.9,3065.7 1014.5,3063.2 1016.1,3060.7 1017.7,3058.1 1019.3,3055.6 1020.9,3053.1 1022.5,3050.5 1024.1,3048.0 1025.7,3045.4 1027.3,3042.9 1028.9,3040.4 1030.4,3037.8 1032.0,3035.3 1033.6,3032.7 1035.2,3030.2 1036.8,3027.6 1038.3,3025.1 1039.9,3022.6 1041.5,3020.0 1043.1,3017.5 1044.7,3014.9 1046.3,3012.4 1047.8,3009.8 1049.4,3007.3 1051.0,3004.7 1052.6,3002.2 1054.2,2999.7 1055.7,2997.1 1057.3,2994.6 1058.9,2992.0 1060.5,2989.5 1062.1,2986.9 1063.6,2984.4 1065.2,2981.8 1066.8,2979.3 1068.4,2976.7 1070.0,2974.2 1071.5,2971.7 1073.1,2969.1 1074.7,2966.6 1076.3,2964.0 1077.9,2961.5 1079.4,2958.9 1081.0,2956.4 1082.6,2953.8 1084.2,2951.3 1085.8,2948.7 1087.3,2946.2 1088.9,2943.6 1090.5,2941.1 1092.1,2938.5 1093.7,2936.0 1095.2,2933.4 1096.8,2930.9 1098.4,2928.3 1100.0,2925.8 1101.5,2923.2 1103.1,2920.7 1104.7,2918.1 1106.3,2915.6 1107.8,2913.0 1109.4,2910.5 1111.0,2907.9 1112.6,2905.4 1114.1,2902.8 1115.7,2900.3 1117.3,2897.7 1118.9,2895.2 1120.4,2892.6 1122.0,2890.1 1123.6,2887.5 1125.2,2885.0 1126.7,2882.4 1128.3,2879.8 1129.9,2877.3 1131.4,2874.7 1133.0,2872.2 1134.6,2869.6 1136.2,2867.1 1137.7,2864.5 1139.3,2862.0 1140.9,2859.4 1142.4,2856.8 1144.0,2854.3 1145.6,2851.7 1147.1,2849.2 1148.7,2846.6 1150.3,2844.1 1151.8,2841.5 1153.4,2838.9 1154.9,2836.4 1156.5,2833.8 1158.1,2831.3 1159.6,2828.7 1161.2,2826.2 1162.8,2823.6 1164.3,2821.0 1165.9,2818.5 1167.4,2815.9 1169.0,2813.3 1170.6,2810.8 1172.1,2808.2 1173.7,2805.7 1175.2,2803.1 1176.8,2800.5 1178.3,2798.0 1179.9,2795.4 1181.4,2792.8 1183.0,2790.3 1184.5,2787.7 1186.1,2785.2 1187.6,2782.6 1189.2,2780.0 1190.7,2777.5 1192.3,2774.9 1193.8,2772.3 1195.4,2769.8 1196.9,2767.2 1198.5,2764.6 1200.0,2762.1 1201.6,2759.5 1203.1,2756.9 1204.7,2754.4 1206.2,2751.8 1207.7,2749.2 1209.3,2746.6 1210.8,2744.1 1212.4,2741.5 1213.9,2738.9 1215.4,2736.4 1217.0,2733.8 1218.5,2731.2 1220.0,2728.6 1221.6,2726.1 1223.1,2723.5 1224.6,2720.9 1226.2,2718.4 1227.7,2715.8 1229.2,2713.2 1230.7,2710.6 1232.3,2708.1 1233.8,2705.5 1235.3,2702.9 1236.8,2700.3 1238.4,2697.7 1239.9,2695.2 1241.4,2692.6 1242.9,2690.0 1244.4,2687.4 1246.0,2684.9 1247.5,2682.3 1249.0,2679.7 1250.5,2677.1 1252.0,2674.5 1253.5,2672.0 1255.0,2669.4 1256.6,2666.8 1258.1,2664.2 1259.6,2661.6 1261.1,2659.0 1262.6,2656.5 1264.1,2653.9 1265.6,2651.3 1267.1,2648.7 1268.6,2646.1 1270.1,2643.5 1271.6,2641.0 1273.1,2638.4 1274.6,2635.8 1276.1,2633.2 1277.6,2630.6 1279.1,2628.0 1280.6,2625.5 1282.1,2622.9 1283.6,2620.3 1285.1,2617.7 1286.6,2615.1 1288.1,2612.5 1289.6,2609.9 1291.1,2607.4 1292.6,2604.8 1294.1,2602.2 1295.6,2599.6 1297.1,2597.0 1298.7,2594.4 1300.2,2591.9 1301.7,2589.3 1303.2,2586.7 1304.7,2584.1 1306.2,2581.5 1307.7,2578.9 1309.2,2576.4 1310.7,2573.8 1312.2,2571.2 1313.7,2568.6 1315.2,2566.0 1316.7,2563.5 1318.2,2560.9 1319.7,2558.3 1321.2,2555.7 1322.7,2553.2 1324.3,2550.6 1325.8,2548.0 1327.3,2545.4 1328.8,2542.8 1330.3,2540.3 1331.8,2537.7 1333.3,2535.1 1334.9,2532.6 1336.4,2530.0 1337.9,2527.4 1339.4,2524.8 1341.0,2522.3 1342.5,2519.7 1344.0,2517.1 1345.5,2514.6 1347.1,2512.0 1348.6,2509.4 1350.1,2506.9 1351.7,2504.3 1353.2,2501.7 1354.7,2499.2 1356.3,2496.6 1357.8,2494.1 1359.4,2491.5 1360.9,2488.9 1362.5,2486.4 1364.0,2483.8 1365.6,2481.3 1367.1,2478.7 1368.7,2476.2 1370.2,2473.6 1371.8,2471.1 1373.4,2468.5 1374.9,2466.0 1376.5,2463.4 1378.1,2460.9 1379.6,2458.3 1381.2,2455.8 1382.8,2453.2 1384.4,2450.7 1385.9,2448.2 1387.5,2445.6 1389.1,2443.1 1390.7,2440.6 1392.3,2438.0 1393.9,2435.5 1395.5,2433.0 1397.1,2430.4 1398.7,2427.9 1400.3,2425.4 1401.9,2422.8 1403.5,2420.3 1405.1,2417.8 1406.7,2415.3 1408.4,2412.8 1410.0,2410.2 1411.6,2407.7 1413.2,2405.2 1414.9,2402.7 1416.5,2400.2 1418.1,2397.7 1419.8,2395.2 1421.4,2392.7 1423.1,2390.2 1424.7,2387.7 1426.4,2385.2 1428.0,2382.7 1429.7,2380.2 1431.4,2377.7 1433.0,2375.2 1434.7,2372.7 1436.4,2370.2 1438.1,2367.7 1439.8,2365.2 1441.5,2362.7 1443.2,2360.3 1444.9,2357.8 1446.6,2355.3 1448.3,2352.8 1450.0,2350.4 1451.7,2347.9 1453.4,2345.4 1455.1,2343.0 1456.8,2340.5 1458.6,2338.0 1460.3,2335.6 1462.1,2333.1 1463.8,2330.7 1465.5,2328.2 1467.3,2325.8 1469.1,2323.3 1470.8,2320.9 1472.6,2318.4 1474.4,2316.0 1476.1,2313.5 1477.9,2311.1 1479.7,2308.7 1481.5,2306.2 1483.3,2303.8 1485.1,2301.4 1486.9,2298.9 1488.7,2296.5 1490.5,2294.1 1492.3,2291.7 1494.1,2289.3 1496.0,2286.9 1497.8,2284.5 1499.7,2282.1 1501.5,2279.7 1503.4,2277.3 1505.2,2274.9 1507.1,2272.5 1509.0,2270.1 1510.8,2267.7 1512.7,2265.4 1514.6,2263.0 1516.5,2260.6 1518.4,2258.3 1520.3,2255.9 1522.2,2253.6 1524.2,2251.2 1526.1,2248.9 1528.0,2246.6 1530.0,2244.3 1532.0,2242.0 1533.9,2239.7 1535.9,2237.4 1537.9,2235.1 1539.9,2232.8 1541.9,2230.5 1543.9,2228.3 1545.9,2226.0 1547.9,2223.7 1549.9,2221.5 1552.0,2219.3 1554.0,2217.1 1556.1,2214.8 1558.2,2212.6 1560.2,2210.4 1562.3,2208.3 1564.4,2206.1 1566.5,2203.9 1568.6,2201.8 1570.8,2199.6 1572.9,2197.5 1575.1,2195.4 1577.2,2193.3 1579.4,2191.2 1581.6,2189.1 1583.7,2187.0 1586.0,2185.0 1588.2,2182.9 1590.4,2180.9 1592.6,2178.9 1594.9,2176.8 1597.1,2174.8 1599.4,2172.9 1601.7,2170.9 1604.0,2168.9 1606.3,2167.0 1608.6,2165.1 1610.9,2163.2 1613.3,2161.3 1615.6,2159.4 1618.0,2157.5 1620.4,2155.7 1622.8,2153.9 1625.2,2152.1 1627.6,2150.3 1630.0,2148.6 1632.5,2146.8 1634.9,2145.1 1637.4,2143.5 1639.9,2141.8 1642.4,2140.2 1644.9,2138.6 1647.4,2137.0 1650.0,2135.5 1652.5,2134.0 1655.1,2132.5 1657.7,2131.0 1660.3,2129.6 1662.9,2128.2 1665.5,2126.9 1668.2,2125.6 1670.9,2124.3 1673.5,2123.1 1676.2,2121.8 1678.9,2120.7 1681.6,2119.5 1684.4,2118.4 1687.1,2117.4 1689.9,2116.3 1692.7,2115.4 1695.4,2114.4 1698.2,2113.5 1701.0,2112.6 1703.8,2111.8 1706.7,2111.0 1709.5,2110.2 1712.4,2109.4 1715.2,2108.8 1718.1,2108.1 1720.9,2107.5 1723.8,2106.9 1726.7,2106.3 1729.6,2105.8 1732.5,2105.4 1735.4,2104.9 1738.3,2104.5 1741.2,2104.2 1744.1,2103.8 1747.1,2103.6 1750.0,2103.3 1752.9,2103.1 1755.8,2102.9 1758.8,2102.8 1761.7,2102.7 1764.7,2102.7 1767.6,2102.6 1770.5,2102.7 1773.5,2102.7 1776.4,2102.8 1779.4,2103.0 1782.3,2103.2 1785.2,2103.4 1788.2,2103.6 1791.1,2103.9 1794.1,2104.3 1797.0,2104.6 1799.9,2105.1 1802.8,2105.5 1805.8,2106.0 1808.7,2106.6 1811.6,2107.1 1814.5,2107.7 1817.4,2108.4 1820.3,2109.1 1823.2,2109.8 1826.1,2110.6 1828.9,2111.4 1831.8,2112.2 1834.7,2113.1 1837.5,2114.0 1840.3,2114.9 1843.2,2115.9 1846.0,2116.9 1848.8,2118.0 1851.6,2119.1 1854.4,2120.2 1857.2,2121.3 1860.0,2122.5 1862.7,2123.7 1865.5,2125.0 1868.2,2126.3 1870.9,2127.6 1873.6,2128.9 1876.3,2130.3 1879.0,2131.7 1881.6,2133.2 1884.3,2134.6 1886.9,2136.1 1889.5,2137.7 1892.1,2139.2 1894.7,2140.8 1897.3,2142.4 1899.8,2144.1 1902.4,2145.7 1904.9,2147.4 1907.4,2149.2 1909.8,2150.9 1912.3,2152.7 1914.7,2154.5 1917.1,2156.4 1919.5,2158.2 1921.9,2160.1 1924.3,2162.0 1926.6,2164.0 1928.9,2165.9 1931.2,2167.9 1933.4,2169.9 1935.7,2172.0 1937.9,2174.0 1940.1,2176.1 1942.3,2178.2 1944.4,2180.3 1946.5,2182.5 1948.6,2184.7 1950.7,2186.8 1952.7,2189.1 1954.7,2191.3 1956.7,2193.5 1958.6,2195.8 1960.6,2198.1 1962.5,2200.4 1964.3,2202.8 1966.2,2205.1 1968.0,2207.5 1969.8,2209.9 1971.5,2212.3 1973.2,2214.7 1974.9,2217.1 1976.6,2219.6 1978.3,2222.1 1979.9,2224.6 1981.5,2227.1 1983.0,2229.6 1984.6,2232.1 1986.1,2234.7 1987.6,2237.2 1989.0,2239.8 1990.5,2242.4 1991.9,2245.0 1993.3,2247.6 1994.6,2250.3 1996.0,2252.9 1997.3,2255.6 1998.6,2258.3 1999.8,2260.9 2001.1,2263.6 2002.3,2266.3 2003.5,2269.1 2004.6,2271.8 2005.8,2274.5 2006.9,2277.3 2008.0,2280.0 2009.1,2282.8 2010.2,2285.6 2011.2,2288.3 2012.2,2291.1 2013.2,2293.9 2014.2,2296.7 2015.1,2299.5 2016.1,2302.4 2017.0,2305.2 2017.9,2308.0 2018.8,2310.9 2019.6,2313.7 2020.4,2316.5 2021.3,2319.4 2022.1,2322.3 2022.8,2325.1 2023.6,2328.0 2024.4,2330.9 2025.1,2333.8 2025.8,2336.6 2026.5,2339.5 2027.2,2342.4 2027.8,2345.3 2028.5,2348.2 2029.1,2351.2 2029.7,2354.1 2030.3,2357.0 2030.9,2359.9 2031.4,2362.8 2032.0,2365.8 2032.5,2368.7 2033.0,2371.7 2033.5,2374.6 2034.0,2377.5 2034.5,2380.5 2035.0,2383.5 2035.4,2386.4 2035.9,2389.4 2036.3,2392.3 2036.7,2395.3 2037.1,2398.3 2037.5,2401.3 2037.8,2404.3 2038.2,2407.2 2038.6,2410.2 2038.9,2413.2 2039.2,2416.2 2039.5,2419.2 2039.8,2422.2 2040.1,2425.2 2040.4,2428.2 2040.7,2431.2 2041.0,2434.2 2041.2,2437.2 2041.5,2440.3 2041.7,2443.3 2041.9,2446.3 2042.1,2449.3 2042.4,2452.3 2042.6,2455.3 2042.8,2458.4 2042.9,2461.4 2043.1,2464.4 2043.3,2467.5 2043.5,2470.5 2043.6,2473.5 2043.8,2476.6 2043.9,2479.6 2044.1,2482.6 2044.2,2485.7 2044.3,2488.7 2044.5,2491.7 2044.6,2494.8 2044.7,2497.8 2044.8,2500.9 2044.9,2503.9 2045.0,2507.0 2045.1,2510.0 2045.2,2513.0 2045.3,2516.1 2045.4,2519.1 2045.5,2522.2 2045.5,2525.2 2045.6,2528.3 2045.7,2531.3 2045.8,2534.3 2045.8,2537.4 2045.9,2540.4 2046.0,2543.5 2046.1,2546.5 2046.1,2549.6 2046.2,2552.6 2046.3,2555.6 2046.3,2558.7 2046.4,2561.7 2046.5,2564.8 2046.5,2567.8 2046.6,2570.8 2046.7,2573.9 2046.7,2576.9 2046.8,2579.9 2046.9,2582.9 2047.0,2586.0 2047.0,2589.0 2047.1,2592.0 2047.2,2595.0 2047.3,2598.1 2047.4,2601.1 2047.5,2604.1 2047.6,2607.1 2047.7,2610.1 2047.8,2613.1 2047.9,2616.1 2048.0,2619.1 2048.1,2622.1 2048.2,2625.1 2048.4,2628.1 2048.5,2631.1 2048.6,2634.1 2048.8,2637.1 2048.9,2640.1 2049.1,2643.1 2049.2,2646.0 2049.4,2649.0 2049.6,2652.0 2049.8,2655.0 2050.0,2657.9 2050.2,2660.9 2050.4,2663.8 2050.6,2666.8 2050.8,2669.7 2051.1,2672.7 2051.3,2675.6 2051.6,2678.6 2051.8,2681.5 2052.1,2684.4 2052.4,2687.3 2052.7,2690.3 2053.0,2693.2 2053.3,2696.1 2053.6,2699.0 2053.9,2701.9 2054.3,2704.8 2054.6,2707.7 2055.0,2710.6" fill="none" stroke="#00864e" stroke-width="10.5" stroke-linejoin="round"/>
<path d="M383.6,2724.9 384.0,2728.0 384.4,2731.1 384.8,2734.1 385.2,2737.2 385.5,2740.3 385.9,2743.3 386.2,2746.4 386.6,2749.4 386.9,2752.4 387.3,2755.5 387.6,2758.5 387.9,2761.5 388.2,2764.5 388.5,2767.6 388.8,2770.6 389.0,2773.6 389.3,2776.6 389.6,2779.6 389.9,2782.6 390.1,2785.6 390.4,2788.6 390.6,2791.6 390.8,2794.6 391.1,2797.6 391.3,2800.5 391.5,2803.5 391.7,2806.5 392.0,2809.5 392.2,2812.4 392.4,2815.4 392.6,2818.4 392.8,2821.4 393.0,2824.3 393.1,2827.3 393.3,2830.2 393.5,2833.2 393.7,2836.2 393.9,2839.1 394.0,2842.1 394.2,2845.0 394.4,2848.0 394.6,2850.9 394.7,2853.9 394.9,2856.8 395.0,2859.8 395.2,2862.7 395.4,2865.7 395.5,2868.6 395.7,2871.6 395.8,2874.5 396.0,2877.5 396.2,2880.4 396.3,2883.3 396.5,2886.3 396.6,2889.2 396.8,2892.2 397.0,2895.1 397.1,2898.1 397.3,2901.0 397.5,2903.9 397.6,2906.9 397.8,2909.8 398.0,2912.8 398.1,2915.7 398.3,2918.7 398.5,2921.6 398.7,2924.6 398.8,2927.5 399.0,2930.5 399.2,2933.4 399.4,2936.4 399.6,2939.3 399.8,2942.3 400.0,2945.2 400.2,2948.2 400.4,2951.2 400.7,2954.1 400.9,2957.1 401.1,2960.1 401.3,2963.0 401.6,2966.0 401.8,2969.0 402.1,2972.0 402.3,2974.9 402.6,2977.9 402.9,2980.9 403.2,2983.9 403.4,2986.9 403.7,2989.9 404.0,2992.9 404.3,2995.9 404.6,2998.9 405.0,3001.9 405.3,3004.9 405.6,3007.9 406.0,3010.9 406.3,3013.9 406.7,3016.9 407.1,3020.0 407.4,3023.0 407.8,3026.0 408.2,3029.1 408.6,3032.1 409.1,3035.2 409.5,3038.2 409.9,3041.3 410.4,3044.3 410.8,3047.4 411.3,3050.4 411.8,3053.5 412.3,3056.6 412.8,3059.7 413.3,3062.7 413.9,3065.8 414.4,3068.9 415.0,3072.0 415.6,3075.0 416.2,3078.1 416.8,3081.2 417.4,3084.2 418.1,3087.3 418.8,3090.3 419.5,3093.3 420.2,3096.4 421.0,3099.4 421.7,3102.4 422.5,3105.4 423.4,3108.3 424.2,3111.3 425.1,3114.2 426.0,3117.2 426.9,3120.1 427.9,3123.0 428.9,3125.9 429.9,3128.7 431.0,3131.6 432.0,3134.4 433.2,3137.2 434.3,3139.9 435.5,3142.7 436.7,3145.4 438.0,3148.1 439.3,3150.8 440.6,3153.4 442.0,3156.0 443.4,3158.6 444.8,3161.2 446.3,3163.7 447.9,3166.2 449.4,3168.6 451.0,3171.1 452.7,3173.4 454.4,3175.8 456.1,3178.1 457.9,3180.4 459.8,3182.6 461.7,3184.8 463.6,3187.0 465.6,3189.1 467.6,3191.2 469.7,3193.2 471.8,3195.2 473.9,3197.1 476.1,3199.0 478.4,3200.9 480.7,3202.7 483.0,3204.4 485.3,3206.1 487.7,3207.8 490.2,3209.4 492.6,3210.9 495.1,3212.4 497.6,3213.9 500.2,3215.3 502.8,3216.6 505.4,3217.9 508.0,3219.1 510.7,3220.2 513.4,3221.3 516.1,3222.4 518.8,3223.4 521.6,3224.3 524.4,3225.1 527.2,3225.9 530.0,3226.6 532.9,3227.3 535.7,3227.9 538.6,3228.4 541.5,3228.8 544.4,3229.2 547.3,3229.5 550.2,3229.8 553.1,3230.0 556.1,3230.1 559.0,3230.2 562.0,3230.2 565.0,3230.2 567.9,3230.1 570.9,3230.0 573.9,3229.8 576.9,3229.5 579.8,3229.2 582.8,3228.9 585.8,3228.5 588.8,3228.0 591.7,3227.5 594.7,3227.0 597.6,3226.4 600.6,3225.8 603.5,3225.1 606.5,3224.4 609.4,3223.7 612.3,3222.9 615.2,3222.1 618.1,3221.2 621.0,3220.3 623.8,3219.4 626.7,3218.4 629.5,3217.4 632.4,3216.4 635.2,3215.3 638.0,3214.2 640.8,3213.1 643.6,3211.9 646.4,3210.7 649.2,3209.5 651.9,3208.3 654.7,3207.0 657.4,3205.7 660.2,3204.4 662.9,3203.0 665.6,3201.7 668.3,3200.3 671.0,3198.9 673.7,3197.4 676.4,3195.9 679.0,3194.5 681.7,3193.0 684.3,3191.4 687.0,3189.9 689.6,3188.3 692.2,3186.8 694.8,3185.2 697.5,3183.6 700.0,3182.0 702.6,3180.3 705.2,3178.7 707.8,3177.0 710.3,3175.4 712.9,3173.7 715.4,3172.0 718.0,3170.3 720.5,3168.6 723.0,3166.9 725.5,3165.1 728.0,3163.4 730.5,3161.7 733.0,3159.9 735.5,3158.2 737.9,3156.4 740.4,3154.6 742.9,3152.9 745.3,3151.1 747.7,3149.3 750.2,3147.5 752.6,3145.7 755.0,3143.9 757.4,3142.1 759.8,3140.3 762.2,3138.4 764.6,3136.6 767.0,3134.8 769.4,3132.9 771.8,3131.1 774.1,3129.2 776.5,3127.4 778.8,3125.5 781.2,3123.6 783.5,3121.7 785.8,3119.8 788.2,3118.0 790.5,3116.1 792.8,3114.2 795.1,3112.2 797.4,3110.3 799.7,3108.4 802.0,3106.5 804.3,3104.6 806.6,3102.6 808.9,3100.7 811.1,3098.8 813.4,3096.8 815.7,3094.9 817.9,3092.9 820.2,3090.9 822.4,3089.0 824.7,3087.0 826.9,3085.0 829.2,3083.1 831.4,3081.1 833.6,3079.1 835.8,3077.1 838.1,3075.1 840.3,3073.1 842.5,3071.1 844.7,3069.1 846.9,3067.1 849.1,3065.1 851.3,3063.1 853.5,3061.1 855.7,3059.0 857.9,3057.0 860.1,3055.0 862.3,3053.0 864.4,3050.9 866.6,3048.9 868.8,3046.9 871.0,3044.8 873.1,3042.8 875.3,3040.7 877.5,3038.7 879.6,3036.6 881.8,3034.6 883.9,3032.5 886.1,3030.5 888.3,3028.4 890.4,3026.4 892.6,3024.3 894.7,3022.2 896.9,3020.2 899.0,3018.1 901.2,3016.0 903.3,3014.0 905.4,3011.9 907.6,3009.8 909.7,3007.8 911.9,3005.7 914.0,3003.6 916.2,3001.5 918.3,2999.5 920.4,2997.4 922.6,2995.3 924.7,2993.2 926.8,2991.1 929.0,2989.1 931.1,2987.0 933.3,2984.9 935.4,2982.8 937.5,2980.7 939.7,2978.6 941.8,2976.6 944.0,2974.5 946.1,2972.4 948.2,2970.3 950.4,2968.2 952.5,2966.2 954.7,2964.1 956.8,2962.0 959.0,2959.9 961.1,2957.8 963.3,2955.8 965.4,2953.7 967.6,2951.6 969.7,2949.5 971.9,2947.5 974.0,2945.4 976.2,2943.3 978.3,2941.2 980.5,2939.2 982.7,2937.1 984.8,2935.0 987.0,2933.0 989.2,2930.9 991.3,2928.9 993.5,2926.8 995.7,2924.7 997.9,2922.7 1000.0,2920.6 1002.2,2918.6 1004.4,2916.5 1006.6,2914.5 1008.8,2912.4 1011.0,2910.4 1013.2,2908.3 1015.4,2906.3 1017.6,2904.2 1019.8,2902.2 1022.0,2900.1 1024.2,2898.1 1026.4,2896.0 1028.6,2894.0 1030.8,2892.0 1033.0,2889.9 1035.2,2887.9 1037.4,2885.8 1039.6,2883.8 1041.8,2881.8 1044.0,2879.7 1046.2,2877.7 1048.4,2875.7 1050.7,2873.6 1052.9,2871.6 1055.1,2869.6 1057.3,2867.6 1059.5,2865.5 1061.7,2863.5 1064.0,2861.5 1066.2,2859.4 1068.4,2857.4 1070.6,2855.4 1072.9,2853.4 1075.1,2851.4 1077.3,2849.3 1079.6,2847.3 1081.8,2845.3 1084.0,2843.3 1086.2,2841.3 1088.5,2839.2 1090.7,2837.2 1092.9,2835.2 1095.2,2833.2 1097.4,2831.2 1099.6,2829.1 1101.9,2827.1 1104.1,2825.1 1106.3,2823.1 1108.6,2821.1 1110.8,2819.1 1113.1,2817.1 1115.3,2815.0 1117.5,2813.0 1119.8,2811.0 1122.0,2809.0 1124.2,2807.0 1126.5,2805.0 1128.7,2803.0 1131.0,2801.0 1133.2,2799.0 1135.4,2796.9 1137.7,2794.9 1139.9,2792.9 1142.2,2790.9 1144.4,2788.9 1146.6,2786.9 1148.9,2784.9 1151.1,2782.9 1153.3,2780.9 1155.6,2778.8 1157.8,2776.8 1160.1,2774.8 1162.3,2772.8 1164.5,2770.8 1166.8,2768.8 1169.0,2766.8 1171.2,2764.8 1173.5,2762.8 1175.7,2760.8 1177.9,2758.7 1180.2,2756.7 1182.4,2754.7 1184.6,2752.7 1186.9,2750.7 1189.1,2748.7 1191.3,2746.7 1193.5,2744.7 1195.8,2742.7 1198.0,2740.6 1200.2,2738.6 1202.5,2736.6 1204.7,2734.6 1206.9,2732.6 1209.1,2730.6 1211.3,2728.6 1213.6,2726.5 1215.8,2724.5 1218.0,2722.5 1220.2,2720.5 1222.4,2718.5 1224.6,2716.5 1226.9,2714.4 1229.1,2712.4 1231.3,2710.4 1233.5,2708.4 1235.7,2706.4 1237.9,2704.3 1240.1,2702.3 1242.3,2700.3 1244.5,2698.3 1246.7,2696.2 1248.9,2694.2 1251.1,2692.2 1253.3,2690.2 1255.5,2688.1 1257.7,2686.1 1259.9,2684.1 1262.1,2682.1 1264.3,2680.0 1266.5,2678.0 1268.7,2676.0 1270.9,2674.0 1273.1,2671.9 1275.3,2669.9 1277.5,2667.9 1279.7,2665.8 1281.9,2663.8 1284.0,2661.8 1286.2,2659.7 1288.4,2657.7 1290.6,2655.7 1292.8,2653.6 1295.0,2651.6 1297.2,2649.6 1299.3,2647.5 1301.5,2645.5 1303.7,2643.4 1305.9,2641.4 1308.1,2639.4 1310.3,2637.3 1312.4,2635.3 1314.6,2633.3 1316.8,2631.2 1319.0,2629.2 1321.1,2627.1 1323.3,2625.1 1325.5,2623.0 1327.7,2621.0 1329.8,2619.0 1332.0,2616.9 1334.2,2614.9 1336.4,2612.8 1338.5,2610.8 1340.7,2608.7 1342.9,2606.7 1345.1,2604.6 1347.2,2602.6 1349.4,2600.5 1351.6,2598.5 1353.7,2596.4 1355.9,2594.4 1358.1,2592.3 1360.3,2590.3 1362.4,2588.2 1364.6,2586.2 1366.8,2584.1 1368.9,2582.1 1371.1,2580.0 1373.3,2577.9 1375.4,2575.9 1377.6,2573.8 1379.8,2571.8 1381.9,2569.7 1384.1,2567.7 1386.3,2565.6 1388.4,2563.5 1390.6,2561.5 1392.8,2559.4 1394.9,2557.3 1397.1,2555.3 1399.3,2553.2 1401.4,2551.2 1403.6,2549.1 1405.8,2547.0 1407.9,2545.0 1410.1,2542.9 1412.3,2540.8 1414.4,2538.8 1416.6,2536.7 1418.8,2534.6 1420.9,2532.6 1423.1,2530.5 1425.3,2528.4 1427.4,2526.3 1429.6,2524.3 1431.8,2522.2 1433.9,2520.1 1436.1,2518.1 1438.3,2516.0 1440.4,2513.9 1442.6,2511.8 1444.8,2509.8 1446.9,2507.7 1449.1,2505.6 1451.3,2503.5 1453.4,2501.4 1455.6,2499.4 1457.8,2497.3 1460.0,2495.2 1462.1,2493.1 1464.3,2491.0 1466.5,2489.0 1468.6,2486.9 1470.8,2484.8 1473.0,2482.7 1475.2,2480.6 1477.3,2478.5 1479.5,2476.4 1481.7,2474.4 1483.9,2472.3 1486.0,2470.2 1488.2,2468.1 1490.4,2466.0 1492.6,2463.9 1494.7,2461.8 1496.9,2459.7 1499.1,2457.6 1501.3,2455.5 1503.5,2453.5 1505.6,2451.4 1507.8,2449.3 1510.0,2447.2 1512.2,2445.1 1514.4,2443.0 1516.6,2440.9 1518.7,2438.8 1520.9,2436.7 1523.1,2434.7 1525.3,2432.6 1527.5,2430.5 1529.7,2428.4 1531.9,2426.4 1534.1,2424.3 1536.3,2422.3 1538.5,2420.2 1540.7,2418.2 1542.9,2416.1 1545.1,2414.1 1547.3,2412.0 1549.6,2410.0 1551.8,2408.0 1554.0,2406.0 1556.2,2403.9 1558.4,2401.9 1560.7,2399.9 1562.9,2398.0 1565.1,2396.0 1567.4,2394.0 1569.6,2392.0 1571.9,2390.1 1574.1,2388.1 1576.3,2386.2 1578.6,2384.2 1580.9,2382.3 1583.1,2380.4 1585.4,2378.5 1587.6,2376.6 1589.9,2374.7 1592.2,2372.9 1594.5,2371.0 1596.8,2369.1 1599.0,2367.3 1601.3,2365.5 1603.6,2363.7 1605.9,2361.9 1608.2,2360.1 1610.5,2358.3 1612.9,2356.5 1615.2,2354.8 1617.5,2353.0 1619.8,2351.3 1622.1,2349.5 1624.5,2347.8 1626.8,2346.1 1629.2,2344.4 1631.5,2342.7 1633.9,2341.0 1636.2,2339.3 1638.6,2337.6 1640.9,2336.0 1643.3,2334.3 1645.7,2332.6 1648.1,2331.0 1650.4,2329.3 1652.8,2327.7 1655.2,2326.0 1657.6,2324.4 1660.0,2322.7 1662.4,2321.1 1664.8,2319.4 1667.3,2317.8 1669.7,2316.1 1672.1,2314.5 1674.5,2312.8 1676.9,2311.2 1679.4,2309.6 1681.8,2307.9 1684.3,2306.2 1686.7,2304.6 1689.2,2302.9 1691.6,2301.3 1694.1,2299.6 1696.6,2297.9 1699.0,2296.2 1701.5,2294.5 1704.0,2292.8 1706.5,2291.1 1709.0,2289.4 1711.5,2287.7 1713.9,2286.0 1716.4,2284.2 1719.0,2282.5 1721.5,2280.7 1724.0,2279.0 1726.5,2277.2 1729.0,2275.4 1731.6,2273.6 1734.1,2271.8 1736.6,2270.0 1739.2,2268.1 1741.7,2266.3 1744.3,2264.4 1746.8,2262.6 1749.4,2260.7 1752.0,2258.9 1754.6,2257.0 1757.1,2255.2 1759.7,2253.4 1762.3,2251.5 1765.0,2249.7 1767.6,2247.9 1770.2,2246.1 1772.9,2244.4 1775.5,2242.6 1778.2,2240.9 1780.8,2239.2 1783.5,2237.5 1786.2,2235.9 1788.9,2234.3 1791.7,2232.7 1794.4,2231.1 1797.1,2229.6 1799.9,2228.2 1802.6,2226.7 1805.4,2225.3 1808.2,2224.0 1811.0,2222.7 1813.8,2221.4 1816.5,2220.2 1819.3,2219.1 1822.1,2218.0 1825.0,2216.9 1827.8,2216.0 1830.6,2215.0 1833.4,2214.2 1836.2,2213.4 1839.0,2212.6 1841.8,2212.0 1844.6,2211.4 1847.4,2210.8 1850.2,2210.4 1853.0,2210.0 1855.8,2209.7 1858.6,2209.5 1861.4,2209.3 1864.1,2209.3 1866.9,2209.3 1869.7,2209.4 1872.4,2209.6 1875.2,2209.9 1877.9,2210.2 1880.6,2210.7 1883.3,2211.2 1886.0,2211.8 1888.7,2212.5 1891.4,2213.3 1894.0,2214.1 1896.7,2215.0 1899.3,2216.0 1901.9,2217.0 1904.5,2218.1 1907.1,2219.3 1909.6,2220.6 1912.2,2221.9 1914.7,2223.2 1917.2,2224.7 1919.7,2226.2 1922.1,2227.7 1924.6,2229.3 1927.0,2230.9 1929.4,2232.6 1931.7,2234.4 1934.1,2236.2 1936.4,2238.0 1938.7,2239.9 1940.9,2241.8 1943.2,2243.8 1945.4,2245.8 1947.5,2247.8 1949.7,2249.9 1951.8,2252.0 1953.9,2254.1 1955.9,2256.3 1958.0,2258.5 1960.0,2260.7 1961.9,2263.0 1963.9,2265.3 1965.8,2267.6 1967.6,2269.9 1969.5,2272.3 1971.3,2274.7 1973.1,2277.1 1974.9,2279.6 1976.6,2282.1 1978.3,2284.6 1980.0,2287.1 1981.7,2289.6 1983.3,2292.2 1984.9,2294.8 1986.5,2297.4 1988.0,2300.0 1989.5,2302.7 1991.0,2305.4 1992.5,2308.1 1993.9,2310.8 1995.4,2313.5 1996.8,2316.3 1998.1,2319.0 1999.5,2321.8 2000.8,2324.6 2002.1,2327.4 2003.4,2330.2 2004.6,2333.0 2005.8,2335.9 2007.0,2338.7 2008.2,2341.6 2009.3,2344.5 2010.5,2347.4 2011.6,2350.3 2012.7,2353.2 2013.7,2356.1 2014.8,2359.0 2015.8,2361.9 2016.8,2364.9 2017.7,2367.8 2018.7,2370.7 2019.6,2373.7 2020.5,2376.6 2021.4,2379.6 2022.3,2382.6 2023.1,2385.5 2024.0,2388.5 2024.8,2391.4 2025.5,2394.4 2026.3,2397.3 2027.1,2400.3 2027.8,2403.2 2028.5,2406.2 2029.2,2409.2 2029.9,2412.1 2030.5,2415.1 2031.1,2418.0 2031.8,2421.0 2032.4,2423.9 2032.9,2426.9 2033.5,2429.8 2034.1,2432.8 2034.6,2435.7 2035.1,2438.7 2035.6,2441.6 2036.1,2444.6 2036.6,2447.5 2037.0,2450.5 2037.5,2453.4 2037.9,2456.4 2038.3,2459.3 2038.7,2462.3 2039.1,2465.3 2039.5,2468.2 2039.9,2471.2 2040.2,2474.1 2040.6,2477.1 2040.9,2480.0 2041.2,2483.0 2041.5,2485.9 2041.8,2488.9 2042.1,2491.8 2042.4,2494.8 2042.7,2497.7 2042.9,2500.7 2043.2,2503.7 2043.4,2506.6 2043.6,2509.6 2043.9,2512.5 2044.1,2515.5 2044.3,2518.4 2044.5,2521.4 2044.7,2524.4 2044.8,2527.3 2045.0,2530.3 2045.2,2533.2 2045.4,2536.2 2045.5,2539.2 2045.7,2542.1 2045.8,2545.1 2046.0,2548.1 2046.1,2551.0 2046.2,2554.0 2046.4,2557.0 2046.5,2559.9 2046.6,2562.9 2046.7,2565.9 2046.9,2568.8 2047.0,2571.8 2047.1,2574.8 2047.2,2577.7 2047.3,2580.7 2047.4,2583.7 2047.5,2586.7 2047.6,2589.7 2047.7,2592.6 2047.8,2595.6 2047.9,2598.6 2048.0,2601.6 2048.1,2604.6 2048.2,2607.5 2048.3,2610.5 2048.4,2613.5 2048.6,2616.5 2048.7,2619.5 2048.8,2622.5 2048.9,2625.5 2049.0,2628.5 2049.1,2631.5 2049.3,2634.4 2049.4,2637.4 2049.5,2640.4 2049.7,2643.4 2049.8,2646.4 2049.9,2649.4 2050.1,2652.4 2050.3,2655.5 2050.4,2658.5 2050.6,2661.5 2050.8,2664.5 2050.9,2667.5 2051.1,2670.5 2051.3,2673.5 2051.5,2676.5 2051.7,2679.6 2052.0,2682.6 2052.2,2685.6 2052.4,2688.6 2052.7,2691.6 2052.9,2694.7 2053.2,2697.7 2053.5,2700.7 2053.8,2703.8 2054.1,2706.8 2054.4,2709.8 2054.7,2712.9 2055.0,2715.9" fill="none" stroke="#da1a4a" stroke-width="10.5" stroke-linejoin="round"/>
<path d="M383.6,2734.0 383.8,2737.1 384.0,2740.1 384.2,2743.2 384.5,2746.3 384.7,2749.3 384.9,2752.4 385.1,2755.5 385.3,2758.5 385.5,2761.6 385.7,2764.6 385.9,2767.6 386.1,2770.7 386.3,2773.7 386.5,2776.7 386.7,2779.7 386.9,2782.8 387.1,2785.8 387.3,2788.8 387.5,2791.8 387.7,2794.8 387.9,2797.8 388.1,2800.8 388.3,2803.8 388.5,2806.8 388.7,2809.8 388.9,2812.8 389.1,2815.8 389.3,2818.7 389.5,2821.7 389.7,2824.7 389.9,2827.7 390.1,2830.6 390.3,2833.6 390.5,2836.6 390.7,2839.5 390.9,2842.5 391.1,2845.5 391.3,2848.4 391.5,2851.4 391.7,2854.3 391.9,2857.3 392.1,2860.3 392.3,2863.2 392.5,2866.2 392.7,2869.1 392.9,2872.1 393.1,2875.0 393.3,2877.9 393.5,2880.9 393.6,2883.8 393.8,2886.8 394.0,2889.7 394.2,2892.7 394.4,2895.6 394.6,2898.5 394.8,2901.5 395.0,2904.4 395.2,2907.4 395.4,2910.3 395.6,2913.2 395.8,2916.2 396.0,2919.1 396.2,2922.1 396.4,2925.0 396.6,2927.9 396.8,2930.9 397.0,2933.8 397.3,2936.8 397.5,2939.7 397.7,2942.6 397.9,2945.6 398.1,2948.5 398.3,2951.5 398.5,2954.4 398.7,2957.4 398.9,2960.3 399.1,2963.3 399.3,2966.2 399.6,2969.2 399.8,2972.1 400.0,2975.1 400.2,2978.0 400.4,2981.0 400.6,2984.0 400.9,2986.9 401.1,2989.9 401.3,2992.9 401.5,2995.8 401.7,2998.8 402.0,3001.8 402.2,3004.8 402.4,3007.7 402.7,3010.7 402.9,3013.7 403.1,3016.7 403.3,3019.7 403.6,3022.7 403.8,3025.7 404.1,3028.7 404.3,3031.7 404.5,3034.7 404.8,3037.7 405.0,3040.7 405.3,3043.7 405.5,3046.7 405.8,3049.8 406.0,3052.8 406.3,3055.8 406.5,3058.8 406.8,3061.9 407.0,3064.9 407.3,3068.0 407.5,3071.0 407.8,3074.1 408.1,3077.1 408.3,3080.2 408.6,3083.3 408.9,3086.3 409.1,3089.4 409.4,3092.5 409.7,3095.6 410.0,3098.7 410.2,3101.8 410.5,3104.9 410.8,3108.0 411.1,3111.1 411.4,3114.2 411.8,3117.3 412.1,3120.4 412.4,3123.5 412.8,3126.6 413.2,3129.7 413.5,3132.7 414.0,3135.8 414.4,3138.9 414.8,3142.0 415.3,3145.0 415.8,3148.1 416.3,3151.1 416.8,3154.2 417.3,3157.2 417.9,3160.2 418.5,3163.2 419.2,3166.2 419.8,3169.2 420.5,3172.1 421.3,3175.1 422.0,3178.0 422.8,3180.9 423.6,3183.8 424.5,3186.7 425.4,3189.6 426.4,3192.4 427.3,3195.2 428.4,3198.0 429.4,3200.8 430.5,3203.6 431.7,3206.3 432.9,3209.0 434.1,3211.7 435.4,3214.4 436.8,3217.0 438.1,3219.6 439.6,3222.2 441.1,3224.7 442.6,3227.1 444.2,3229.5 445.9,3231.9 447.6,3234.2 449.4,3236.4 451.2,3238.6 453.1,3240.7 455.0,3242.7 457.1,3244.7 459.1,3246.5 461.3,3248.3 463.4,3250.0 465.7,3251.6 468.0,3253.2 470.3,3254.6 472.7,3256.0 475.1,3257.3 477.6,3258.5 480.1,3259.6 482.7,3260.6 485.3,3261.6 487.9,3262.4 490.6,3263.2 493.3,3263.8 496.0,3264.4 498.8,3264.8 501.6,3265.2 504.4,3265.5 507.3,3265.7 510.2,3265.8 513.1,3265.8 516.0,3265.8 519.0,3265.7 521.9,3265.5 524.9,3265.2 527.9,3264.9 530.9,3264.5 534.0,3264.1 537.0,3263.6 540.0,3263.1 543.1,3262.5 546.1,3261.9 549.2,3261.3 552.2,3260.6 555.3,3259.9 558.4,3259.2 561.4,3258.5 564.5,3257.8 567.5,3257.0 570.5,3256.3 573.6,3255.5 576.6,3254.7 579.6,3254.0 582.6,3253.2 585.6,3252.4 588.6,3251.6 591.6,3250.8 594.6,3250.0 597.5,3249.1 600.5,3248.3 603.4,3247.5 606.4,3246.6 609.3,3245.8 612.3,3244.9 615.2,3244.0 618.1,3243.1 621.0,3242.2 623.9,3241.3 626.8,3240.4 629.7,3239.5 632.6,3238.5 635.5,3237.6 638.3,3236.6 641.2,3235.7 644.0,3234.7 646.9,3233.7 649.7,3232.7 652.6,3231.7 655.4,3230.7 658.2,3229.7 661.0,3228.6 663.8,3227.6 666.6,3226.5 669.4,3225.4 672.2,3224.3 675.0,3223.2 677.7,3222.1 680.5,3221.0 683.3,3219.9 686.0,3218.7 688.8,3217.6 691.5,3216.4 694.2,3215.2 696.9,3214.0 699.7,3212.8 702.4,3211.6 705.1,3210.3 707.8,3209.1 710.5,3207.8 713.1,3206.5 715.8,3205.2 718.5,3203.9 721.1,3202.6 723.8,3201.3 726.5,3199.9 729.1,3198.6 731.7,3197.2 734.4,3195.8 737.0,3194.4 739.6,3193.0 742.2,3191.5 744.8,3190.1 747.4,3188.6 750.0,3187.2 752.6,3185.7 755.2,3184.2 757.7,3182.7 760.3,3181.2 762.9,3179.6 765.4,3178.1 768.0,3176.5 770.5,3174.9 773.0,3173.4 775.5,3171.8 778.1,3170.2 780.6,3168.5 783.1,3166.9 785.6,3165.3 788.1,3163.6 790.6,3162.0 793.1,3160.3 795.5,3158.6 798.0,3156.9 800.5,3155.2 802.9,3153.5 805.4,3151.8 807.8,3150.0 810.3,3148.3 812.7,3146.5 815.1,3144.8 817.6,3143.0 820.0,3141.2 822.4,3139.4 824.8,3137.6 827.2,3135.8 829.6,3134.0 832.0,3132.1 834.3,3130.3 836.7,3128.5 839.1,3126.6 841.5,3124.7 843.8,3122.9 846.2,3121.0 848.5,3119.1 850.8,3117.2 853.2,3115.3 855.5,3113.4 857.8,3111.4 860.2,3109.5 862.5,3107.6 864.8,3105.6 867.1,3103.7 869.4,3101.7 871.7,3099.8 873.9,3097.8 876.2,3095.8 878.5,3093.8 880.8,3091.8 883.0,3089.8 885.3,3087.8 887.5,3085.8 889.8,3083.8 892.0,3081.8 894.2,3079.8 896.5,3077.7 898.7,3075.7 900.9,3073.7 903.1,3071.6 905.3,3069.6 907.5,3067.5 909.7,3065.4 911.9,3063.4 914.1,3061.3 916.3,3059.2 918.5,3057.1 920.6,3055.1 922.8,3053.0 925.0,3050.9 927.1,3048.8 929.3,3046.7 931.4,3044.6 933.6,3042.5 935.7,3040.4 937.8,3038.3 939.9,3036.1 942.1,3034.0 944.2,3031.9 946.3,3029.8 948.4,3027.6 950.5,3025.5 952.6,3023.4 954.7,3021.2 956.8,3019.1 958.8,3017.0 960.9,3014.8 963.0,3012.7 965.0,3010.5 967.1,3008.4 969.2,3006.2 971.2,3004.1 973.3,3001.9 975.3,2999.8 977.3,2997.6 979.4,2995.5 981.4,2993.3 983.4,2991.2 985.5,2989.0 987.5,2986.8 989.5,2984.7 991.5,2982.5 993.5,2980.3 995.5,2978.2 997.5,2976.0 999.5,2973.8 1001.5,2971.7 1003.5,2969.5 1005.5,2967.3 1007.5,2965.1 1009.5,2962.9 1011.5,2960.8 1013.5,2958.6 1015.5,2956.4 1017.5,2954.2 1019.4,2952.0 1021.4,2949.8 1023.4,2947.6 1025.4,2945.4 1027.3,2943.2 1029.3,2941.0 1031.3,2938.9 1033.3,2936.7 1035.2,2934.5 1037.2,2932.3 1039.2,2930.1 1041.1,2927.8 1043.1,2925.6 1045.1,2923.4 1047.1,2921.2 1049.0,2919.0 1051.0,2916.8 1053.0,2914.6 1054.9,2912.4 1056.9,2910.2 1058.9,2907.9 1060.9,2905.7 1062.8,2903.5 1064.8,2901.3 1066.8,2899.1 1068.8,2896.8 1070.7,2894.6 1072.7,2892.4 1074.7,2890.2 1076.7,2887.9 1078.7,2885.7 1080.7,2883.5 1082.6,2881.2 1084.6,2879.0 1086.6,2876.8 1088.6,2874.5 1090.6,2872.3 1092.6,2870.1 1094.6,2867.8 1096.6,2865.6 1098.7,2863.4 1100.7,2861.1 1102.7,2858.9 1104.7,2856.6 1106.7,2854.4 1108.7,2852.1 1110.8,2849.9 1112.8,2847.6 1114.8,2845.4 1116.9,2843.1 1118.9,2840.9 1120.9,2838.6 1123.0,2836.4 1125.0,2834.1 1127.1,2831.9 1129.1,2829.6 1131.2,2827.3 1133.2,2825.1 1135.2,2822.8 1137.3,2820.6 1139.3,2818.3 1141.4,2816.0 1143.4,2813.8 1145.5,2811.5 1147.5,2809.2 1149.6,2807.0 1151.6,2804.7 1153.7,2802.4 1155.7,2800.2 1157.8,2797.9 1159.8,2795.6 1161.9,2793.3 1163.9,2791.1 1166.0,2788.8 1168.0,2786.5 1170.0,2784.2 1172.1,2782.0 1174.1,2779.7 1176.2,2777.4 1178.2,2775.1 1180.2,2772.8 1182.3,2770.6 1184.3,2768.3 1186.3,2766.0 1188.3,2763.7 1190.4,2761.4 1192.4,2759.1 1194.4,2756.9 1196.4,2754.6 1198.4,2752.3 1200.4,2750.0 1202.4,2747.7 1204.4,2745.4 1206.4,2743.1 1208.4,2740.8 1210.4,2738.5 1212.4,2736.2 1214.4,2734.0 1216.3,2731.7 1218.3,2729.4 1220.3,2727.1 1222.2,2724.8 1224.2,2722.5 1226.2,2720.2 1228.1,2717.9 1230.0,2715.6 1232.0,2713.3 1233.9,2711.0 1235.8,2708.7 1237.8,2706.4 1239.7,2704.1 1241.6,2701.8 1243.5,2699.5 1245.4,2697.2 1247.3,2694.9 1249.2,2692.6 1251.1,2690.3 1253.0,2688.0 1254.9,2685.7 1256.7,2683.4 1258.6,2681.1 1260.5,2678.8 1262.4,2676.4 1264.2,2674.1 1266.1,2671.8 1268.0,2669.5 1269.8,2667.2 1271.7,2664.9 1273.5,2662.6 1275.4,2660.3 1277.2,2658.0 1279.1,2655.7 1280.9,2653.4 1282.8,2651.1 1284.6,2648.8 1286.5,2646.5 1288.3,2644.2 1290.1,2641.9 1292.0,2639.6 1293.8,2637.3 1295.6,2635.0 1297.5,2632.7 1299.3,2630.4 1301.1,2628.1 1303.0,2625.8 1304.8,2623.5 1306.6,2621.2 1308.5,2618.9 1310.3,2616.6 1312.1,2614.3 1314.0,2612.0 1315.8,2609.7 1317.6,2607.4 1319.5,2605.1 1321.3,2602.8 1323.2,2600.5 1325.0,2598.3 1326.8,2596.0 1328.7,2593.7 1330.5,2591.4 1332.4,2589.1 1334.2,2586.8 1336.1,2584.5 1337.9,2582.3 1339.8,2580.0 1341.6,2577.7 1343.5,2575.4 1345.3,2573.1 1347.2,2570.9 1349.0,2568.6 1350.9,2566.3 1352.8,2564.0 1354.7,2561.8 1356.5,2559.5 1358.4,2557.2 1360.3,2555.0 1362.2,2552.7 1364.1,2550.4 1366.0,2548.2 1367.9,2545.9 1369.8,2543.6 1371.7,2541.4 1373.6,2539.1 1375.5,2536.9 1377.4,2534.6 1379.3,2532.4 1381.3,2530.1 1383.2,2527.9 1385.1,2525.6 1387.1,2523.4 1389.0,2521.1 1391.0,2518.9 1393.0,2516.7 1394.9,2514.4 1396.9,2512.2 1398.9,2509.9 1400.9,2507.7 1402.8,2505.5 1404.8,2503.3 1406.8,2501.0 1408.9,2498.8 1410.9,2496.6 1412.9,2494.4 1414.9,2492.2 1417.0,2490.0 1419.0,2487.7 1421.1,2485.5 1423.1,2483.3 1425.2,2481.1 1427.2,2478.9 1429.3,2476.7 1431.4,2474.5 1433.5,2472.3 1435.6,2470.1 1437.7,2468.0 1439.8,2465.8 1441.9,2463.6 1444.0,2461.4 1446.2,2459.2 1448.3,2457.1 1450.4,2454.9 1452.6,2452.7 1454.7,2450.5 1456.8,2448.4 1459.0,2446.2 1461.2,2444.1 1463.3,2441.9 1465.5,2439.8 1467.7,2437.6 1469.8,2435.5 1472.0,2433.3 1474.2,2431.2 1476.4,2429.0 1478.6,2426.9 1480.7,2424.8 1482.9,2422.7 1485.1,2420.5 1487.3,2418.4 1489.5,2416.3 1491.7,2414.2 1493.9,2412.1 1496.2,2410.0 1498.4,2407.9 1500.6,2405.8 1502.8,2403.7 1505.0,2401.6 1507.2,2399.5 1509.5,2397.4 1511.7,2395.3 1513.9,2393.2 1516.1,2391.1 1518.4,2389.1 1520.6,2387.0 1522.8,2384.9 1525.0,2382.9 1527.3,2380.8 1529.5,2378.8 1531.7,2376.7 1534.0,2374.7 1536.2,2372.6 1538.4,2370.6 1540.7,2368.6 1542.9,2366.5 1545.1,2364.5 1547.4,2362.5 1549.6,2360.5 1551.8,2358.5 1554.1,2356.4 1556.3,2354.4 1558.5,2352.4 1560.8,2350.4 1563.0,2348.5 1565.2,2346.5 1567.5,2344.5 1569.7,2342.5 1572.0,2340.5 1574.2,2338.6 1576.5,2336.6 1578.7,2334.6 1580.9,2332.7 1583.2,2330.7 1585.4,2328.8 1587.7,2326.8 1590.0,2324.9 1592.2,2323.0 1594.5,2321.0 1596.7,2319.1 1599.0,2317.2 1601.3,2315.3 1603.5,2313.4 1605.8,2311.4 1608.1,2309.5 1610.3,2307.7 1612.6,2305.8 1614.9,2303.9 1617.2,2302.0 1619.5,2300.1 1621.8,2298.2 1624.1,2296.4 1626.3,2294.5 1628.6,2292.7 1630.9,2290.8 1633.3,2289.0 1635.6,2287.1 1637.9,2285.3 1640.2,2283.5 1642.5,2281.6 1644.8,2279.8 1647.2,2278.0 1649.5,2276.2 1651.8,2274.4 1654.1,2272.6 1656.5,2270.8 1658.8,2269.0 1661.2,2267.2 1663.5,2265.4 1665.9,2263.7 1668.3,2261.9 1670.6,2260.2 1673.0,2258.4 1675.4,2256.7 1677.7,2254.9 1680.1,2253.2 1682.5,2251.4 1684.9,2249.7 1687.3,2248.0 1689.7,2246.3 1692.1,2244.6 1694.5,2242.9 1697.0,2241.2 1699.4,2239.5 1701.8,2237.8 1704.3,2236.1 1706.7,2234.5 1709.1,2232.8 1711.6,2231.1 1714.1,2229.5 1716.5,2227.8 1719.0,2226.2 1721.5,2224.6 1724.0,2222.9 1726.4,2221.3 1728.9,2219.7 1731.4,2218.1 1733.9,2216.5 1736.5,2214.9 1739.0,2213.3 1741.5,2211.7 1744.0,2210.1 1746.6,2208.6 1749.1,2207.0 1751.7,2205.4 1754.2,2203.9 1756.8,2202.4 1759.4,2200.8 1762.0,2199.3 1764.6,2197.8 1767.2,2196.2 1769.8,2194.7 1772.4,2193.2 1775.0,2191.7 1777.6,2190.2 1780.3,2188.8 1782.9,2187.3 1785.6,2185.8 1788.2,2184.4 1790.9,2182.9 1793.6,2181.5 1796.2,2180.0 1798.9,2178.6 1801.6,2177.2 1804.3,2175.7 1807.0,2174.3 1809.8,2172.9 1812.5,2171.5 1815.2,2170.1 1818.0,2168.8 1820.8,2167.4 1823.5,2166.0 1826.3,2164.6 1829.1,2163.3 1831.9,2162.0 1834.7,2160.6 1837.5,2159.3 1840.3,2158.0 1843.2,2156.6 1846.0,2155.4 1848.8,2154.1 1851.7,2152.8 1854.5,2151.6 1857.4,2150.3 1860.3,2149.2 1863.2,2148.0 1866.0,2146.9 1868.9,2145.8 1871.8,2144.7 1874.7,2143.7 1877.6,2142.7 1880.4,2141.8 1883.3,2140.9 1886.2,2140.0 1889.1,2139.3 1892.0,2138.5 1894.8,2137.9 1897.7,2137.2 1900.6,2136.7 1903.4,2136.2 1906.3,2135.8 1909.2,2135.4 1912.0,2135.2 1914.8,2135.0 1917.7,2134.8 1920.5,2134.8 1923.2,2134.8 1926.0,2135.0 1928.8,2135.2 1931.5,2135.5 1934.2,2135.9 1936.9,2136.4 1939.5,2137.0 1942.2,2137.7 1944.8,2138.5 1947.3,2139.4 1949.9,2140.4 1952.4,2141.5 1954.8,2142.7 1957.2,2144.1 1959.6,2145.5 1961.9,2147.1 1964.2,2148.7 1966.5,2150.4 1968.7,2152.3 1970.9,2154.2 1973.1,2156.2 1975.2,2158.2 1977.2,2160.4 1979.2,2162.6 1981.2,2164.9 1983.1,2167.2 1985.0,2169.6 1986.9,2172.1 1988.7,2174.6 1990.4,2177.2 1992.1,2179.8 1993.8,2182.5 1995.4,2185.2 1997.0,2187.9 1998.5,2190.7 2000.0,2193.5 2001.5,2196.4 2002.9,2199.2 2004.2,2202.1 2005.5,2205.0 2006.8,2207.9 2008.1,2210.8 2009.3,2213.7 2010.5,2216.7 2011.6,2219.6 2012.7,2222.5 2013.8,2225.4 2014.9,2228.4 2015.9,2231.3 2016.9,2234.2 2017.8,2237.2 2018.8,2240.1 2019.7,2243.0 2020.5,2246.0 2021.4,2248.9 2022.2,2251.8 2023.0,2254.8 2023.7,2257.7 2024.5,2260.6 2025.2,2263.6 2025.9,2266.5 2026.5,2269.5 2027.2,2272.4 2027.8,2275.3 2028.4,2278.3 2028.9,2281.2 2029.5,2284.2 2030.0,2287.1 2030.5,2290.1 2031.0,2293.0 2031.4,2296.0 2031.9,2298.9 2032.3,2301.9 2032.7,2304.8 2033.1,2307.8 2033.4,2310.8 2033.8,2313.7 2034.1,2316.7 2034.4,2319.6 2034.7,2322.6 2035.0,2325.5 2035.3,2328.5 2035.5,2331.5 2035.8,2334.4 2036.0,2337.4 2036.2,2340.4 2036.4,2343.3 2036.6,2346.3 2036.8,2349.3 2037.0,2352.2 2037.1,2355.2 2037.3,2358.2 2037.4,2361.1 2037.6,2364.1 2037.7,2367.1 2037.8,2370.0 2037.9,2373.0 2038.0,2376.0 2038.1,2379.0 2038.2,2381.9 2038.3,2384.9 2038.4,2387.9 2038.5,2390.9 2038.5,2393.8 2038.6,2396.8 2038.7,2399.8 2038.8,2402.8 2038.8,2405.8 2038.9,2408.7 2039.0,2411.7 2039.0,2414.7 2039.1,2417.7 2039.2,2420.7 2039.3,2423.7 2039.3,2426.7 2039.4,2429.6 2039.5,2432.6 2039.6,2435.6 2039.7,2438.6 2039.8,2441.6 2039.9,2444.6 2040.0,2447.6 2040.1,2450.6 2040.2,2453.5 2040.3,2456.5 2040.5,2459.5 2040.6,2462.5 2040.8,2465.5 2040.9,2468.5 2041.1,2471.5 2041.2,2474.5 2041.4,2477.5 2041.6,2480.5 2041.8,2483.5 2042.0,2486.5 2042.2,2489.5 2042.4,2492.5 2042.6,2495.5 2042.9,2498.5 2043.1,2501.5 2043.3,2504.5 2043.6,2507.5 2043.8,2510.5 2044.0,2513.5 2044.3,2516.5 2044.5,2519.5 2044.8,2522.5 2045.0,2525.5 2045.3,2528.5 2045.6,2531.5 2045.8,2534.5 2046.1,2537.5 2046.3,2540.5 2046.6,2543.5 2046.9,2546.5 2047.1,2549.5 2047.4,2552.5 2047.7,2555.5 2047.9,2558.5 2048.2,2561.5 2048.5,2564.5 2048.7,2567.5 2049.0,2570.5 2049.3,2573.5 2049.5,2576.5 2049.8,2579.5 2050.0,2582.5 2050.3,2585.5 2050.5,2588.5 2050.7,2591.5 2051.0,2594.5 2051.2,2597.5 2051.4,2600.5 2051.7,2603.5 2051.9,2606.5 2052.1,2609.5 2052.3,2612.5 2052.5,2615.5 2052.7,2618.5 2052.9,2621.5 2053.1,2624.5 2053.3,2627.5 2053.4,2630.4 2053.6,2633.4 2053.8,2636.4 2053.9,2639.4 2054.1,2642.4 2054.2,2645.4 2054.3,2648.4 2054.4,2651.4 2054.5,2654.4 2054.6,2657.4 2054.7,2660.4 2054.8,2663.4 2054.8,2666.4 2054.9,2669.4 2054.9,2672.4 2055.0,2675.4 2055.0,2678.3 2055.0,2681.3 2055.0,2684.3 2055.0,2687.3 2054.9,2690.3 2054.9,2693.3 2054.8,2696.3 2054.8,2699.3 2054.7,2702.2 2054.6,2705.2" fill="none" stroke="#033d7e" stroke-width="15.5" stroke-linejoin="round"/>
<text x="1861" y="209.5" text-anchor="middle" style="font-family:'Liberation Sans',Arial,Helvetica,sans-serif;font-size:110px">(a)</text>
<text x="1863" y="3461" text-anchor="middle" style="font-family:'Liberation Sans',Arial,Helvetica,sans-serif;font-size:110px">(b)</text>
<text transform="translate(1079.4,3826) scale(0.915,0.989)" style="font-family:'Liberation Serif',serif;font-style:italic;font-size:148px">Y</text>
<text transform="translate(1182.9,3854.7) scale(1.036,1.324)" style="font-family:'Liberation Serif',serif;font-style:italic;font-size:148px">/</text>
<text transform="translate(1247.7,3826) scale(0.838,0.989)" style="font-family:'Liberation Serif',serif;font-style:italic;font-size:148px">H</text>
<g transform="rotate(-90)"><text transform="translate(-1133.5,132.2) scale(1.220,1.000)" style="font-family:'Liberation Serif',serif;font-style:italic;font-size:148px">u</text><text transform="translate(-1015.7,160.7) scale(0.951,1.313)" style="font-family:'Liberation Serif',serif;font-style:italic;font-size:148px">/</text><text transform="translate(-968.3,132.2) scale(1.220,1.000)" style="font-family:'Liberation Serif',serif;font-style:italic;font-size:148px">u</text><text transform="translate(-875.2,161.7) scale(1.255,1.000)" style="font-family:'Liberation Serif',serif;font-style:italic;font-size:108px">m</text><text transform="translate(-777.5,160.7) scale(1.170,1.000)" style="font-family:'Liberation Serif',serif;font-style:italic;font-size:108px">a</text><text transform="translate(-711.1,161.7) scale(1.208,1.000)" style="font-family:'Liberation Serif',serif;font-style:italic;font-size:108px">x</text></g>
<g transform="rotate(-90)"><text transform="translate(-2984.9,133) scale(1.116,1.000)" style="font-family:'Liberation Serif',serif;font-style:italic;font-size:148px">w</text><text transform="translate(-2858.2,160.7) scale(1.025,1.313)" style="font-family:'Liberation Serif',serif;font-style:italic;font-size:148px">/</text><text transform="translate(-2807.3,131) scale(1.220,1.000)" style="font-family:'Liberation Serif',serif;font-style:italic;font-size:148px">u</text><text transform="translate(-2713,161.2) scale(1.258,1.000)" style="font-family:'Liberation Serif',serif;font-style:italic;font-size:108px">m</text><text transform="translate(-2615.8,160.2) scale(1.200,1.000)" style="font-family:'Liberation Serif',serif;font-style:italic;font-size:108px">a</text><text transform="translate(-2549.4,161) scale(1.219,1.000)" style="font-family:'Liberation Serif',serif;font-style:italic;font-size:108px">x</text></g>
<rect x="831.9" y="579.3" width="774.9" height="1088.7" fill="#fff" stroke="#000" stroke-width="6" stroke-linejoin="round"/>
<path d="M847 646H1037" stroke="#033d7e" stroke-width="15.5"/>
<path d="M847 766.5H1037" stroke="#da1a4a" stroke-width="10.5"/>
<path d="M847 886.5H1037" stroke="#00864e" stroke-width="10.5"/>
<g fill="none" stroke="#ff8200" stroke-width="5.6"><circle cx="941.8" cy="1007" r="9.3"/></g>
<g fill="none" stroke="#561a86" stroke-width="5.4"><path d="M941.8 1114.8L953 1133.8L930.6 1133.8Z"/></g>
<path d="M926.6 1232.3L957 1262.7M926.6 1262.7L957 1232.3" fill="none" stroke="#000" stroke-width="6.0"/>
<g fill="none" stroke="#06a89f" stroke-width="5.6"><path d="M941.8 1354.4L951 1367.5L941.8 1380.6L932.6 1367.5Z"/></g>
<g fill="#d7840f"><polygon points="941.8,1468.7 946,1481.7 959.7,1481.7 948.6,1489.7 952.9,1502.7 941.8,1494.7 930.7,1502.7 935,1489.7 923.9,1481.7 937.6,1481.7"/></g>
<path d="M919.8 1608H963.8M941.8 1586V1630" fill="none" stroke="#000" stroke-width="6.4"/>
<text x="1049" y="658" style="font-family:'Liberation Sans',Arial,Helvetica,sans-serif;font-size:68px">DES Re<tspan dy="34" style="font-size:53.5px">Dh</tspan><tspan dy="-34"> = 30k</tspan></text>
<text x="1049" y="778.5" style="font-family:'Liberation Sans',Arial,Helvetica,sans-serif;font-size:68px">EB Re<tspan dy="34" style="font-size:53.5px">Dh</tspan><tspan dy="-34"> = 30k</tspan></text>
<text x="1049" y="898.5" style="font-family:'Liberation Sans',Arial,Helvetica,sans-serif;font-size:68px">k-<tspan style="font-family:'Liberation Serif',serif;font-style:italic">ω</tspan> Re<tspan dy="34" style="font-size:53.5px">Dh</tspan><tspan dy="-34"> = 30k</tspan></text>
<text x="1049" y="1019" style="font-family:'Liberation Sans',Arial,Helvetica,sans-serif;font-size:68px">Probe Re<tspan dy="34" style="font-size:53.5px">Dh</tspan><tspan dy="-34"> = 10k</tspan></text>
<text x="1049" y="1139" style="font-family:'Liberation Sans',Arial,Helvetica,sans-serif;font-size:68px">Probe Re<tspan dy="34" style="font-size:53.5px">Dh</tspan><tspan dy="-34"> = 20k</tspan></text>
<text x="1049" y="1259.5" style="font-family:'Liberation Sans',Arial,Helvetica,sans-serif;font-size:68px">Probe Re<tspan dy="34" style="font-size:53.5px">Dh</tspan><tspan dy="-34"> = 30k</tspan></text>
<text x="1049" y="1379.5" style="font-family:'Liberation Sans',Arial,Helvetica,sans-serif;font-size:68px">PTV Re<tspan dy="34" style="font-size:53.5px">Dh</tspan><tspan dy="-34"> = 10k</tspan></text>
<text x="1049" y="1499.5" style="font-family:'Liberation Sans',Arial,Helvetica,sans-serif;font-size:68px">PTV Re<tspan dy="34" style="font-size:53.5px">Dh</tspan><tspan dy="-34"> = 20k</tspan></text>
<text x="1049" y="1620" style="font-family:'Liberation Sans',Arial,Helvetica,sans-serif;font-size:68px">PTV Re<tspan dy="34" style="font-size:53.5px">Dh</tspan><tspan dy="-34"> = 30k</tspan></text>
</svg>
</body></html>
